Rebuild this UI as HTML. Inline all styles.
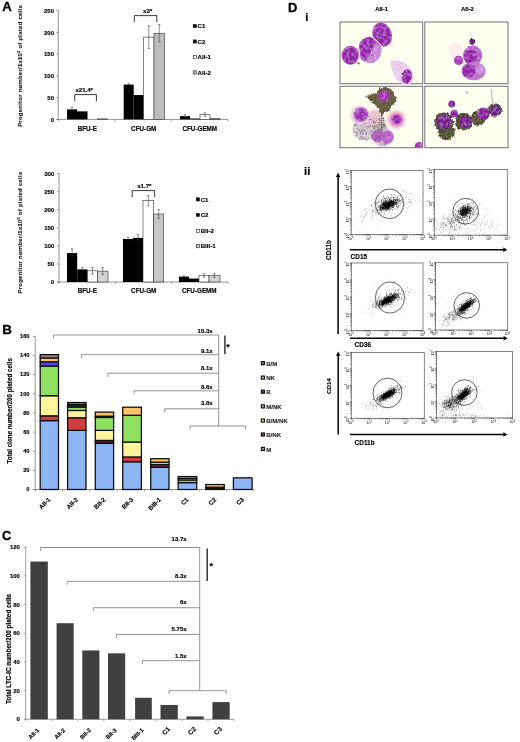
<!DOCTYPE html>
<html><head><meta charset="utf-8"><title>Figure</title>
<style>
html,body{margin:0;padding:0;background:#fff;}
body{width:520px;height:742px;overflow:hidden;font-family:"Liberation Sans",sans-serif;}
svg{display:block;font-family:"Liberation Sans",sans-serif;filter:blur(0.3px);}
</style></head><body>
<svg width="520" height="742" viewBox="0 0 520 742">
<defs>
<filter id="b1" x="-30%" y="-30%" width="160%" height="160%"><feGaussianBlur stdDeviation="0.6"/></filter>
<filter id="b2" x="-30%" y="-30%" width="160%" height="160%"><feGaussianBlur stdDeviation="1.3"/></filter>
<filter id="b3" x="-30%" y="-30%" width="160%" height="160%"><feGaussianBlur stdDeviation="0.4"/></filter>
<filter id="tex" x="-10%" y="-10%" width="120%" height="120%">
<feTurbulence type="fractalNoise" baseFrequency="0.22" numOctaves="2" seed="2" result="dn"/>
<feDisplacementMap in="SourceGraphic" in2="dn" scale="1.8" xChannelSelector="R" yChannelSelector="G" result="sg"/>
<feTurbulence type="fractalNoise" baseFrequency="0.3" numOctaves="2" seed="5" result="n"/>
<feColorMatrix in="n" type="matrix" values="0 0 0 0 0.80  0 0 0 0 0.50  0 0 0 0 0.86  0.95 0 0 0 -0.42" result="w"/>
<feComposite in="w" in2="sg" operator="in" result="wc"/>
<feMerge><feMergeNode in="sg"/><feMergeNode in="wc"/></feMerge>
<feGaussianBlur stdDeviation="0.55"/>
</filter>
<filter id="tex2" x="-10%" y="-10%" width="120%" height="120%">
<feTurbulence type="fractalNoise" baseFrequency="0.3" numOctaves="2" seed="4" result="dn"/>
<feDisplacementMap in="SourceGraphic" in2="dn" scale="4" xChannelSelector="R" yChannelSelector="G" result="sg"/>
<feTurbulence type="fractalNoise" baseFrequency="0.6" numOctaves="2" seed="9" result="n"/>
<feColorMatrix in="n" type="matrix" values="0 0 0 0 0.22  0 0 0 0 0.20  0 0 0 0 0.10  2.2 0 0 0 -0.85" result="w"/>
<feComposite in="w" in2="sg" operator="in" result="wc"/>
<feMerge><feMergeNode in="sg"/><feMergeNode in="wc"/></feMerge>
<feGaussianBlur stdDeviation="0.5"/>
</filter>
<clipPath id="c1"><rect x="340" y="22" width="82.7" height="61.7"/></clipPath>
<clipPath id="c2"><rect x="424.8" y="22" width="83.2" height="61.7"/></clipPath>
<clipPath id="c3"><rect x="340" y="86.3" width="82.7" height="61.4"/></clipPath>
<clipPath id="c4"><rect x="424.8" y="86.3" width="83.2" height="61.4"/></clipPath>
</defs>
<rect width="520" height="742" fill="#fff"/>
<g id="A"><text x="2.20" y="10.80" font-size="13.2" font-weight="bold" fill="#000" stroke="#000" stroke-width="0.3">A</text>
<line x1="58.20" y1="10.10" x2="58.20" y2="120.90" stroke="#777" stroke-width="0.8"/>
<line x1="56.70" y1="119.40" x2="228.00" y2="119.40" stroke="#777" stroke-width="0.8"/>
<line x1="56.20" y1="119.40" x2="58.20" y2="119.40" stroke="#777" stroke-width="0.7"/>
<text x="54.00" y="121.60" font-size="6.0" text-anchor="end" font-weight="bold" fill="#000" stroke="#000" stroke-width="0.14" >0</text>
<line x1="56.20" y1="97.64" x2="58.20" y2="97.64" stroke="#777" stroke-width="0.7"/>
<text x="54.00" y="99.84" font-size="6.0" text-anchor="end" font-weight="bold" fill="#000" stroke="#000" stroke-width="0.14" >50</text>
<line x1="56.20" y1="75.88" x2="58.20" y2="75.88" stroke="#777" stroke-width="0.7"/>
<text x="54.00" y="78.08" font-size="6.0" text-anchor="end" font-weight="bold" fill="#000" stroke="#000" stroke-width="0.14" >100</text>
<line x1="56.20" y1="54.12" x2="58.20" y2="54.12" stroke="#777" stroke-width="0.7"/>
<text x="54.00" y="56.32" font-size="6.0" text-anchor="end" font-weight="bold" fill="#000" stroke="#000" stroke-width="0.14" >150</text>
<line x1="56.20" y1="32.36" x2="58.20" y2="32.36" stroke="#777" stroke-width="0.7"/>
<text x="54.00" y="34.56" font-size="6.0" text-anchor="end" font-weight="bold" fill="#000" stroke="#000" stroke-width="0.14" >200</text>
<line x1="56.20" y1="10.60" x2="58.20" y2="10.60" stroke="#777" stroke-width="0.7"/>
<text x="54.00" y="12.80" font-size="6.0" text-anchor="end" font-weight="bold" fill="#000" stroke="#000" stroke-width="0.14" >250</text>
<line x1="114.80" y1="119.40" x2="114.80" y2="121.40" stroke="#777" stroke-width="0.7"/>
<line x1="171.40" y1="119.40" x2="171.40" y2="121.40" stroke="#777" stroke-width="0.7"/>
<line x1="228.00" y1="119.40" x2="228.00" y2="121.40" stroke="#777" stroke-width="0.7"/>
<text x="19.60" y="65.90" font-size="5.85" text-anchor="middle" font-weight="bold" fill="#1c1c1c" stroke="#1c1c1c" stroke-width="0.14" transform="rotate(-90 19.6 65.9)" dy="2" letter-spacing="0.31">Progenitor number/1x10<tspan font-size="3.6" dy="-2">3</tspan><tspan dy="2"> of plated cells</tspan></text>
<rect x="67.00" y="109.39" width="10.00" height="10.01" fill="#000"/>
<line x1="72.00" y1="107.21" x2="72.00" y2="111.57" stroke="#444" stroke-width="0.6"/>
<line x1="70.80" y1="107.21" x2="73.20" y2="107.21" stroke="#444" stroke-width="0.6"/>
<rect x="77.00" y="111.35" width="10.50" height="8.05" fill="#000"/>
<rect x="97.50" y="118.88" width="10.00" height="0.52" fill="#bbb" stroke="#333" stroke-width="0.6"/>
<rect x="123.70" y="84.58" width="10.00" height="34.82" fill="#000"/>
<line x1="128.70" y1="83.71" x2="128.70" y2="85.45" stroke="#444" stroke-width="0.6"/>
<line x1="127.50" y1="83.71" x2="129.90" y2="83.71" stroke="#444" stroke-width="0.6"/>
<rect x="133.70" y="95.03" width="10.00" height="24.37" fill="#000"/>
<rect x="143.70" y="37.15" width="10.30" height="82.25" fill="#fff" stroke="#333" stroke-width="0.6"/>
<line x1="148.85" y1="25.83" x2="148.85" y2="48.46" stroke="#444" stroke-width="0.6"/>
<line x1="147.65" y1="25.83" x2="150.05" y2="25.83" stroke="#444" stroke-width="0.6"/>
<line x1="147.65" y1="48.46" x2="150.05" y2="48.46" stroke="#444" stroke-width="0.6"/>
<rect x="154.00" y="33.23" width="10.50" height="86.17" fill="#bdbdbd" stroke="#333" stroke-width="0.6"/>
<line x1="159.25" y1="24.53" x2="159.25" y2="41.93" stroke="#444" stroke-width="0.6"/>
<line x1="158.05" y1="24.53" x2="160.45" y2="24.53" stroke="#444" stroke-width="0.6"/>
<line x1="158.05" y1="41.93" x2="160.45" y2="41.93" stroke="#444" stroke-width="0.6"/>
<rect x="180.00" y="116.14" width="10.00" height="3.26" fill="#000"/>
<line x1="185.00" y1="114.40" x2="185.00" y2="117.88" stroke="#444" stroke-width="0.6"/>
<line x1="183.80" y1="114.40" x2="186.20" y2="114.40" stroke="#444" stroke-width="0.6"/>
<rect x="190.00" y="118.53" width="10.00" height="0.87" fill="#000"/>
<rect x="200.00" y="114.61" width="10.00" height="4.79" fill="#fff" stroke="#333" stroke-width="0.6"/>
<line x1="205.00" y1="112.87" x2="205.00" y2="116.35" stroke="#444" stroke-width="0.6"/>
<line x1="203.80" y1="112.87" x2="206.20" y2="112.87" stroke="#444" stroke-width="0.6"/>
<line x1="203.80" y1="116.35" x2="206.20" y2="116.35" stroke="#444" stroke-width="0.6"/>
<rect x="210.00" y="118.31" width="10.00" height="1.09" fill="#bbb" stroke="#333" stroke-width="0.6"/>
<text x="87.30" y="131.30" font-size="6.3" text-anchor="middle" font-weight="bold" fill="#000" stroke="#000" stroke-width="0.14" >BFU-E</text>
<text x="143.70" y="131.30" font-size="6.3" text-anchor="middle" font-weight="bold" fill="#000" stroke="#000" stroke-width="0.14" >CFU-GM</text>
<text x="199.80" y="131.30" font-size="6.3" text-anchor="middle" font-weight="bold" fill="#000" stroke="#000" stroke-width="0.14" >CFU-GEMM</text>
<path d="M74.7 101.2V94.6H96.4V101.2" fill="none" stroke="#222" stroke-width="0.9"/>
<text x="84.20" y="91.70" font-size="6.1" text-anchor="middle" font-weight="bold" fill="#000" stroke="#000" stroke-width="0.14" >x21.4*</text>
<path d="M134.3 22V15.6H156.8V22" fill="none" stroke="#222" stroke-width="0.9"/>
<text x="147.60" y="12.60" font-size="6.1" text-anchor="middle" font-weight="bold" fill="#000" stroke="#000" stroke-width="0.14" >x3*</text>
<rect x="193.20" y="24.50" width="3.20" height="3.20" fill="#000" stroke="#222" stroke-width="0.6"/>
<text x="197.60" y="28.30" font-size="6.1" text-anchor="start" font-weight="bold" fill="#000" stroke="#000" stroke-width="0.14" >C1</text>
<rect x="193.20" y="39.90" width="3.20" height="3.20" fill="#000" stroke="#222" stroke-width="0.6"/>
<text x="197.60" y="43.70" font-size="6.1" text-anchor="start" font-weight="bold" fill="#000" stroke="#000" stroke-width="0.14" >C2</text>
<rect x="193.20" y="55.30" width="3.20" height="3.20" fill="#fff" stroke="#222" stroke-width="0.6"/>
<text x="197.60" y="59.10" font-size="6.1" text-anchor="start" font-weight="bold" fill="#000" stroke="#000" stroke-width="0.14" >AII-1</text>
<rect x="193.20" y="70.80" width="3.20" height="3.20" fill="#bbb" stroke="#222" stroke-width="0.6"/>
<text x="197.60" y="74.60" font-size="6.1" text-anchor="start" font-weight="bold" fill="#000" stroke="#000" stroke-width="0.14" >AII-2</text>
<line x1="59.00" y1="173.00" x2="59.00" y2="283.50" stroke="#777" stroke-width="0.8"/>
<line x1="57.50" y1="282.00" x2="228.00" y2="282.00" stroke="#777" stroke-width="0.8"/>
<line x1="57.00" y1="282.00" x2="59.00" y2="282.00" stroke="#777" stroke-width="0.7"/>
<text x="54.20" y="284.20" font-size="6.0" text-anchor="end" font-weight="bold" fill="#000" stroke="#000" stroke-width="0.14" >0</text>
<line x1="57.00" y1="263.92" x2="59.00" y2="263.92" stroke="#777" stroke-width="0.7"/>
<text x="54.20" y="266.12" font-size="6.0" text-anchor="end" font-weight="bold" fill="#000" stroke="#000" stroke-width="0.14" >50</text>
<line x1="57.00" y1="245.83" x2="59.00" y2="245.83" stroke="#777" stroke-width="0.7"/>
<text x="54.20" y="248.03" font-size="6.0" text-anchor="end" font-weight="bold" fill="#000" stroke="#000" stroke-width="0.14" >100</text>
<line x1="57.00" y1="227.75" x2="59.00" y2="227.75" stroke="#777" stroke-width="0.7"/>
<text x="54.20" y="229.95" font-size="6.0" text-anchor="end" font-weight="bold" fill="#000" stroke="#000" stroke-width="0.14" >150</text>
<line x1="57.00" y1="209.67" x2="59.00" y2="209.67" stroke="#777" stroke-width="0.7"/>
<text x="54.20" y="211.87" font-size="6.0" text-anchor="end" font-weight="bold" fill="#000" stroke="#000" stroke-width="0.14" >200</text>
<line x1="57.00" y1="191.58" x2="59.00" y2="191.58" stroke="#777" stroke-width="0.7"/>
<text x="54.20" y="193.78" font-size="6.0" text-anchor="end" font-weight="bold" fill="#000" stroke="#000" stroke-width="0.14" >250</text>
<line x1="57.00" y1="173.50" x2="59.00" y2="173.50" stroke="#777" stroke-width="0.7"/>
<text x="54.20" y="175.70" font-size="6.0" text-anchor="end" font-weight="bold" fill="#000" stroke="#000" stroke-width="0.14" >300</text>
<line x1="115.33" y1="282.00" x2="115.33" y2="284.00" stroke="#777" stroke-width="0.7"/>
<line x1="171.67" y1="282.00" x2="171.67" y2="284.00" stroke="#777" stroke-width="0.7"/>
<line x1="228.00" y1="282.00" x2="228.00" y2="284.00" stroke="#777" stroke-width="0.7"/>
<text x="19.60" y="232.50" font-size="5.85" text-anchor="middle" font-weight="bold" fill="#1c1c1c" stroke="#1c1c1c" stroke-width="0.14" transform="rotate(-90 19.6 232.5)" dy="2" letter-spacing="0.31">Progenitor number/1x10<tspan font-size="3.6" dy="-2">3</tspan><tspan dy="2"> of plated cells</tspan></text>
<rect x="67.00" y="253.07" width="10.20" height="28.93" fill="#000"/>
<line x1="72.10" y1="248.73" x2="72.10" y2="257.41" stroke="#444" stroke-width="0.6"/>
<line x1="70.90" y1="248.73" x2="73.30" y2="248.73" stroke="#444" stroke-width="0.6"/>
<rect x="77.20" y="269.34" width="10.30" height="12.66" fill="#000"/>
<line x1="82.35" y1="267.53" x2="82.35" y2="271.15" stroke="#444" stroke-width="0.6"/>
<line x1="81.15" y1="267.53" x2="83.55" y2="267.53" stroke="#444" stroke-width="0.6"/>
<rect x="87.50" y="270.79" width="10.00" height="11.21" fill="#fff" stroke="#333" stroke-width="0.6"/>
<line x1="92.50" y1="267.53" x2="92.50" y2="274.04" stroke="#444" stroke-width="0.6"/>
<line x1="91.30" y1="267.53" x2="93.70" y2="267.53" stroke="#444" stroke-width="0.6"/>
<line x1="91.30" y1="274.04" x2="93.70" y2="274.04" stroke="#444" stroke-width="0.6"/>
<rect x="97.50" y="271.15" width="10.50" height="10.85" fill="#d2d2d2" stroke="#333" stroke-width="0.6"/>
<line x1="102.75" y1="267.53" x2="102.75" y2="274.77" stroke="#444" stroke-width="0.6"/>
<line x1="101.55" y1="267.53" x2="103.95" y2="267.53" stroke="#444" stroke-width="0.6"/>
<line x1="101.55" y1="274.77" x2="103.95" y2="274.77" stroke="#444" stroke-width="0.6"/>
<rect x="123.00" y="238.96" width="10.00" height="43.04" fill="#000"/>
<line x1="128.00" y1="237.15" x2="128.00" y2="240.77" stroke="#444" stroke-width="0.6"/>
<line x1="126.80" y1="237.15" x2="129.20" y2="237.15" stroke="#444" stroke-width="0.6"/>
<rect x="133.00" y="237.88" width="10.00" height="44.12" fill="#000"/>
<line x1="138.00" y1="234.62" x2="138.00" y2="241.13" stroke="#444" stroke-width="0.6"/>
<line x1="136.80" y1="234.62" x2="139.20" y2="234.62" stroke="#444" stroke-width="0.6"/>
<rect x="143.00" y="200.62" width="10.70" height="81.38" fill="#fff" stroke="#333" stroke-width="0.6"/>
<line x1="148.35" y1="195.56" x2="148.35" y2="205.69" stroke="#444" stroke-width="0.6"/>
<line x1="147.15" y1="195.56" x2="149.55" y2="195.56" stroke="#444" stroke-width="0.6"/>
<line x1="147.15" y1="205.69" x2="149.55" y2="205.69" stroke="#444" stroke-width="0.6"/>
<rect x="153.70" y="214.01" width="10.00" height="67.99" fill="#c6c6c6" stroke="#333" stroke-width="0.6"/>
<line x1="158.70" y1="209.67" x2="158.70" y2="218.35" stroke="#444" stroke-width="0.6"/>
<line x1="157.50" y1="209.67" x2="159.90" y2="209.67" stroke="#444" stroke-width="0.6"/>
<line x1="157.50" y1="218.35" x2="159.90" y2="218.35" stroke="#444" stroke-width="0.6"/>
<rect x="179.00" y="276.57" width="10.00" height="5.43" fill="#000"/>
<line x1="184.00" y1="275.85" x2="184.00" y2="277.30" stroke="#444" stroke-width="0.6"/>
<line x1="182.80" y1="275.85" x2="185.20" y2="275.85" stroke="#444" stroke-width="0.6"/>
<rect x="189.00" y="278.56" width="10.00" height="3.44" fill="#000"/>
<rect x="199.00" y="275.49" width="10.00" height="6.51" fill="#fff" stroke="#333" stroke-width="0.6"/>
<line x1="204.00" y1="273.68" x2="204.00" y2="277.30" stroke="#444" stroke-width="0.6"/>
<line x1="202.80" y1="273.68" x2="205.20" y2="273.68" stroke="#444" stroke-width="0.6"/>
<line x1="202.80" y1="277.30" x2="205.20" y2="277.30" stroke="#444" stroke-width="0.6"/>
<rect x="209.00" y="275.49" width="11.00" height="6.51" fill="#d2d2d2" stroke="#333" stroke-width="0.6"/>
<line x1="214.50" y1="273.32" x2="214.50" y2="277.66" stroke="#444" stroke-width="0.6"/>
<line x1="213.30" y1="273.32" x2="215.70" y2="273.32" stroke="#444" stroke-width="0.6"/>
<line x1="213.30" y1="277.66" x2="215.70" y2="277.66" stroke="#444" stroke-width="0.6"/>
<text x="87.30" y="293.00" font-size="6.3" text-anchor="middle" font-weight="bold" fill="#000" stroke="#000" stroke-width="0.14" >BFU-E</text>
<text x="143.70" y="293.00" font-size="6.3" text-anchor="middle" font-weight="bold" fill="#000" stroke="#000" stroke-width="0.14" >CFU-GM</text>
<text x="199.30" y="293.00" font-size="6.3" text-anchor="middle" font-weight="bold" fill="#000" stroke="#000" stroke-width="0.14" >CFU-GEMM</text>
<path d="M132.2 197V190.6H154.6V197" fill="none" stroke="#222" stroke-width="0.9"/>
<text x="144.30" y="187.70" font-size="6.1" text-anchor="middle" font-weight="bold" fill="#000" stroke="#000" stroke-width="0.14" >x1.7*</text>
<rect x="196.30" y="197.80" width="3.20" height="3.20" fill="#000" stroke="#222" stroke-width="0.6"/>
<text x="200.70" y="201.60" font-size="6.1" text-anchor="start" font-weight="bold" fill="#000" stroke="#000" stroke-width="0.14" >C1</text>
<rect x="196.30" y="213.30" width="3.20" height="3.20" fill="#000" stroke="#222" stroke-width="0.6"/>
<text x="200.70" y="217.10" font-size="6.1" text-anchor="start" font-weight="bold" fill="#000" stroke="#000" stroke-width="0.14" >C2</text>
<rect x="196.30" y="229.30" width="3.20" height="3.20" fill="#fff" stroke="#222" stroke-width="0.6"/>
<text x="200.70" y="233.10" font-size="6.1" text-anchor="start" font-weight="bold" fill="#000" stroke="#000" stroke-width="0.14" >BII-2</text>
<rect x="196.30" y="244.60" width="3.20" height="3.20" fill="#ccc" stroke="#222" stroke-width="0.6"/>
<text x="200.70" y="248.40" font-size="6.1" text-anchor="start" font-weight="bold" fill="#000" stroke="#000" stroke-width="0.14" >BIII-1</text></g>
<g id="B"><text x="2.30" y="334.00" font-size="13.4" font-weight="bold" fill="#000" stroke="#000" stroke-width="0.3">B</text>
<line x1="35.20" y1="335.90" x2="35.20" y2="491.00" stroke="#777" stroke-width="0.8"/>
<line x1="33.70" y1="489.50" x2="253.80" y2="489.50" stroke="#777" stroke-width="0.8"/>
<line x1="33.00" y1="489.50" x2="35.20" y2="489.50" stroke="#777" stroke-width="0.7"/>
<text x="29.60" y="491.20" font-size="5.8" text-anchor="end" font-weight="bold" fill="#000" stroke="#000" stroke-width="0.14" >0</text>
<line x1="33.00" y1="470.36" x2="35.20" y2="470.36" stroke="#777" stroke-width="0.7"/>
<text x="29.60" y="472.06" font-size="5.8" text-anchor="end" font-weight="bold" fill="#000" stroke="#000" stroke-width="0.14" >20</text>
<line x1="33.00" y1="451.23" x2="35.20" y2="451.23" stroke="#777" stroke-width="0.7"/>
<text x="29.60" y="452.93" font-size="5.8" text-anchor="end" font-weight="bold" fill="#000" stroke="#000" stroke-width="0.14" >40</text>
<line x1="33.00" y1="432.09" x2="35.20" y2="432.09" stroke="#777" stroke-width="0.7"/>
<text x="29.60" y="433.79" font-size="5.8" text-anchor="end" font-weight="bold" fill="#000" stroke="#000" stroke-width="0.14" >60</text>
<line x1="33.00" y1="412.95" x2="35.20" y2="412.95" stroke="#777" stroke-width="0.7"/>
<text x="29.60" y="414.65" font-size="5.8" text-anchor="end" font-weight="bold" fill="#000" stroke="#000" stroke-width="0.14" >80</text>
<line x1="33.00" y1="393.81" x2="35.20" y2="393.81" stroke="#777" stroke-width="0.7"/>
<text x="29.60" y="395.51" font-size="5.8" text-anchor="end" font-weight="bold" fill="#000" stroke="#000" stroke-width="0.14" >100</text>
<line x1="33.00" y1="374.67" x2="35.20" y2="374.67" stroke="#777" stroke-width="0.7"/>
<text x="29.60" y="376.37" font-size="5.8" text-anchor="end" font-weight="bold" fill="#000" stroke="#000" stroke-width="0.14" >120</text>
<line x1="33.00" y1="355.54" x2="35.20" y2="355.54" stroke="#777" stroke-width="0.7"/>
<text x="29.60" y="357.24" font-size="5.8" text-anchor="end" font-weight="bold" fill="#000" stroke="#000" stroke-width="0.14" >140</text>
<line x1="33.00" y1="336.40" x2="35.20" y2="336.40" stroke="#777" stroke-width="0.7"/>
<text x="29.60" y="338.10" font-size="5.8" text-anchor="end" font-weight="bold" fill="#000" stroke="#000" stroke-width="0.14" >160</text>
<line x1="62.53" y1="489.50" x2="62.53" y2="491.50" stroke="#777" stroke-width="0.7"/>
<line x1="89.85" y1="489.50" x2="89.85" y2="491.50" stroke="#777" stroke-width="0.7"/>
<line x1="117.18" y1="489.50" x2="117.18" y2="491.50" stroke="#777" stroke-width="0.7"/>
<line x1="144.50" y1="489.50" x2="144.50" y2="491.50" stroke="#777" stroke-width="0.7"/>
<line x1="171.82" y1="489.50" x2="171.82" y2="491.50" stroke="#777" stroke-width="0.7"/>
<line x1="199.15" y1="489.50" x2="199.15" y2="491.50" stroke="#777" stroke-width="0.7"/>
<line x1="226.48" y1="489.50" x2="226.48" y2="491.50" stroke="#777" stroke-width="0.7"/>
<line x1="253.80" y1="489.50" x2="253.80" y2="491.50" stroke="#777" stroke-width="0.7"/>
<text x="9.60" y="410.80" font-size="6.28" text-anchor="middle" font-weight="bold" fill="#000" stroke="#000" stroke-width="0.14" transform="rotate(-90 9.6 410.8)" dy="2">Total clone number/200 plated cells</text>
<rect x="40.20" y="420.61" width="18.30" height="68.89" fill="#8db4f3" stroke="#0c0c0c" stroke-width="1.25"/>
<rect x="40.20" y="415.82" width="18.30" height="4.78" fill="#cf3f3f" stroke="#0c0c0c" stroke-width="1.25"/>
<rect x="40.20" y="395.73" width="18.30" height="20.09" fill="#fff49b" stroke="#0c0c0c" stroke-width="1.25"/>
<rect x="40.20" y="366.06" width="18.30" height="29.66" fill="#8fe060" stroke="#0c0c0c" stroke-width="1.25"/>
<rect x="40.20" y="361.76" width="18.30" height="4.31" fill="#4848e8" stroke="#0c0c0c" stroke-width="1.25"/>
<rect x="40.20" y="358.03" width="18.30" height="3.73" fill="#ffc266" stroke="#0c0c0c" stroke-width="1.25"/>
<rect x="40.20" y="354.58" width="18.30" height="3.44" fill="#a87878" stroke="#0c0c0c" stroke-width="1.25"/>
<rect x="67.60" y="430.37" width="18.40" height="59.13" fill="#8db4f3" stroke="#0c0c0c" stroke-width="1.25"/>
<rect x="67.60" y="417.73" width="18.40" height="12.63" fill="#cf3f3f" stroke="#0c0c0c" stroke-width="1.25"/>
<rect x="67.60" y="410.46" width="18.40" height="7.27" fill="#fff49b" stroke="#0c0c0c" stroke-width="1.25"/>
<rect x="67.60" y="407.02" width="18.40" height="3.44" fill="#8fe060" stroke="#0c0c0c" stroke-width="1.25"/>
<rect x="67.60" y="404.72" width="18.40" height="2.30" fill="#30305a" stroke="#0c0c0c" stroke-width="1.25"/>
<rect x="67.60" y="402.52" width="18.40" height="2.20" fill="#8a7060" stroke="#0c0c0c" stroke-width="1.25"/>
<rect x="95.30" y="443.28" width="18.30" height="46.22" fill="#8db4f3" stroke="#0c0c0c" stroke-width="1.25"/>
<rect x="95.30" y="440.41" width="18.30" height="2.87" fill="#5a2020" stroke="#0c0c0c" stroke-width="1.25"/>
<rect x="95.30" y="430.37" width="18.30" height="10.05" fill="#fff49b" stroke="#0c0c0c" stroke-width="1.25"/>
<rect x="95.30" y="417.45" width="18.30" height="12.92" fill="#8fe060" stroke="#0c0c0c" stroke-width="1.25"/>
<rect x="95.30" y="416.20" width="18.30" height="1.24" fill="#111" stroke="#0c0c0c" stroke-width="1.25"/>
<rect x="95.30" y="412.09" width="18.30" height="4.11" fill="#ffc266" stroke="#0c0c0c" stroke-width="1.25"/>
<rect x="122.70" y="461.75" width="18.70" height="27.75" fill="#8db4f3" stroke="#0c0c0c" stroke-width="1.25"/>
<rect x="122.70" y="456.97" width="18.70" height="4.78" fill="#cf3f3f" stroke="#0c0c0c" stroke-width="1.25"/>
<rect x="122.70" y="442.04" width="18.70" height="14.93" fill="#fff49b" stroke="#0c0c0c" stroke-width="1.25"/>
<rect x="122.70" y="415.25" width="18.70" height="26.79" fill="#8fe060" stroke="#0c0c0c" stroke-width="1.25"/>
<rect x="122.70" y="407.21" width="18.70" height="8.04" fill="#ffc266" stroke="#0c0c0c" stroke-width="1.25"/>
<rect x="150.70" y="467.30" width="18.30" height="22.20" fill="#8db4f3" stroke="#0c0c0c" stroke-width="1.25"/>
<rect x="150.70" y="464.43" width="18.30" height="2.87" fill="#702020" stroke="#0c0c0c" stroke-width="1.25"/>
<rect x="150.70" y="462.13" width="18.30" height="2.30" fill="#fff49b" stroke="#0c0c0c" stroke-width="1.25"/>
<rect x="150.70" y="458.69" width="18.30" height="3.44" fill="#ffc266" stroke="#0c0c0c" stroke-width="1.25"/>
<rect x="178.20" y="482.61" width="18.50" height="6.89" fill="#8db4f3" stroke="#0c0c0c" stroke-width="1.25"/>
<rect x="178.20" y="479.93" width="18.50" height="2.68" fill="#8fe060" stroke="#0c0c0c" stroke-width="1.25"/>
<rect x="178.20" y="478.40" width="18.50" height="1.53" fill="#fff49b" stroke="#0c0c0c" stroke-width="1.25"/>
<rect x="178.20" y="476.58" width="18.50" height="1.82" fill="#ffc266" stroke="#0c0c0c" stroke-width="1.25"/>
<rect x="205.90" y="488.16" width="18.30" height="1.34" fill="#8db4f3" stroke="#0c0c0c" stroke-width="1.25"/>
<rect x="205.90" y="487.20" width="18.30" height="0.96" fill="#111" stroke="#0c0c0c" stroke-width="1.25"/>
<rect x="205.90" y="484.52" width="18.30" height="2.68" fill="#ffc266" stroke="#0c0c0c" stroke-width="1.25"/>
<rect x="233.40" y="477.83" width="18.70" height="11.67" fill="#8db4f3" stroke="#0c0c0c" stroke-width="1.25"/>
<text x="50.95" y="500.00" font-size="6.2" text-anchor="end" font-weight="bold" fill="#000" stroke="#000" stroke-width="0.14" transform="rotate(-45 50.9 500.0)">AII-1</text>
<text x="78.40" y="500.00" font-size="6.2" text-anchor="end" font-weight="bold" fill="#000" stroke="#000" stroke-width="0.14" transform="rotate(-45 78.4 500.0)">AII-2</text>
<text x="106.05" y="500.00" font-size="6.2" text-anchor="end" font-weight="bold" fill="#000" stroke="#000" stroke-width="0.14" transform="rotate(-45 106.0 500.0)">BII-2</text>
<text x="133.65" y="500.00" font-size="6.2" text-anchor="end" font-weight="bold" fill="#000" stroke="#000" stroke-width="0.14" transform="rotate(-45 133.7 500.0)">BII-3</text>
<text x="161.45" y="500.00" font-size="6.2" text-anchor="end" font-weight="bold" fill="#000" stroke="#000" stroke-width="0.14" transform="rotate(-45 161.5 500.0)">BIII-1</text>
<text x="189.05" y="500.00" font-size="6.2" text-anchor="end" font-weight="bold" fill="#000" stroke="#000" stroke-width="0.14" transform="rotate(-45 189.0 500.0)">C1</text>
<text x="216.65" y="500.00" font-size="6.2" text-anchor="end" font-weight="bold" fill="#000" stroke="#000" stroke-width="0.14" transform="rotate(-45 216.7 500.0)">C2</text>
<text x="244.35" y="500.00" font-size="6.2" text-anchor="end" font-weight="bold" fill="#000" stroke="#000" stroke-width="0.14" transform="rotate(-45 244.3 500.0)">C3</text>
<line x1="218.70" y1="335.00" x2="218.70" y2="426.00" stroke="#777" stroke-width="0.8"/>
<path d="M53.4 338.6V335H218.7" fill="none" stroke="#777" stroke-width="0.8"/>
<text x="212.60" y="333.00" font-size="6.0" text-anchor="end" font-weight="bold" fill="#000" stroke="#000" stroke-width="0.14" >15.3x</text>
<path d="M81.4 358.3V354.7H218.7" fill="none" stroke="#777" stroke-width="0.8"/>
<text x="212.60" y="352.80" font-size="6.0" text-anchor="end" font-weight="bold" fill="#000" stroke="#000" stroke-width="0.14" >9.1x</text>
<path d="M107.9 376.8V373.2H218.7" fill="none" stroke="#777" stroke-width="0.8"/>
<text x="212.60" y="369.70" font-size="6.0" text-anchor="end" font-weight="bold" fill="#000" stroke="#000" stroke-width="0.14" >8.1x</text>
<path d="M134 394.40000000000003V390.8H218.7" fill="none" stroke="#777" stroke-width="0.8"/>
<text x="212.60" y="389.20" font-size="6.0" text-anchor="end" font-weight="bold" fill="#000" stroke="#000" stroke-width="0.14" >8.6x</text>
<path d="M164.8 412.40000000000003V408.8H218.7" fill="none" stroke="#777" stroke-width="0.8"/>
<text x="212.60" y="405.40" font-size="6.0" text-anchor="end" font-weight="bold" fill="#000" stroke="#000" stroke-width="0.14" >3.8x</text>
<path d="M190 429.4V426H245.6V429.4" fill="none" stroke="#777" stroke-width="0.8"/>
<line x1="224.90" y1="335.60" x2="224.90" y2="354.20" stroke="#333" stroke-width="1.5"/>
<text x="227.90" y="349.80" font-size="9" text-anchor="middle" font-weight="bold" fill="#000" stroke="#000" stroke-width="0.14" >*</text>
<rect x="261.40" y="361.70" width="3.00" height="3.00" fill="#a87878" stroke="#111" stroke-width="1.2"/>
<text x="266.20" y="365.80" font-size="6.1" text-anchor="start" font-weight="bold" fill="#2a2a2a" stroke="#2a2a2a" stroke-width="0.14" >B/M</text>
<rect x="261.40" y="376.10" width="3.00" height="3.00" fill="#ffc266" stroke="#111" stroke-width="1.2"/>
<text x="266.20" y="380.20" font-size="6.1" text-anchor="start" font-weight="bold" fill="#2a2a2a" stroke="#2a2a2a" stroke-width="0.14" >NK</text>
<rect x="261.40" y="390.20" width="3.00" height="3.00" fill="#4848e8" stroke="#111" stroke-width="1.2"/>
<text x="266.20" y="394.30" font-size="6.1" text-anchor="start" font-weight="bold" fill="#2a2a2a" stroke="#2a2a2a" stroke-width="0.14" >B</text>
<rect x="261.40" y="404.90" width="3.00" height="3.00" fill="#8fe060" stroke="#111" stroke-width="1.2"/>
<text x="266.20" y="409.00" font-size="6.1" text-anchor="start" font-weight="bold" fill="#2a2a2a" stroke="#2a2a2a" stroke-width="0.14" >M/NK</text>
<rect x="261.40" y="419.00" width="3.00" height="3.00" fill="#fff49b" stroke="#111" stroke-width="1.2"/>
<text x="266.20" y="423.10" font-size="6.1" text-anchor="start" font-weight="bold" fill="#2a2a2a" stroke="#2a2a2a" stroke-width="0.14" >B/M/NK</text>
<rect x="261.40" y="433.00" width="3.00" height="3.00" fill="#cf3f3f" stroke="#111" stroke-width="1.2"/>
<text x="266.20" y="437.10" font-size="6.1" text-anchor="start" font-weight="bold" fill="#2a2a2a" stroke="#2a2a2a" stroke-width="0.14" >B/NK</text>
<rect x="261.40" y="447.40" width="3.00" height="3.00" fill="#8db4f3" stroke="#111" stroke-width="1.2"/>
<text x="266.20" y="451.50" font-size="6.1" text-anchor="start" font-weight="bold" fill="#2a2a2a" stroke="#2a2a2a" stroke-width="0.14" >M</text></g>
<g id="C"><text x="2.10" y="540.40" font-size="12.8" font-weight="bold" fill="#000" stroke="#000" stroke-width="0.3">C</text>
<line x1="25.70" y1="546.70" x2="25.70" y2="720.80" stroke="#888" stroke-width="0.8"/>
<line x1="24.20" y1="719.30" x2="234.00" y2="719.30" stroke="#888" stroke-width="0.8"/>
<line x1="23.70" y1="719.30" x2="25.70" y2="719.30" stroke="#888" stroke-width="0.7"/>
<text x="19.90" y="721.40" font-size="6.0" text-anchor="end" font-weight="bold" fill="#000" stroke="#000" stroke-width="0.14" >0</text>
<line x1="23.70" y1="690.62" x2="25.70" y2="690.62" stroke="#888" stroke-width="0.7"/>
<text x="19.90" y="692.72" font-size="6.0" text-anchor="end" font-weight="bold" fill="#000" stroke="#000" stroke-width="0.14" >20</text>
<line x1="23.70" y1="661.93" x2="25.70" y2="661.93" stroke="#888" stroke-width="0.7"/>
<text x="19.90" y="664.03" font-size="6.0" text-anchor="end" font-weight="bold" fill="#000" stroke="#000" stroke-width="0.14" >40</text>
<line x1="23.70" y1="633.25" x2="25.70" y2="633.25" stroke="#888" stroke-width="0.7"/>
<text x="19.90" y="635.35" font-size="6.0" text-anchor="end" font-weight="bold" fill="#000" stroke="#000" stroke-width="0.14" >60</text>
<line x1="23.70" y1="604.57" x2="25.70" y2="604.57" stroke="#888" stroke-width="0.7"/>
<text x="19.90" y="606.67" font-size="6.0" text-anchor="end" font-weight="bold" fill="#000" stroke="#000" stroke-width="0.14" >80</text>
<line x1="23.70" y1="575.88" x2="25.70" y2="575.88" stroke="#888" stroke-width="0.7"/>
<text x="19.90" y="577.98" font-size="6.0" text-anchor="end" font-weight="bold" fill="#000" stroke="#000" stroke-width="0.14" >100</text>
<line x1="23.70" y1="547.20" x2="25.70" y2="547.20" stroke="#888" stroke-width="0.7"/>
<text x="19.90" y="549.30" font-size="6.0" text-anchor="end" font-weight="bold" fill="#000" stroke="#000" stroke-width="0.14" >120</text>
<line x1="51.74" y1="719.30" x2="51.74" y2="721.30" stroke="#888" stroke-width="0.7"/>
<line x1="77.78" y1="719.30" x2="77.78" y2="721.30" stroke="#888" stroke-width="0.7"/>
<line x1="103.81" y1="719.30" x2="103.81" y2="721.30" stroke="#888" stroke-width="0.7"/>
<line x1="129.85" y1="719.30" x2="129.85" y2="721.30" stroke="#888" stroke-width="0.7"/>
<line x1="155.89" y1="719.30" x2="155.89" y2="721.30" stroke="#888" stroke-width="0.7"/>
<line x1="181.93" y1="719.30" x2="181.93" y2="721.30" stroke="#888" stroke-width="0.7"/>
<line x1="207.96" y1="719.30" x2="207.96" y2="721.30" stroke="#888" stroke-width="0.7"/>
<line x1="234.00" y1="719.30" x2="234.00" y2="721.30" stroke="#888" stroke-width="0.7"/>
<text x="8.60" y="649.00" font-size="6.33" text-anchor="middle" font-weight="bold" fill="#000" stroke="#000" stroke-width="0.14" transform="rotate(-90 8.6 649)" dy="2">Total LTC-IC number/200 plated cells</text>
<rect x="30.40" y="561.54" width="17.40" height="157.76" fill="#404040"/>
<rect x="56.60" y="623.21" width="17.10" height="96.09" fill="#404040"/>
<rect x="82.30" y="650.46" width="17.10" height="68.84" fill="#404040"/>
<rect x="108.00" y="653.33" width="17.20" height="65.97" fill="#404040"/>
<rect x="135.10" y="697.79" width="16.70" height="21.51" fill="#404040"/>
<rect x="160.50" y="704.96" width="17.30" height="14.34" fill="#404040"/>
<rect x="186.40" y="716.43" width="17.30" height="2.87" fill="#404040"/>
<rect x="212.40" y="702.09" width="17.30" height="17.21" fill="#404040"/>
<text x="39.60" y="730.60" font-size="5.8" text-anchor="end" font-weight="bold" fill="#000" stroke="#000" stroke-width="0.14" transform="rotate(-45 39.6 730.6)">AII-1</text>
<text x="65.65" y="730.60" font-size="5.8" text-anchor="end" font-weight="bold" fill="#000" stroke="#000" stroke-width="0.14" transform="rotate(-45 65.7 730.6)">AII-2</text>
<text x="91.35" y="730.60" font-size="5.8" text-anchor="end" font-weight="bold" fill="#000" stroke="#000" stroke-width="0.14" transform="rotate(-45 91.3 730.6)">BII-2</text>
<text x="117.10" y="730.60" font-size="5.8" text-anchor="end" font-weight="bold" fill="#000" stroke="#000" stroke-width="0.14" transform="rotate(-45 117.1 730.6)">BII-3</text>
<text x="143.95" y="730.60" font-size="5.8" text-anchor="end" font-weight="bold" fill="#000" stroke="#000" stroke-width="0.14" transform="rotate(-45 143.9 730.6)">BIII-1</text>
<text x="170.65" y="729.40" font-size="6.6" text-anchor="end" font-weight="bold" fill="#000" stroke="#000" stroke-width="0.14" transform="rotate(-45 170.7 729.4)">C1</text>
<text x="196.55" y="729.40" font-size="6.6" text-anchor="end" font-weight="bold" fill="#000" stroke="#000" stroke-width="0.14" transform="rotate(-45 196.6 729.4)">C2</text>
<text x="222.55" y="729.40" font-size="6.6" text-anchor="end" font-weight="bold" fill="#000" stroke="#000" stroke-width="0.14" transform="rotate(-45 222.6 729.4)">C3</text>
<line x1="199.70" y1="547.30" x2="199.70" y2="690.70" stroke="#777" stroke-width="0.8"/>
<path d="M40.6 550.9V547.5H199.7" fill="none" stroke="#777" stroke-width="0.8"/>
<text x="186.60" y="540.70" font-size="6.0" text-anchor="end" font-weight="bold" fill="#000" stroke="#000" stroke-width="0.14" >13.7x</text>
<path d="M67.1 584.6999999999999V581.3H199.7" fill="none" stroke="#777" stroke-width="0.8"/>
<text x="186.60" y="577.60" font-size="6.0" text-anchor="end" font-weight="bold" fill="#000" stroke="#000" stroke-width="0.14" >8.3x</text>
<path d="M93.7 611.1V607.7H199.7" fill="none" stroke="#777" stroke-width="0.8"/>
<text x="186.60" y="604.00" font-size="6.0" text-anchor="end" font-weight="bold" fill="#000" stroke="#000" stroke-width="0.14" >6x</text>
<path d="M116.4 637.8V634.4H199.7" fill="none" stroke="#777" stroke-width="0.8"/>
<text x="186.60" y="630.60" font-size="6.0" text-anchor="end" font-weight="bold" fill="#000" stroke="#000" stroke-width="0.14" >5.75x</text>
<path d="M142.3 664.1V660.7H199.7" fill="none" stroke="#777" stroke-width="0.8"/>
<text x="186.60" y="657.90" font-size="6.0" text-anchor="end" font-weight="bold" fill="#000" stroke="#000" stroke-width="0.14" >1.5x</text>
<path d="M169.1 694V690.7H226.2V694" fill="none" stroke="#777" stroke-width="0.8"/>
<line x1="207.20" y1="548.60" x2="207.20" y2="581.00" stroke="#333" stroke-width="1.5"/>
<text x="211.20" y="569.00" font-size="9" text-anchor="middle" font-weight="bold" fill="#000" stroke="#000" stroke-width="0.14" >*</text></g>
<g id="D"><text x="287.90" y="11.80" font-size="12.9" font-weight="bold" fill="#000" stroke="#000" stroke-width="0.3">D</text>
<text x="305.30" y="20.50" font-size="11.3" font-weight="bold" fill="#000" stroke="#000" stroke-width="0.2">i</text>
<text x="304.00" y="174.50" font-size="11.3" font-weight="bold" fill="#000" stroke="#000" stroke-width="0.2">ii</text>
<text x="381.60" y="11.00" font-size="5.9" text-anchor="middle" font-weight="bold" fill="#000" stroke="#000" stroke-width="0.14" >AII-1</text>
<text x="467.50" y="11.00" font-size="5.9" text-anchor="middle" font-weight="bold" fill="#000" stroke="#000" stroke-width="0.14" >AII-2</text>
<rect x="340.00" y="22.00" width="82.70" height="61.70" fill="#fffff0" stroke="#707070" stroke-width="1.0"/>
<rect x="424.80" y="22.00" width="83.20" height="61.70" fill="#fffff0" stroke="#707070" stroke-width="1.0"/>
<rect x="340.00" y="86.30" width="82.70" height="61.40" fill="#fffff0" stroke="#707070" stroke-width="1.0"/>
<rect x="424.80" y="86.30" width="83.20" height="61.40" fill="#fffff0" stroke="#707070" stroke-width="1.0"/>
<g clip-path="url(#c1)"><g filter="url(#tex)">
<path d="M390.8 60.6 Q397 58.5 405 63.5 Q413.8 69 413.9 77 Q413.4 85 405.5 85.2 Q397 83 393.5 74.5 Q390.4 67 390.8 60.6Z" fill="#ecd2ee"/>
<ellipse cx="406.7" cy="76.4" rx="5.2" ry="7.1" fill="#9224a8" transform="rotate(12 406.7 76.4)"/>
<ellipse cx="350.3" cy="55.3" rx="8.6" ry="9.5" fill="#a63ab8" />
<ellipse cx="350.0" cy="55.6" rx="7.2" ry="8.2" fill="#9224a8" />
<path d="M369.3 36.6 Q375 37.5 378.6 41.2 Q381.5 44 381.7 47.9 Q382 54 378.6 58.9 Q375 63 369.3 63.1 Q365 63 361.7 60.6 Q358.5 57 358 52.1 Q358 46.5 359.7 42.8 Q363 37 369.3 36.6Z" fill="#c88ad4"/>
<path d="M369.3 37.2 Q374.5 37.5 376.6 41.2 Q375 46 371.6 50 Q369.6 56 366.4 60.6 Q362 60 360 57 Q358.3 52 358.6 47 Q360 38 369.3 37.2Z" fill="#9626ac"/>
<ellipse cx="382.2" cy="34.6" rx="9.6" ry="12.3" fill="#a63ab8" transform="rotate(-18 382.2 34.6)"/>
<ellipse cx="383.0" cy="35.2" rx="7.8" ry="10.5" fill="#9224a8" transform="rotate(-18 383 35.2)"/>
<circle cx="358.6" cy="63.3" r="1.1" fill="#7a5a4a" />
</g>
<g filter="url(#b3)">
<circle cx="375.2" cy="55.8" r="0.51" fill="#f4e4f6"/><circle cx="376.6" cy="51.7" r="0.48" fill="#b060c2"/><circle cx="378.9" cy="54.5" r="0.28" fill="#f4e4f6"/><circle cx="374.9" cy="53.0" r="0.48" fill="#b060c2"/><circle cx="373.6" cy="49.9" r="0.27" fill="#a040b4"/><circle cx="378.1" cy="54.4" r="0.47" fill="#b060c2"/><circle cx="375.6" cy="55.9" r="0.30" fill="#e8c8ee"/><circle cx="372.5" cy="51.5" r="0.29" fill="#b060c2"/><circle cx="373.6" cy="57.0" r="0.28" fill="#f4e4f6"/><circle cx="373.6" cy="50.4" r="0.46" fill="#e8c8ee"/><circle cx="371.7" cy="54.8" r="0.39" fill="#b060c2"/><circle cx="377.1" cy="48.3" r="0.35" fill="#e8c8ee"/><circle cx="371.8" cy="52.5" r="0.54" fill="#e8c8ee"/><circle cx="375.0" cy="52.4" r="0.45" fill="#b060c2"/><circle cx="376.1" cy="51.0" r="0.45" fill="#f4e4f6"/><circle cx="377.2" cy="53.1" r="0.47" fill="#e8c8ee"/><circle cx="374.5" cy="56.7" r="0.45" fill="#a040b4"/><circle cx="377.3" cy="54.3" r="0.36" fill="#f4e4f6"/><circle cx="379.6" cy="55.5" r="0.51" fill="#a040b4"/><circle cx="375.4" cy="57.4" r="0.52" fill="#f4e4f6"/><circle cx="378.6" cy="52.1" r="0.49" fill="#a040b4"/><circle cx="379.8" cy="55.6" r="0.30" fill="#b060c2"/><circle cx="372.5" cy="57.2" r="0.45" fill="#b060c2"/><circle cx="372.8" cy="55.0" r="0.60" fill="#a040b4"/><circle cx="377.6" cy="50.9" r="0.42" fill="#e8c8ee"/><circle cx="374.8" cy="49.8" r="0.34" fill="#f4e4f6"/><circle cx="377.0" cy="56.3" r="0.34" fill="#a040b4"/><circle cx="377.0" cy="51.1" r="0.36" fill="#b060c2"/><circle cx="373.6" cy="55.4" r="0.48" fill="#b060c2"/><circle cx="374.8" cy="49.2" r="0.50" fill="#f4e4f6"/><circle cx="371.9" cy="55.1" r="0.63" fill="#a040b4"/><circle cx="373.7" cy="55.9" r="0.44" fill="#a040b4"/><circle cx="377.1" cy="54.1" r="0.33" fill="#b060c2"/><circle cx="378.7" cy="56.7" r="0.29" fill="#b060c2"/><circle cx="371.6" cy="52.1" r="0.50" fill="#f4e4f6"/><circle cx="378.5" cy="49.9" r="0.31" fill="#e8c8ee"/><circle cx="379.4" cy="52.1" r="0.44" fill="#f4e4f6"/><circle cx="378.7" cy="48.2" r="0.44" fill="#a040b4"/><circle cx="375.3" cy="55.8" r="0.55" fill="#e8c8ee"/><circle cx="372.2" cy="54.2" r="0.46" fill="#b060c2"/>
<circle cx="405.2" cy="68.0" r="0.31" fill="#f8ecf8"/><circle cx="400.2" cy="65.1" r="0.51" fill="#f8ecf8"/><circle cx="398.7" cy="65.7" r="0.40" fill="#dca8e0"/><circle cx="397.8" cy="73.3" r="0.47" fill="#fff"/><circle cx="396.2" cy="64.7" r="0.57" fill="#dca8e0"/><circle cx="402.3" cy="62.4" r="0.55" fill="#dca8e0"/><circle cx="401.6" cy="76.0" r="0.54" fill="#f8ecf8"/><circle cx="401.3" cy="64.0" r="0.33" fill="#fff"/><circle cx="393.1" cy="72.8" r="0.65" fill="#fff"/><circle cx="402.1" cy="71.4" r="0.44" fill="#fff"/><circle cx="401.7" cy="76.8" r="0.61" fill="#f8ecf8"/><circle cx="394.0" cy="70.9" r="0.57" fill="#f8ecf8"/><circle cx="401.3" cy="67.3" r="0.41" fill="#dca8e0"/><circle cx="396.9" cy="70.5" r="0.57" fill="#fff"/><circle cx="406.2" cy="74.5" r="0.54" fill="#d090d8"/><circle cx="394.1" cy="75.1" r="0.54" fill="#dca8e0"/><circle cx="401.2" cy="69.9" r="0.49" fill="#d090d8"/><circle cx="401.0" cy="66.8" r="0.58" fill="#d090d8"/><circle cx="397.6" cy="65.6" r="0.47" fill="#dca8e0"/><circle cx="406.6" cy="71.1" r="0.54" fill="#f8ecf8"/><circle cx="392.9" cy="68.6" r="0.42" fill="#dca8e0"/><circle cx="401.6" cy="66.3" r="0.35" fill="#fff"/><circle cx="393.4" cy="69.9" r="0.38" fill="#d090d8"/><circle cx="400.9" cy="68.1" r="0.55" fill="#d090d8"/><circle cx="396.5" cy="63.1" r="0.46" fill="#dca8e0"/><circle cx="394.7" cy="68.7" r="0.26" fill="#d090d8"/><circle cx="401.0" cy="63.1" r="0.56" fill="#dca8e0"/><circle cx="402.4" cy="75.5" r="0.54" fill="#f8ecf8"/><circle cx="397.5" cy="75.8" r="0.47" fill="#f8ecf8"/><circle cx="401.3" cy="68.6" r="0.33" fill="#f8ecf8"/><circle cx="400.7" cy="63.6" r="0.47" fill="#f8ecf8"/><circle cx="394.5" cy="72.5" r="0.45" fill="#dca8e0"/><circle cx="398.2" cy="64.3" r="0.46" fill="#d090d8"/><circle cx="396.3" cy="69.8" r="0.46" fill="#fff"/><circle cx="406.3" cy="66.0" r="0.33" fill="#d090d8"/><circle cx="401.7" cy="72.4" r="0.43" fill="#f8ecf8"/><circle cx="397.7" cy="64.8" r="0.34" fill="#fff"/><circle cx="401.5" cy="61.7" r="0.31" fill="#fff"/><circle cx="404.4" cy="76.6" r="0.64" fill="#dca8e0"/><circle cx="400.0" cy="67.2" r="0.60" fill="#dca8e0"/><circle cx="406.8" cy="69.5" r="0.31" fill="#d090d8"/><circle cx="404.8" cy="69.8" r="0.42" fill="#fff"/><circle cx="397.3" cy="77.0" r="0.26" fill="#d090d8"/><circle cx="399.1" cy="70.4" r="0.38" fill="#fff"/><circle cx="398.1" cy="69.8" r="0.64" fill="#dca8e0"/>
</g>
<g filter="url(#b3)"><path d="M358.2 44.5 Q360.3 52 359.8 60.5" stroke="#fffff2" stroke-width="1.0" fill="none"/>
<path d="M371.8 36.6 Q377 40.5 382.6 47.2" stroke="#fffff2" stroke-width="1.0" fill="none"/></g>
</g>
<g clip-path="url(#c2)">
<g filter="url(#b2)"><circle cx="455.5" cy="50.5" r="8.0" fill="#fcecec" /></g>
<g filter="url(#tex)">
<circle cx="472.3" cy="41.8" r="3.0" fill="#5e1880" />
<circle cx="458.6" cy="60.4" r="4.7" fill="#ae3ebe" />
<ellipse cx="472.6" cy="55.6" rx="9.6" ry="10.0" fill="#bb60ca" />
<circle cx="470.5" cy="56.5" r="6.6" fill="#9224a8" />
<ellipse cx="473.6" cy="71.0" rx="12.0" ry="9.3" fill="#c070ce" />
<ellipse cx="468.6" cy="70.6" rx="6.6" ry="7.0" fill="#9224a8" />
<circle cx="480.6" cy="69.6" r="4.6" fill="#c890d6" />
</g></g>
<g clip-path="url(#c3)">
<g filter="url(#b2)">
<circle cx="364.5" cy="129.0" r="11.5" fill="#d6cad6" />
<circle cx="360.0" cy="115.0" r="9.5" fill="#e6cfe0" />
<circle cx="375.0" cy="119.0" r="9.5" fill="#e8c4d2" />
<circle cx="381.0" cy="128.0" r="6.0" fill="#b8a8a8" />
<circle cx="396.3" cy="119.6" r="9.2" fill="#efbcd2" />
<circle cx="383.0" cy="137.0" r="9.5" fill="#cdb0d0" />
</g><g filter="url(#tex2)">
<path d="M365.9 96.7 L376.9 93.3 L380.3 87.4 L388.8 87 L394.7 93.3 L396.4 100.1 L393.8 104.3 L390.5 108 L388.8 111.1 L383.7 113.6 L381.6 116 L379.5 109.4 L374.4 104.3 L369.3 100.9 Z" fill="#5e543c"/>
<path d="M382.4 114 Q380.6 120 381.8 126 Q382.6 130 381 133" stroke="#6c6454" stroke-width="1.5" fill="none" stroke-dasharray="2.2 0.9" opacity="0.85"/>
</g><g filter="url(#tex)">
<circle cx="384.0" cy="96.3" r="5.7" fill="#a02eb4" />
<circle cx="360.9" cy="114.6" r="7.4" fill="#b85cc6" />
<circle cx="360.9" cy="114.6" r="5.6" fill="#9c28b0" />
<circle cx="396.7" cy="119.5" r="6.6" fill="#dc80c4" />
<circle cx="396.7" cy="119.5" r="4.4" fill="#9424aa" />
<circle cx="377.4" cy="136.2" r="6.0" fill="#b254c2" />
<circle cx="387.4" cy="137.0" r="6.4" fill="#bc64ca" />
<circle cx="419.2" cy="146.4" r="4.4" fill="#9c26ae" />
</g><g filter="url(#b3)">
<circle cx="369.5" cy="127.3" r="0.39" fill="#8a8290"/><circle cx="369.9" cy="125.0" r="0.61" fill="#c0a0bc"/><circle cx="371.5" cy="119.7" r="0.69" fill="#c0a0bc"/><circle cx="372.6" cy="137.7" r="0.53" fill="#77707c"/><circle cx="362.4" cy="133.8" r="0.63" fill="#a890a4"/><circle cx="362.5" cy="129.5" r="0.69" fill="#77707c"/><circle cx="370.9" cy="131.4" r="0.54" fill="#a890a4"/><circle cx="376.1" cy="132.7" r="0.47" fill="#6e6a76"/><circle cx="373.6" cy="127.7" r="0.68" fill="#9a7aa0"/><circle cx="371.7" cy="134.6" r="0.38" fill="#8a8290"/><circle cx="371.8" cy="126.8" r="0.35" fill="#6e6a76"/><circle cx="359.2" cy="121.4" r="0.37" fill="#c0a0bc"/><circle cx="360.2" cy="128.0" r="0.43" fill="#8a8290"/><circle cx="367.9" cy="127.9" r="0.28" fill="#9a7aa0"/><circle cx="360.3" cy="126.3" r="0.48" fill="#c0a0bc"/><circle cx="374.4" cy="135.0" r="0.47" fill="#c0a0bc"/><circle cx="354.2" cy="124.6" r="0.70" fill="#6e6a76"/><circle cx="360.8" cy="116.5" r="0.43" fill="#77707c"/><circle cx="364.9" cy="123.4" r="0.71" fill="#8a8290"/><circle cx="366.3" cy="126.7" r="0.55" fill="#6e6a76"/><circle cx="362.8" cy="129.2" r="0.57" fill="#c0a0bc"/><circle cx="372.5" cy="120.6" r="0.40" fill="#a890a4"/><circle cx="364.6" cy="125.5" r="0.36" fill="#6e6a76"/><circle cx="359.5" cy="130.1" r="0.70" fill="#9a7aa0"/><circle cx="364.5" cy="130.1" r="0.66" fill="#a890a4"/><circle cx="365.2" cy="128.3" r="0.44" fill="#c0a0bc"/><circle cx="363.7" cy="138.0" r="0.38" fill="#8a8290"/><circle cx="375.0" cy="134.1" r="0.34" fill="#9a7aa0"/><circle cx="367.3" cy="128.5" r="0.41" fill="#a890a4"/><circle cx="376.0" cy="134.2" r="0.65" fill="#a890a4"/><circle cx="359.7" cy="119.2" r="0.66" fill="#c0a0bc"/><circle cx="366.5" cy="117.4" r="0.49" fill="#6e6a76"/><circle cx="363.9" cy="118.1" r="0.29" fill="#77707c"/><circle cx="373.2" cy="121.8" r="0.60" fill="#9a7aa0"/><circle cx="371.3" cy="134.9" r="0.50" fill="#8a8290"/><circle cx="369.9" cy="119.5" r="0.67" fill="#77707c"/><circle cx="375.1" cy="125.3" r="0.31" fill="#8a8290"/><circle cx="370.5" cy="133.6" r="0.32" fill="#c0a0bc"/><circle cx="356.3" cy="124.4" r="0.55" fill="#77707c"/><circle cx="365.7" cy="134.4" r="0.48" fill="#8a8290"/><circle cx="365.4" cy="119.1" r="0.51" fill="#77707c"/><circle cx="354.8" cy="126.2" r="0.48" fill="#8a8290"/><circle cx="368.9" cy="123.0" r="0.61" fill="#a890a4"/><circle cx="364.7" cy="115.7" r="0.49" fill="#c0a0bc"/><circle cx="376.1" cy="133.5" r="0.40" fill="#8a8290"/><circle cx="358.1" cy="121.3" r="0.31" fill="#a890a4"/><circle cx="360.5" cy="136.8" r="0.58" fill="#9a7aa0"/><circle cx="364.2" cy="127.4" r="0.30" fill="#6e6a76"/><circle cx="369.4" cy="127.3" r="0.37" fill="#c0a0bc"/><circle cx="363.2" cy="136.7" r="0.48" fill="#c0a0bc"/><circle cx="366.8" cy="115.6" r="0.52" fill="#6e6a76"/><circle cx="377.5" cy="126.3" r="0.28" fill="#c0a0bc"/><circle cx="373.4" cy="132.1" r="0.71" fill="#6e6a76"/><circle cx="356.4" cy="135.8" r="0.68" fill="#8a8290"/><circle cx="361.4" cy="125.7" r="0.51" fill="#6e6a76"/><circle cx="373.1" cy="136.4" r="0.50" fill="#8a8290"/><circle cx="363.8" cy="122.2" r="0.67" fill="#c0a0bc"/><circle cx="361.6" cy="131.1" r="0.69" fill="#77707c"/><circle cx="359.0" cy="130.1" r="0.34" fill="#6e6a76"/><circle cx="362.4" cy="131.1" r="0.42" fill="#6e6a76"/><circle cx="365.6" cy="116.5" r="0.33" fill="#a890a4"/><circle cx="362.8" cy="116.5" r="0.40" fill="#6e6a76"/><circle cx="372.7" cy="131.1" r="0.66" fill="#8a8290"/><circle cx="360.3" cy="134.3" r="0.40" fill="#8a8290"/><circle cx="365.0" cy="130.8" r="0.57" fill="#77707c"/><circle cx="371.2" cy="125.5" r="0.39" fill="#9a7aa0"/><circle cx="361.1" cy="138.1" r="0.62" fill="#c0a0bc"/><circle cx="373.9" cy="120.5" r="0.55" fill="#9a7aa0"/><circle cx="355.4" cy="124.8" r="0.30" fill="#77707c"/><circle cx="357.2" cy="133.2" r="0.34" fill="#6e6a76"/><circle cx="353.6" cy="129.1" r="0.52" fill="#a890a4"/><circle cx="358.3" cy="129.3" r="0.41" fill="#77707c"/><circle cx="364.8" cy="117.9" r="0.45" fill="#a890a4"/><circle cx="362.6" cy="136.9" r="0.45" fill="#a890a4"/><circle cx="363.4" cy="125.3" r="0.50" fill="#c0a0bc"/><circle cx="357.5" cy="125.4" r="0.42" fill="#c0a0bc"/><circle cx="357.2" cy="132.1" r="0.38" fill="#a890a4"/><circle cx="363.4" cy="131.2" r="0.38" fill="#6e6a76"/><circle cx="367.5" cy="122.8" r="0.28" fill="#c0a0bc"/><circle cx="357.5" cy="135.2" r="0.37" fill="#6e6a76"/><circle cx="363.9" cy="130.6" r="0.40" fill="#6e6a76"/><circle cx="371.7" cy="134.3" r="0.55" fill="#a890a4"/><circle cx="375.4" cy="134.5" r="0.44" fill="#77707c"/><circle cx="354.0" cy="132.1" r="0.65" fill="#8a8290"/><circle cx="371.2" cy="133.8" r="0.61" fill="#c0a0bc"/><circle cx="374.1" cy="126.3" r="0.31" fill="#9a7aa0"/><circle cx="373.1" cy="118.3" r="0.38" fill="#8a8290"/><circle cx="366.3" cy="132.8" r="0.70" fill="#8a8290"/><circle cx="375.4" cy="124.2" r="0.56" fill="#c0a0bc"/><circle cx="375.0" cy="133.6" r="0.28" fill="#a890a4"/><circle cx="366.8" cy="139.9" r="0.56" fill="#6e6a76"/><circle cx="375.1" cy="125.7" r="0.51" fill="#c0a0bc"/><circle cx="364.2" cy="124.0" r="0.31" fill="#9a7aa0"/><circle cx="370.6" cy="126.1" r="0.39" fill="#9a7aa0"/><circle cx="374.7" cy="128.1" r="0.71" fill="#6e6a76"/><circle cx="375.2" cy="125.4" r="0.66" fill="#c0a0bc"/><circle cx="356.4" cy="126.5" r="0.29" fill="#c0a0bc"/><circle cx="363.6" cy="121.3" r="0.28" fill="#c0a0bc"/><circle cx="373.0" cy="121.3" r="0.31" fill="#a890a4"/><circle cx="359.5" cy="117.6" r="0.37" fill="#8a8290"/><circle cx="362.0" cy="118.0" r="0.43" fill="#c0a0bc"/><circle cx="369.1" cy="138.6" r="0.60" fill="#9a7aa0"/><circle cx="373.5" cy="131.6" r="0.36" fill="#a890a4"/><circle cx="366.2" cy="133.8" r="0.61" fill="#6e6a76"/><circle cx="373.1" cy="134.2" r="0.54" fill="#a890a4"/><circle cx="353.6" cy="129.1" r="0.30" fill="#9a7aa0"/><circle cx="370.3" cy="134.2" r="0.37" fill="#9a7aa0"/><circle cx="367.3" cy="130.2" r="0.30" fill="#c0a0bc"/><circle cx="355.5" cy="131.3" r="0.41" fill="#8a8290"/><circle cx="377.6" cy="127.8" r="0.42" fill="#a890a4"/><circle cx="360.3" cy="120.6" r="0.48" fill="#6e6a76"/><circle cx="361.6" cy="121.4" r="0.44" fill="#6e6a76"/><circle cx="361.6" cy="129.5" r="0.31" fill="#8a8290"/><circle cx="358.2" cy="137.8" r="0.33" fill="#a890a4"/><circle cx="357.5" cy="135.5" r="0.41" fill="#c0a0bc"/><circle cx="374.4" cy="133.5" r="0.36" fill="#9a7aa0"/><circle cx="370.3" cy="125.3" r="0.44" fill="#c0a0bc"/><circle cx="373.4" cy="129.5" r="0.63" fill="#c0a0bc"/><circle cx="367.8" cy="128.6" r="0.30" fill="#8a8290"/><circle cx="365.0" cy="138.8" r="0.67" fill="#6e6a76"/><circle cx="360.8" cy="133.5" r="0.69" fill="#8a8290"/><circle cx="364.7" cy="138.6" r="0.41" fill="#6e6a76"/><circle cx="362.4" cy="138.2" r="0.54" fill="#77707c"/><circle cx="368.5" cy="126.9" r="0.64" fill="#8a8290"/><circle cx="353.4" cy="129.9" r="0.69" fill="#c0a0bc"/><circle cx="368.5" cy="116.4" r="0.63" fill="#a890a4"/><circle cx="370.3" cy="125.7" r="0.63" fill="#77707c"/><circle cx="362.1" cy="137.8" r="0.34" fill="#a890a4"/><circle cx="362.2" cy="134.2" r="0.43" fill="#9a7aa0"/><circle cx="370.4" cy="130.6" r="0.61" fill="#a890a4"/><circle cx="357.1" cy="133.5" r="0.49" fill="#9a7aa0"/><circle cx="359.8" cy="139.0" r="0.66" fill="#8a8290"/><circle cx="365.2" cy="131.6" r="0.32" fill="#c0a0bc"/><circle cx="377.8" cy="127.1" r="0.35" fill="#a890a4"/><circle cx="357.0" cy="132.9" r="0.57" fill="#77707c"/><circle cx="354.8" cy="125.4" r="0.61" fill="#6e6a76"/><circle cx="362.9" cy="137.1" r="0.44" fill="#77707c"/><circle cx="365.0" cy="136.3" r="0.36" fill="#a890a4"/><circle cx="372.2" cy="137.7" r="0.53" fill="#6e6a76"/><circle cx="371.3" cy="130.5" r="0.38" fill="#9a7aa0"/><circle cx="366.8" cy="139.2" r="0.56" fill="#8a8290"/><circle cx="372.4" cy="133.2" r="0.64" fill="#c0a0bc"/><circle cx="367.7" cy="126.7" r="0.40" fill="#8a8290"/><circle cx="374.7" cy="131.0" r="0.64" fill="#a890a4"/><circle cx="372.4" cy="124.8" r="0.66" fill="#c0a0bc"/><circle cx="356.7" cy="121.4" r="0.57" fill="#8a8290"/><circle cx="373.1" cy="134.0" r="0.55" fill="#a890a4"/><circle cx="372.6" cy="129.7" r="0.29" fill="#6e6a76"/><circle cx="375.9" cy="130.5" r="0.68" fill="#8a8290"/><circle cx="368.9" cy="120.7" r="0.44" fill="#9a7aa0"/><circle cx="363.4" cy="133.2" r="0.62" fill="#9a7aa0"/><circle cx="357.6" cy="128.8" r="0.63" fill="#77707c"/><circle cx="356.0" cy="124.9" r="0.32" fill="#a890a4"/><circle cx="360.3" cy="131.9" r="0.71" fill="#77707c"/><circle cx="361.2" cy="139.4" r="0.41" fill="#9a7aa0"/><circle cx="371.5" cy="122.6" r="0.28" fill="#6e6a76"/><circle cx="360.7" cy="121.8" r="0.45" fill="#8a8290"/><circle cx="361.0" cy="130.0" r="0.32" fill="#8a8290"/><circle cx="355.7" cy="134.5" r="0.48" fill="#a890a4"/><circle cx="367.4" cy="130.1" r="0.34" fill="#c0a0bc"/><circle cx="373.9" cy="133.2" r="0.44" fill="#9a7aa0"/><circle cx="369.0" cy="134.5" r="0.35" fill="#a890a4"/><circle cx="369.2" cy="126.1" r="0.49" fill="#a890a4"/><circle cx="361.9" cy="138.8" r="0.29" fill="#c0a0bc"/><circle cx="361.7" cy="137.0" r="0.56" fill="#8a8290"/><circle cx="373.6" cy="122.4" r="0.64" fill="#a890a4"/><circle cx="358.1" cy="119.1" r="0.55" fill="#9a7aa0"/><circle cx="372.0" cy="118.6" r="0.36" fill="#a890a4"/><circle cx="377.2" cy="131.1" r="0.34" fill="#6e6a76"/><circle cx="369.9" cy="132.3" r="0.59" fill="#a890a4"/>
<circle cx="384.1" cy="125.3" r="0.66" fill="#5e5440"/><circle cx="377.0" cy="120.5" r="0.49" fill="#7a6a58"/><circle cx="373.7" cy="122.3" r="0.45" fill="#7a6a58"/><circle cx="377.8" cy="127.3" r="0.49" fill="#7a6a58"/><circle cx="374.6" cy="125.5" r="0.31" fill="#8a8290"/><circle cx="383.8" cy="123.6" r="0.51" fill="#8a8290"/><circle cx="379.9" cy="119.3" r="0.39" fill="#7a6a58"/><circle cx="377.5" cy="125.1" r="0.47" fill="#7a6a58"/><circle cx="382.9" cy="126.5" r="0.54" fill="#5e5440"/><circle cx="381.4" cy="124.6" r="0.74" fill="#7a6a58"/><circle cx="379.9" cy="119.1" r="0.33" fill="#8a8290"/><circle cx="383.5" cy="120.5" r="0.68" fill="#5e5440"/><circle cx="383.4" cy="118.5" r="0.65" fill="#5e5440"/><circle cx="381.4" cy="130.5" r="0.54" fill="#5e5440"/><circle cx="376.7" cy="118.5" r="0.41" fill="#7a6a58"/><circle cx="376.3" cy="121.8" r="0.46" fill="#8a8290"/><circle cx="378.0" cy="130.2" r="0.37" fill="#8a8290"/><circle cx="383.7" cy="122.9" r="0.58" fill="#8a8290"/><circle cx="375.0" cy="123.9" r="0.32" fill="#5e5440"/><circle cx="374.4" cy="127.2" r="0.43" fill="#7a6a58"/><circle cx="381.3" cy="122.2" r="0.68" fill="#5e5440"/><circle cx="379.2" cy="122.5" r="0.71" fill="#7a6a58"/><circle cx="374.0" cy="122.2" r="0.72" fill="#5e5440"/><circle cx="378.9" cy="129.1" r="0.71" fill="#8a8290"/><circle cx="380.1" cy="120.6" r="0.78" fill="#8a8290"/><circle cx="381.4" cy="127.2" r="0.34" fill="#5e5440"/><circle cx="381.7" cy="129.4" r="0.32" fill="#8a8290"/><circle cx="378.9" cy="129.6" r="0.77" fill="#8a8290"/><circle cx="385.0" cy="121.1" r="0.65" fill="#8a8290"/><circle cx="381.6" cy="124.6" r="0.60" fill="#7a6a58"/><circle cx="375.3" cy="126.1" r="0.32" fill="#7a6a58"/><circle cx="379.8" cy="129.6" r="0.31" fill="#5e5440"/><circle cx="375.5" cy="122.4" r="0.55" fill="#8a8290"/><circle cx="379.9" cy="129.3" r="0.58" fill="#5e5440"/><circle cx="374.7" cy="128.7" r="0.38" fill="#5e5440"/><circle cx="382.2" cy="122.7" r="0.37" fill="#5e5440"/><circle cx="381.5" cy="125.0" r="0.62" fill="#7a6a58"/><circle cx="376.1" cy="126.1" r="0.31" fill="#8a8290"/><circle cx="381.8" cy="118.0" r="0.59" fill="#8a8290"/><circle cx="372.6" cy="126.3" r="0.65" fill="#5e5440"/><circle cx="379.1" cy="124.1" r="0.33" fill="#5e5440"/><circle cx="376.2" cy="125.9" r="0.33" fill="#5e5440"/><circle cx="384.2" cy="124.4" r="0.75" fill="#5e5440"/><circle cx="374.7" cy="126.6" r="0.61" fill="#8a8290"/><circle cx="375.0" cy="119.1" r="0.38" fill="#7a6a58"/><circle cx="384.1" cy="126.2" r="0.78" fill="#8a8290"/><circle cx="380.2" cy="118.2" r="0.30" fill="#7a6a58"/><circle cx="378.9" cy="119.2" r="0.66" fill="#7a6a58"/><circle cx="382.2" cy="130.2" r="0.43" fill="#8a8290"/><circle cx="382.9" cy="125.0" r="0.66" fill="#8a8290"/>
<circle cx="385.8" cy="135.6" r="0.30" fill="#8a4a9a"/><circle cx="379.0" cy="130.0" r="0.70" fill="#8a4a9a"/><circle cx="377.1" cy="130.9" r="0.37" fill="#6a5a70"/><circle cx="385.7" cy="143.7" r="0.65" fill="#6a5a70"/><circle cx="388.5" cy="134.6" r="0.42" fill="#8a4a9a"/><circle cx="380.1" cy="140.4" r="0.67" fill="#8a4a9a"/><circle cx="376.3" cy="138.0" r="0.28" fill="#6a5a70"/><circle cx="375.7" cy="139.6" r="0.53" fill="#8a4a9a"/><circle cx="383.2" cy="132.1" r="0.53" fill="#6a5a70"/><circle cx="382.8" cy="138.0" r="0.32" fill="#6a5a70"/><circle cx="380.3" cy="139.5" r="0.29" fill="#6a5a70"/><circle cx="386.1" cy="141.9" r="0.29" fill="#6a5a70"/><circle cx="381.8" cy="135.0" r="0.53" fill="#8a4a9a"/><circle cx="384.4" cy="144.4" r="0.51" fill="#6a5a70"/><circle cx="387.1" cy="132.2" r="0.59" fill="#8a4a9a"/><circle cx="384.8" cy="139.3" r="0.32" fill="#6a5a70"/><circle cx="389.3" cy="134.6" r="0.61" fill="#6a5a70"/><circle cx="384.9" cy="131.3" r="0.40" fill="#6a5a70"/><circle cx="386.8" cy="142.3" r="0.56" fill="#8a4a9a"/><circle cx="379.8" cy="141.7" r="0.28" fill="#8a4a9a"/><circle cx="383.6" cy="136.3" r="0.61" fill="#8a4a9a"/><circle cx="382.7" cy="130.8" r="0.48" fill="#8a4a9a"/><circle cx="381.0" cy="136.0" r="0.46" fill="#8a4a9a"/><circle cx="379.5" cy="136.7" r="0.48" fill="#6a5a70"/><circle cx="378.4" cy="136.1" r="0.65" fill="#6a5a70"/>
</g></g>
<g clip-path="url(#c4)"><g filter="url(#tex2)">
<circle cx="446.3" cy="131.5" r="8.6" fill="#46442a" />
<circle cx="443.6" cy="122.0" r="9.6" fill="#48304e" />
<circle cx="463.6" cy="121.6" r="8.8" fill="#44422a" />
<circle cx="478.6" cy="118.2" r="7.6" fill="#4e4a32" />
<circle cx="495.0" cy="110.0" r="6.6" fill="#42284c" />
</g><g filter="url(#tex)">
<circle cx="444.3" cy="121.4" r="6.9" fill="#761c8e" />
<circle cx="451.7" cy="104.0" r="3.4" fill="#8422a2" />
<circle cx="454.3" cy="113.7" r="3.9" fill="#8824a6" />
<circle cx="465.0" cy="122.0" r="6.1" fill="#781e90" />
<circle cx="483.4" cy="113.8" r="6.3" fill="#84249a" />
<circle cx="495.4" cy="111.0" r="4.7" fill="#6c1886" />
<circle cx="467.0" cy="92.5" r="0.9" fill="#b070c0" />
</g>
<path d="M491 89 L492.6 104" stroke="#8a8a70" stroke-width="0.6" fill="none"/>
<path d="M426 119 L436 129" stroke="#d0c8b8" stroke-width="0.5" fill="none"/>
</g>
<rect x="351.20" y="170.50" width="71.80" height="64.00" fill="#fff" stroke="#666" stroke-width="0.8"/>
<text x="350.8" y="239.7" font-size="3.5" text-anchor="middle" fill="#000">10<tspan font-size="2.6" dy="-1.3">0</tspan></text>
<text x="348.5" y="235.5" font-size="3.5" text-anchor="middle" fill="#000" transform="rotate(-90 348.5 235.5)">10<tspan font-size="2.6" dy="-1.3">0</tspan></text>
<text x="368.8" y="239.7" font-size="3.5" text-anchor="middle" fill="#000">10<tspan font-size="2.6" dy="-1.3">1</tspan></text>
<text x="348.5" y="219.5" font-size="3.5" text-anchor="middle" fill="#000" transform="rotate(-90 348.5 219.5)">10<tspan font-size="2.6" dy="-1.3">1</tspan></text>
<text x="386.7" y="239.7" font-size="3.5" text-anchor="middle" fill="#000">10<tspan font-size="2.6" dy="-1.3">2</tspan></text>
<text x="348.5" y="203.5" font-size="3.5" text-anchor="middle" fill="#000" transform="rotate(-90 348.5 203.5)">10<tspan font-size="2.6" dy="-1.3">2</tspan></text>
<text x="404.7" y="239.7" font-size="3.5" text-anchor="middle" fill="#000">10<tspan font-size="2.6" dy="-1.3">3</tspan></text>
<text x="348.5" y="187.5" font-size="3.5" text-anchor="middle" fill="#000" transform="rotate(-90 348.5 187.5)">10<tspan font-size="2.6" dy="-1.3">3</tspan></text>
<text x="422.6" y="239.7" font-size="3.5" text-anchor="middle" fill="#000">10<tspan font-size="2.6" dy="-1.3">4</tspan></text>
<text x="348.5" y="171.5" font-size="3.5" text-anchor="middle" fill="#000" transform="rotate(-90 348.5 171.5)">10<tspan font-size="2.6" dy="-1.3">4</tspan></text>
<path d="M351.2 234.5v1.7M351.2 234.5h-1.7M369.1 234.5v1.7M351.2 218.5h-1.7M387.1 234.5v1.7M351.2 202.5h-1.7M405.1 234.5v1.7M351.2 186.5h-1.7M423.0 234.5v1.7M351.2 170.5h-1.7M356.6 234.5v1M351.2 229.7h-1M359.8 234.5v1M351.2 226.8h-1M362.0 234.5v1M351.2 224.9h-1M363.8 234.5v1M351.2 223.3h-1M365.2 234.5v1M351.2 222.0h-1M366.5 234.5v1M351.2 220.9h-1M367.4 234.5v1M351.2 220.1h-1M368.3 234.5v1M351.2 219.3h-1M374.5 234.5v1M351.2 213.7h-1M377.8 234.5v1M351.2 210.8h-1M379.9 234.5v1M351.2 208.9h-1M381.7 234.5v1M351.2 207.3h-1M383.2 234.5v1M351.2 206.0h-1M384.4 234.5v1M351.2 204.9h-1M385.3 234.5v1M351.2 204.1h-1M386.2 234.5v1M351.2 203.3h-1M392.5 234.5v1M351.2 197.7h-1M395.7 234.5v1M351.2 194.8h-1M397.9 234.5v1M351.2 192.9h-1M399.7 234.5v1M351.2 191.3h-1M401.1 234.5v1M351.2 190.0h-1M402.4 234.5v1M351.2 188.9h-1M403.3 234.5v1M351.2 188.1h-1M404.2 234.5v1M351.2 187.3h-1M410.4 234.5v1M351.2 181.7h-1M413.7 234.5v1M351.2 178.8h-1M415.8 234.5v1M351.2 176.9h-1M417.6 234.5v1M351.2 175.3h-1M419.1 234.5v1M351.2 174.0h-1M420.3 234.5v1M351.2 172.9h-1M421.2 234.5v1M351.2 172.1h-1M422.1 234.5v1M351.2 171.3h-1" stroke="#111" stroke-width="0.5" fill="none"/>
<path d="M381.5 210.7h.6M379.5 214.6h.6M364.9 225.4h.6M381.2 209.5h.6M360.1 216.1h.6M375.1 205.0h.6M373.5 211.0h.6M377.2 210.0h.6M372.2 215.1h.6M377.7 208.6h.6M361.9 220.7h.6M370.1 209.8h.6M371.5 218.7h.6M379.1 209.4h.6M390.4 206.8h.6M391.4 208.9h.6M380.5 210.5h.6M360.9 218.8h.6M383.7 206.7h.6M367.5 212.6h.6M379.8 208.7h.6M374.5 212.3h.6M364.2 217.0h.6M373.8 215.3h.6M369.2 214.6h.6M373.2 210.7h.6M362.6 218.5h.6M374.9 213.9h.6M375.6 213.9h.6M383.5 210.4h.6M360.6 216.1h.6M389.5 212.8h.6M370.8 214.3h.6M380.6 206.8h.6M371.9 218.2h.6M377.5 209.3h.6M376.4 212.2h.6M362.2 211.0h.6M361.9 221.7h.6M381.1 209.9h.6M378.1 210.8h.6M386.8 204.7h.6M366.0 213.5h.6M362.3 222.1h.6M383.9 210.8h.6M365.3 215.1h.6M372.2 216.0h.6M364.6 214.6h.6M363.1 216.9h.6M362.3 216.3h.6M388.5 206.4h.6M382.3 209.0h.6M363.2 218.0h.6M372.3 212.7h.6M365.8 214.6h.6M365.2 216.3h.6M373.0 216.7h.6M381.5 210.4h.6M373.1 213.7h.6M353.3 224.6h.6M362.7 214.7h.6M366.1 214.5h.6M363.0 219.5h.6M366.7 213.1h.6M356.5 220.1h.6M375.8 212.2h.6M371.2 212.2h.6M375.7 215.4h.6M378.7 213.6h.6M388.0 193.2h.6M421.7 193.2h.6M397.2 211.2h.6M382.9 191.5h.6M396.1 216.1h.6M411.1 200.3h.6M408.0 201.7h.6M366.0 210.9h.6M390.4 206.3h.6M410.4 210.4h.6M390.9 205.4h.6M391.0 213.3h.6M377.3 225.7h.6M396.1 206.6h.6M394.5 213.5h.6M392.1 212.8h.6M379.8 202.2h.6M399.8 200.3h.6M391.6 208.1h.6M409.0 194.9h.6M384.4 213.7h.6M396.6 202.4h.6M381.0 186.6h.6M366.8 211.7h.6M395.0 197.0h.6M369.7 208.5h.6M409.4 193.6h.6M389.0 204.7h.6M381.4 201.8h.6M379.4 221.3h.6M373.7 204.5h.6M376.1 196.0h.6M407.6 196.9h.6M400.0 195.8h.6M395.3 198.0h.6M397.7 198.6h.6M379.8 210.3h.6M380.0 198.3h.6M398.2 211.3h.6M380.1 209.6h.6M415.3 200.3h.6M408.9 202.9h.6M408.6 197.1h.6M406.1 202.6h.6M419.8 197.4h.6M402.8 199.5h.6M402.3 200.9h.6M395.4 206.1h.6M415.8 201.5h.6M405.7 201.6h.6M410.3 202.1h.6M405.2 197.2h.6M418.8 198.6h.6M403.4 203.5h.6M408.1 200.1h.6M419.8 200.6h.6M411.1 201.9h.6M411.2 202.5h.6M411.8 197.7h.6M407.8 202.2h.6M411.3 204.1h.6M421.4 202.4h.6M408.3 203.5h.6M419.2 200.6h.6M406.2 196.8h.6" stroke="#444" stroke-width="0.5" fill="none" stroke-opacity="0.7"/>
<path d="M381.9 206.5h.6M392.4 204.1h.6M381.7 207.5h.6M388.9 202.2h.6M383.1 209.5h.6M390.4 202.9h.6M393.7 200.5h.6M387.3 205.7h.6M399.2 200.9h.6M384.9 208.4h.6M387.9 204.6h.6M386.1 205.7h.6M388.3 203.3h.6M392.3 202.7h.6M379.1 207.0h.6M381.4 207.9h.6M381.0 207.6h.6M384.0 206.0h.6M402.3 199.2h.6M392.3 205.8h.6M385.8 204.4h.6M386.9 204.5h.6M388.8 206.6h.6M390.7 205.4h.6M396.3 202.5h.6M390.7 203.8h.6M392.3 204.3h.6M392.1 203.4h.6M392.8 201.6h.6M388.8 206.1h.6M390.7 202.8h.6M395.2 202.7h.6M389.7 203.1h.6M388.7 204.1h.6M388.8 205.7h.6M383.4 207.5h.6M389.2 201.3h.6M391.2 201.4h.6M390.6 202.4h.6M387.9 203.3h.6M395.7 202.4h.6M383.1 202.8h.6M388.0 202.8h.6M392.3 205.4h.6M397.2 197.5h.6M387.9 203.4h.6M388.8 206.3h.6M386.8 204.5h.6M392.1 201.7h.6M386.9 202.5h.6M383.7 205.0h.6M392.8 203.5h.6M380.3 209.8h.6M388.3 203.6h.6M395.2 204.0h.6M387.1 203.9h.6M388.6 209.5h.6M389.5 199.5h.6M392.7 204.8h.6M385.6 205.4h.6M398.2 199.4h.6M387.0 202.1h.6M385.9 201.9h.6M384.9 207.1h.6M389.8 201.2h.6M390.3 203.3h.6M380.0 209.5h.6M385.3 207.0h.6M390.4 204.5h.6M391.0 203.4h.6M386.0 205.4h.6M388.9 202.7h.6M385.6 206.3h.6M380.4 204.6h.6M394.2 202.7h.6M386.4 208.0h.6M388.2 204.3h.6M397.1 200.6h.6M385.9 210.7h.6M393.7 202.1h.6M380.3 207.6h.6M378.0 201.8h.6M392.2 202.0h.6M388.3 209.1h.6M388.1 208.0h.6M391.8 207.7h.6M382.7 204.5h.6M395.8 204.1h.6M380.1 206.2h.6M392.1 205.2h.6M385.0 207.5h.6M382.8 208.3h.6M392.7 201.5h.6M396.8 201.5h.6M387.7 207.0h.6M388.0 207.5h.6M379.2 207.0h.6M393.4 200.9h.6M393.4 202.2h.6M384.3 206.1h.6M386.7 207.6h.6M381.1 210.7h.6M387.5 204.7h.6M384.5 203.3h.6M388.0 203.7h.6M393.6 204.3h.6M378.3 207.2h.6M383.6 203.9h.6M388.4 202.6h.6M392.5 207.3h.6M391.3 204.9h.6M384.5 207.1h.6M390.4 202.1h.6M393.3 206.1h.6M386.7 210.2h.6M386.7 204.1h.6M384.0 205.9h.6M387.9 202.8h.6M384.5 207.9h.6M383.0 203.3h.6M392.5 203.3h.6M388.5 204.4h.6M388.7 205.0h.6M387.0 207.8h.6M383.6 203.2h.6M389.9 203.9h.6M386.6 205.3h.6M389.6 205.5h.6M388.3 204.2h.6M384.8 207.7h.6M383.9 208.7h.6M393.2 207.6h.6M386.8 206.6h.6M384.8 205.9h.6M392.6 202.8h.6M387.4 206.3h.6M386.4 203.6h.6M386.7 207.7h.6M382.8 209.2h.6M380.6 205.6h.6M389.3 204.8h.6M394.6 203.5h.6M390.4 202.2h.6M381.8 210.5h.6M382.8 205.1h.6M394.2 204.8h.6M392.5 203.8h.6M386.2 206.7h.6M387.5 208.8h.6M384.0 209.0h.6M388.3 200.4h.6M400.0 200.7h.6M380.2 208.8h.6M382.0 203.2h.6M390.7 205.3h.6M391.4 202.4h.6M380.7 208.9h.6M386.5 205.4h.6M388.4 205.4h.6M388.9 205.7h.6M382.5 203.9h.6M388.9 203.6h.6M380.6 208.2h.6M392.2 205.8h.6M392.8 203.7h.6M389.5 204.5h.6M387.7 202.5h.6M384.7 203.0h.6M384.8 208.0h.6M391.5 205.6h.6M385.3 204.1h.6M394.3 206.0h.6M388.5 200.8h.6M393.1 203.3h.6M385.1 206.6h.6M382.7 207.5h.6M386.9 205.6h.6M393.0 203.3h.6M380.4 205.8h.6M383.1 207.7h.6M387.2 205.8h.6M383.3 207.2h.6M397.8 202.1h.6M386.2 203.3h.6M390.4 202.3h.6M392.8 206.9h.6M383.7 206.3h.6M388.9 201.8h.6M389.9 204.6h.6M387.9 205.3h.6M388.2 203.4h.6M386.7 207.0h.6M383.0 204.6h.6M392.6 200.9h.6M390.8 202.0h.6M387.1 203.8h.6M383.1 207.2h.6M383.8 205.0h.6M385.1 206.2h.6M388.4 201.9h.6M384.7 208.1h.6M392.0 205.5h.6M390.0 205.2h.6M388.4 208.4h.6M391.1 204.6h.6M382.1 203.0h.6M388.3 197.5h.6M389.7 204.9h.6M386.9 202.0h.6M387.2 204.3h.6M390.5 205.7h.6M388.5 205.7h.6M381.4 205.7h.6M390.5 203.7h.6M385.0 210.2h.6M389.8 204.3h.6M380.1 208.1h.6M380.8 207.8h.6M388.0 204.1h.6M388.4 204.3h.6M382.8 207.7h.6M385.5 206.3h.6M388.4 203.4h.6M396.7 206.6h.6M389.5 204.6h.6M397.1 199.3h.6M380.0 207.3h.6M384.6 204.2h.6M383.0 207.1h.6M387.1 205.4h.6M386.3 209.3h.6M388.9 202.4h.6M388.0 206.9h.6M388.1 203.6h.6M386.8 205.3h.6M394.7 204.4h.6M386.5 209.4h.6M385.0 207.6h.6M383.8 207.9h.6M395.7 202.1h.6M385.5 201.3h.6M388.6 208.2h.6M390.1 205.9h.6M395.8 204.2h.6M386.2 208.9h.6M388.8 206.6h.6M387.6 205.8h.6M384.2 204.4h.6M391.7 203.2h.6M384.4 208.5h.6M387.1 200.3h.6M386.1 207.2h.6M385.3 208.2h.6M383.4 207.1h.6M394.0 202.4h.6M386.5 208.8h.6M388.6 204.7h.6M382.9 209.1h.6M386.7 203.3h.6M390.2 203.5h.6M385.9 205.0h.6M386.0 201.2h.6M382.8 207.7h.6M393.4 203.2h.6M394.0 202.5h.6M388.5 205.4h.6M382.1 209.2h.6M397.0 199.9h.6M389.6 202.2h.6M389.4 202.2h.6M386.6 205.9h.6M392.2 203.9h.6M381.8 207.8h.6M384.7 204.9h.6M385.2 208.2h.6M385.0 202.9h.6M387.3 204.8h.6M387.4 204.5h.6M390.7 200.9h.6M379.3 205.6h.6M387.8 205.6h.6M398.4 201.0h.6M395.6 199.8h.6M382.7 206.0h.6M391.0 203.9h.6M377.5 209.8h.6M387.5 207.3h.6M395.9 202.1h.6M386.1 206.2h.6M384.7 207.8h.6M387.8 204.3h.6M385.4 206.1h.6M381.0 206.6h.6M384.1 206.0h.6M383.9 207.5h.6M389.4 206.7h.6M398.6 200.6h.6M387.8 206.4h.6M393.7 199.7h.6M389.9 206.9h.6M384.9 204.8h.6M386.2 208.0h.6M382.9 208.5h.6M388.1 206.1h.6M385.7 200.0h.6M396.2 203.6h.6M389.1 204.2h.6M386.2 203.4h.6M386.4 206.2h.6M386.0 205.9h.6M392.8 201.3h.6M381.9 208.2h.6M383.5 205.0h.6M388.0 203.0h.6M388.7 208.5h.6M389.4 203.8h.6M390.8 206.4h.6M388.5 206.1h.6M384.3 205.6h.6M389.8 205.9h.6M381.7 212.4h.6M384.2 204.1h.6M389.0 209.1h.6M383.5 205.8h.6M394.2 199.9h.6M389.1 204.0h.6M383.2 207.7h.6M386.7 207.0h.6M388.2 205.6h.6M388.1 201.9h.6M390.6 202.9h.6M387.6 208.1h.6M386.7 204.2h.6M382.2 204.6h.6M385.8 204.9h.6M387.0 207.8h.6M397.6 203.3h.6M392.1 204.3h.6M389.4 205.9h.6M385.1 204.1h.6M396.9 203.0h.6M387.0 203.3h.6M384.3 204.9h.6M383.7 205.3h.6M388.7 202.1h.6M390.1 206.4h.6M391.3 205.7h.6M389.9 201.0h.6M390.6 204.9h.6M392.8 202.6h.6M382.3 207.9h.6M394.1 203.0h.6M388.4 205.4h.6M380.5 208.9h.6M389.0 204.0h.6M388.3 209.1h.6M392.5 201.5h.6M391.2 200.9h.6M386.1 206.9h.6M387.8 201.5h.6M380.3 208.4h.6M384.0 205.3h.6M394.3 202.9h.6M382.0 207.1h.6M387.4 208.2h.6M391.9 204.3h.6M391.6 206.1h.6M393.5 205.6h.6M393.6 206.3h.6M394.0 203.2h.6M380.8 208.2h.6M389.8 206.1h.6M385.2 205.4h.6M389.0 210.7h.6M385.4 205.0h.6M388.2 202.7h.6M382.7 201.7h.6M390.9 203.0h.6M391.7 201.4h.6M388.5 205.9h.6M391.9 202.4h.6M380.0 210.3h.6M389.6 204.0h.6M388.4 203.4h.6M387.1 202.0h.6M385.3 206.8h.6M388.5 203.1h.6M390.0 201.0h.6M384.6 203.8h.6M390.4 206.0h.6M385.5 201.6h.6M391.4 204.4h.6M377.4 210.6h.6M384.4 206.1h.6M397.4 199.5h.6M389.7 206.1h.6M382.5 207.5h.6M383.4 200.5h.6M386.2 206.8h.6M392.6 202.8h.6M381.2 204.9h.6M387.2 207.9h.6M388.7 203.6h.6M385.6 204.4h.6M391.9 205.1h.6M380.1 212.9h.6M386.2 203.1h.6M391.1 200.7h.6M395.8 201.6h.6M393.4 205.8h.6M390.4 203.1h.6M387.5 205.9h.6M382.5 206.8h.6M393.5 203.3h.6M390.4 205.2h.6M389.4 206.3h.6M389.4 204.7h.6M389.4 205.5h.6M382.6 207.7h.6M391.1 200.4h.6M385.6 204.2h.6M390.7 202.9h.6M380.5 207.2h.6M382.4 204.7h.6M390.7 202.5h.6M375.9 208.5h.6M391.6 206.0h.6M391.9 203.1h.6M387.3 206.6h.6M383.4 207.6h.6M401.2 199.1h.6M389.0 205.8h.6M385.2 207.1h.6M383.0 205.1h.6M385.8 204.0h.6M381.8 205.4h.6M387.0 203.9h.6M387.8 206.8h.6M393.3 203.6h.6M387.6 206.8h.6M388.8 205.3h.6M388.6 203.9h.6M385.5 208.7h.6M388.9 202.6h.6M391.5 205.8h.6M390.0 203.2h.6M388.6 203.7h.6M386.0 205.2h.6M392.1 204.2h.6M381.3 207.8h.6M389.8 207.9h.6M384.2 205.2h.6M386.9 205.1h.6M381.4 205.7h.6M395.6 202.2h.6M385.2 208.4h.6M391.5 203.2h.6M383.2 204.3h.6M390.6 202.6h.6M379.8 208.3h.6M391.3 206.0h.6M390.7 200.8h.6M392.7 204.4h.6M383.8 204.6h.6M391.2 201.0h.6M393.0 203.0h.6M387.1 209.0h.6M389.5 199.6h.6M385.9 206.7h.6M390.2 203.2h.6M382.0 208.7h.6M381.3 203.4h.6M383.8 204.8h.6M394.8 198.2h.6M392.8 199.6h.6M382.3 207.8h.6M384.6 206.8h.6M400.5 203.2h.6M391.0 206.2h.6M392.6 200.3h.6M383.8 202.3h.6M387.0 202.6h.6M389.4 205.4h.6M386.0 205.9h.6M390.3 203.7h.6M398.2 201.1h.6M386.0 207.1h.6M385.2 208.9h.6M382.6 205.2h.6M388.0 205.2h.6M388.4 202.5h.6M389.8 202.5h.6M385.3 206.5h.6M384.2 206.6h.6M384.2 207.1h.6M387.0 205.7h.6M386.8 206.3h.6M393.7 203.2h.6M383.0 206.5h.6M383.5 208.8h.6M389.2 207.8h.6M373.1 210.3h.6M393.4 206.1h.6M383.2 205.6h.6M379.4 210.1h.6M382.4 207.5h.6M378.2 207.0h.6M386.7 204.7h.6M387.6 209.3h.6M387.9 207.6h.6M388.3 206.5h.6M386.3 205.9h.6M390.5 202.3h.6M383.1 206.8h.6M393.7 201.5h.6M384.4 206.5h.6M385.4 204.0h.6M387.5 204.3h.6M398.4 203.5h.6M384.3 209.9h.6M379.9 206.4h.6M387.7 201.6h.6M379.4 210.1h.6M393.3 200.6h.6M390.9 201.9h.6M387.8 205.0h.6M387.1 203.5h.6M386.6 204.7h.6M394.9 204.4h.6M383.9 205.4h.6M386.5 205.7h.6M396.6 200.5h.6M385.0 203.8h.6M399.6 202.4h.6M384.5 206.0h.6M383.2 202.3h.6M390.2 204.8h.6M390.4 205.5h.6M384.8 205.9h.6M399.8 204.7h.6M388.5 201.9h.6M389.5 200.3h.6M389.5 203.9h.6M387.6 206.7h.6M395.7 204.1h.6M387.4 206.1h.6M385.7 210.3h.6M385.8 205.4h.6M387.6 203.3h.6M387.3 206.4h.6M388.5 203.3h.6M384.7 209.3h.6M382.3 205.0h.6M392.7 204.8h.6M387.5 203.3h.6M394.0 203.8h.6M385.5 202.9h.6M397.2 198.0h.6M382.2 206.3h.6M386.3 205.6h.6M385.0 207.0h.6M386.3 201.8h.6M390.4 203.0h.6M388.3 206.3h.6M385.7 203.2h.6M389.9 200.0h.6M388.8 204.6h.6M380.1 207.2h.6M378.8 205.4h.6M384.8 206.1h.6M381.9 208.3h.6M382.6 204.7h.6M389.5 206.6h.6M379.1 208.6h.6M386.2 207.8h.6M390.4 204.3h.6M388.5 205.8h.6M385.4 206.8h.6M380.0 206.8h.6M390.6 207.3h.6M387.2 202.8h.6M387.7 202.3h.6M386.4 205.5h.6M382.5 208.9h.6M380.1 209.9h.6M388.3 203.6h.6M392.7 202.7h.6M382.9 206.0h.6M385.7 202.1h.6M395.6 199.8h.6M382.9 208.0h.6M389.0 205.9h.6M389.4 202.8h.6M391.2 203.1h.6M384.3 208.1h.6M386.1 202.9h.6M393.9 200.4h.6M388.7 203.2h.6M390.3 201.2h.6M392.5 206.2h.6M395.3 200.1h.6M385.1 202.9h.6M391.1 203.3h.6M376.8 207.3h.6M393.0 202.7h.6M377.1 205.7h.6M393.9 201.4h.6M392.5 204.2h.6M383.7 203.3h.6M386.2 203.9h.6M411.3 193.5h.6M392.0 209.7h.6M388.8 200.7h.6M384.3 206.3h.6M372.2 206.9h.6M383.9 202.6h.6M398.9 201.3h.6M395.7 200.6h.6M387.9 205.3h.6M381.3 200.9h.6M396.5 205.6h.6M395.9 204.6h.6M376.8 202.7h.6M378.4 202.3h.6M389.3 199.9h.6M391.2 198.2h.6M390.8 200.8h.6M389.4 199.1h.6M385.0 200.8h.6M399.8 200.5h.6M392.8 204.7h.6M386.6 203.5h.6M387.7 208.0h.6M388.6 203.1h.6M390.4 200.4h.6M374.6 202.5h.6M388.7 207.1h.6M385.8 203.0h.6M395.7 203.2h.6M392.1 209.5h.6M390.3 203.8h.6M384.8 201.4h.6M400.5 195.7h.6M381.5 199.8h.6M386.7 204.7h.6M384.3 203.4h.6M392.8 202.0h.6M387.7 204.8h.6M384.9 201.0h.6M385.5 205.6h.6M388.4 207.1h.6M389.2 209.9h.6M391.2 200.8h.6M384.9 198.6h.6M382.5 203.6h.6M393.1 204.7h.6M386.2 201.0h.6M389.1 202.6h.6M398.7 199.7h.6M378.0 210.4h.6M395.1 202.4h.6M383.8 213.8h.6M389.5 197.4h.6M382.8 214.9h.6M393.2 204.7h.6M387.3 205.7h.6M382.1 204.2h.6M395.1 200.3h.6M383.8 201.1h.6M387.5 201.9h.6M381.6 203.5h.6M392.7 197.2h.6M388.7 202.1h.6M383.8 201.8h.6M393.2 197.9h.6M387.8 209.3h.6M388.8 204.7h.6M383.0 203.2h.6M395.2 200.1h.6M396.4 199.7h.6M382.8 208.2h.6M385.7 202.0h.6M395.3 201.2h.6M397.2 204.6h.6M386.4 198.4h.6M390.9 198.8h.6M377.7 214.4h.6M381.7 202.0h.6M401.2 202.4h.6M383.3 209.8h.6M382.1 203.7h.6M384.5 197.5h.6M394.9 204.7h.6M390.9 203.8h.6M393.5 198.6h.6M385.5 201.2h.6M393.1 202.8h.6M390.0 200.6h.6M387.6 207.0h.6M397.9 200.9h.6M384.3 203.4h.6M378.6 206.9h.6M380.0 208.5h.6M377.4 210.5h.6M395.5 202.4h.6M378.4 200.0h.6M382.8 199.7h.6M387.1 210.4h.6M402.5 201.2h.6M392.9 197.6h.6M379.7 206.5h.6M384.3 202.8h.6M390.5 208.5h.6M388.5 200.8h.6M386.3 202.3h.6M385.4 205.2h.6M391.3 202.4h.6M396.8 197.3h.6M394.1 199.2h.6M391.5 207.7h.6M394.4 194.9h.6M390.9 204.2h.6M387.3 199.3h.6M392.2 206.8h.6M388.8 207.0h.6M388.7 207.5h.6M381.1 200.2h.6M398.3 207.4h.6M382.7 207.6h.6M388.0 209.8h.6M397.2 207.7h.6M393.0 199.6h.6M387.3 207.0h.6M389.3 203.1h.6M375.9 213.2h.6M392.9 203.0h.6M387.3 208.4h.6M385.1 208.2h.6M410.0 202.1h.6M399.2 198.5h.6M390.3 202.5h.6M384.5 198.6h.6M392.6 202.7h.6M388.0 203.3h.6M381.5 207.5h.6M383.9 202.9h.6M395.5 209.3h.6M386.3 200.6h.6M381.4 211.1h.6M396.2 202.0h.6M387.4 209.3h.6M390.9 205.4h.6M390.0 201.7h.6M394.3 203.4h.6M385.4 204.8h.6M388.2 203.3h.6M385.6 205.8h.6M385.7 207.3h.6M388.7 199.1h.6M384.6 202.8h.6M391.3 202.6h.6M394.5 204.3h.6M392.6 201.4h.6M364.3 210.3h.6M390.9 195.1h.6M381.5 205.8h.6M392.7 206.6h.6M396.9 199.4h.6M384.9 210.0h.6M383.3 195.9h.6M407.1 208.1h.6M375.5 205.4h.6M389.1 206.4h.6M393.2 202.0h.6M390.7 202.1h.6M379.8 201.3h.6M384.5 200.6h.6M393.8 202.0h.6M390.1 203.6h.6M376.6 209.1h.6M394.0 208.8h.6M377.3 203.1h.6M396.6 207.7h.6M392.3 202.9h.6M396.3 202.7h.6M388.4 207.1h.6M390.5 203.8h.6M384.9 206.5h.6M383.0 203.1h.6M383.7 211.9h.6M381.0 201.9h.6M384.7 202.5h.6M394.8 204.0h.6M393.7 200.1h.6M389.6 206.5h.6M390.2 208.7h.6M387.8 206.6h.6M391.7 201.5h.6M383.5 202.0h.6M397.3 200.8h.6M383.2 203.6h.6M372.6 211.5h.6M390.7 194.9h.6M382.0 199.7h.6M403.1 191.4h.6M371.1 205.0h.6M389.1 199.5h.6M388.5 206.5h.6M385.6 198.7h.6M395.3 202.9h.6M390.7 199.6h.6M393.1 202.6h.6M385.3 208.1h.6M386.6 206.9h.6M379.6 212.7h.6M396.6 206.0h.6M379.8 207.0h.6M397.7 195.7h.6M387.4 208.6h.6M386.3 208.4h.6M384.5 203.2h.6M382.5 209.2h.6M387.2 204.5h.6M384.6 208.5h.6M381.9 209.2h.6M393.0 203.5h.6M366.2 208.6h.6M389.6 207.2h.6M390.9 215.8h.6M375.9 203.2h.6M401.5 190.6h.6M383.7 205.3h.6M396.1 206.6h.6M402.3 202.5h.6M392.9 207.3h.6M391.6 203.0h.6M398.1 205.7h.6M386.7 196.9h.6M380.1 205.2h.6M392.7 204.7h.6M385.4 199.0h.6M396.4 199.0h.6M392.3 207.5h.6M387.4 196.8h.6M398.2 206.5h.6M375.1 211.1h.6M390.9 205.5h.6M386.4 203.2h.6M395.1 200.9h.6M399.7 206.3h.6M391.8 201.1h.6M376.8 202.5h.6M379.4 213.0h.6M406.5 192.7h.6M390.0 197.8h.6M398.6 205.4h.6M390.7 197.3h.6M387.8 203.9h.6M384.8 202.1h.6M385.8 207.3h.6M381.4 210.2h.6M390.0 201.5h.6M387.5 208.7h.6M391.0 201.6h.6M398.7 202.7h.6M385.4 202.8h.6M400.0 200.4h.6M389.6 207.6h.6M385.1 201.1h.6M393.7 197.5h.6M376.2 204.4h.6M381.6 203.7h.6M372.1 209.7h.6M381.1 201.0h.6M388.3 198.5h.6M383.4 197.3h.6M383.5 197.6h.6M386.7 208.7h.6M396.0 203.2h.6M390.3 209.1h.6M386.4 204.2h.6M383.4 203.9h.6M371.4 205.7h.6M384.2 199.1h.6M387.3 207.1h.6M385.4 203.8h.6M393.9 204.2h.6M382.7 204.0h.6M397.1 208.6h.6M382.3 208.8h.6M399.8 195.1h.6M394.1 200.0h.6M379.5 202.1h.6M386.8 207.9h.6M404.8 204.8h.6M398.7 199.8h.6M382.1 205.3h.6M382.7 205.0h.6M385.8 209.9h.6M408.8 199.5h.6" stroke="#000" stroke-width="0.6" fill="none" stroke-opacity="0.9"/>
<ellipse cx="389.5" cy="203.8" rx="14.3" ry="14.8" fill="none" stroke="#222" stroke-width="0.7"/>
<rect x="434.30" y="169.50" width="73.00" height="65.60" fill="#fff" stroke="#666" stroke-width="0.8"/>
<text x="433.9" y="240.3" font-size="3.5" text-anchor="middle" fill="#000">10<tspan font-size="2.6" dy="-1.3">0</tspan></text>
<text x="431.6" y="236.1" font-size="3.5" text-anchor="middle" fill="#000" transform="rotate(-90 431.6 236.1)">10<tspan font-size="2.6" dy="-1.3">0</tspan></text>
<text x="452.2" y="240.3" font-size="3.5" text-anchor="middle" fill="#000">10<tspan font-size="2.6" dy="-1.3">1</tspan></text>
<text x="431.6" y="219.7" font-size="3.5" text-anchor="middle" fill="#000" transform="rotate(-90 431.6 219.7)">10<tspan font-size="2.6" dy="-1.3">1</tspan></text>
<text x="470.4" y="240.3" font-size="3.5" text-anchor="middle" fill="#000">10<tspan font-size="2.6" dy="-1.3">2</tspan></text>
<text x="431.6" y="203.3" font-size="3.5" text-anchor="middle" fill="#000" transform="rotate(-90 431.6 203.3)">10<tspan font-size="2.6" dy="-1.3">2</tspan></text>
<text x="488.7" y="240.3" font-size="3.5" text-anchor="middle" fill="#000">10<tspan font-size="2.6" dy="-1.3">3</tspan></text>
<text x="431.6" y="186.9" font-size="3.5" text-anchor="middle" fill="#000" transform="rotate(-90 431.6 186.9)">10<tspan font-size="2.6" dy="-1.3">3</tspan></text>
<text x="506.9" y="240.3" font-size="3.5" text-anchor="middle" fill="#000">10<tspan font-size="2.6" dy="-1.3">4</tspan></text>
<text x="431.6" y="170.5" font-size="3.5" text-anchor="middle" fill="#000" transform="rotate(-90 431.6 170.5)">10<tspan font-size="2.6" dy="-1.3">4</tspan></text>
<path d="M434.3 235.1v1.7M434.3 235.1h-1.7M452.6 235.1v1.7M434.3 218.7h-1.7M470.8 235.1v1.7M434.3 202.3h-1.7M489.1 235.1v1.7M434.3 185.9h-1.7M507.3 235.1v1.7M434.3 169.5h-1.7M439.8 235.1v1M434.3 230.2h-1M443.1 235.1v1M434.3 227.2h-1M445.2 235.1v1M434.3 225.3h-1M447.1 235.1v1M434.3 223.6h-1M448.5 235.1v1M434.3 222.3h-1M449.8 235.1v1M434.3 221.2h-1M450.7 235.1v1M434.3 220.3h-1M451.6 235.1v1M434.3 219.5h-1M458.0 235.1v1M434.3 213.8h-1M461.3 235.1v1M434.3 210.8h-1M463.5 235.1v1M434.3 208.9h-1M465.3 235.1v1M434.3 207.2h-1M466.8 235.1v1M434.3 205.9h-1M468.1 235.1v1M434.3 204.8h-1M469.0 235.1v1M434.3 203.9h-1M469.9 235.1v1M434.3 203.1h-1M476.3 235.1v1M434.3 197.4h-1M479.6 235.1v1M434.3 194.4h-1M481.8 235.1v1M434.3 192.5h-1M483.6 235.1v1M434.3 190.8h-1M485.0 235.1v1M434.3 189.5h-1M486.3 235.1v1M434.3 188.4h-1M487.2 235.1v1M434.3 187.5h-1M488.1 235.1v1M434.3 186.7h-1M494.5 235.1v1M434.3 181.0h-1M497.8 235.1v1M434.3 178.0h-1M500.0 235.1v1M434.3 176.1h-1M501.8 235.1v1M434.3 174.4h-1M503.3 235.1v1M434.3 173.1h-1M504.6 235.1v1M434.3 172.0h-1M505.5 235.1v1M434.3 171.1h-1M506.4 235.1v1M434.3 170.3h-1" stroke="#111" stroke-width="0.5" fill="none"/>
<path d="M452.4 221.5h.6M446.3 222.5h.6M451.5 218.8h.6M439.7 223.9h.6M464.0 220.3h.6M467.8 213.4h.6M443.7 231.0h.6M447.4 227.2h.6M449.7 221.4h.6M451.1 223.8h.6M448.3 233.7h.6M448.8 229.4h.6M463.9 228.2h.6M466.8 229.0h.6M450.6 222.5h.6M445.0 229.9h.6M461.3 222.8h.6M451.3 221.9h.6M459.9 224.4h.6M463.1 217.4h.6M463.1 223.7h.6M461.2 218.0h.6M459.7 221.4h.6M459.1 218.4h.6M445.9 222.4h.6M451.5 224.3h.6M447.4 219.5h.6M458.0 214.5h.6M437.4 224.6h.6M435.6 218.1h.6M453.2 215.7h.6M451.9 221.2h.6M442.6 216.4h.6M447.4 218.6h.6M445.9 225.4h.6M449.2 223.7h.6M446.8 221.1h.6M460.6 225.8h.6M451.1 228.8h.6M463.3 222.8h.6M455.7 219.4h.6M455.4 229.9h.6M466.3 215.9h.6M455.7 214.9h.6M445.9 229.6h.6M462.5 207.3h.6M445.7 225.2h.6M460.2 218.8h.6M461.8 214.3h.6M450.3 219.3h.6M445.9 218.4h.6M444.3 218.9h.6M476.0 219.4h.6M468.9 221.3h.6M448.2 214.5h.6M459.8 214.9h.6M454.9 219.6h.6M456.3 220.8h.6M452.2 227.8h.6M466.5 215.2h.6M466.3 211.5h.6M458.0 224.5h.6M450.0 222.5h.6M451.8 223.4h.6M451.1 224.7h.6M452.6 229.3h.6M442.4 219.0h.6M445.5 227.5h.6M445.8 225.5h.6M444.2 215.5h.6M441.2 220.1h.6M447.5 221.7h.6M472.9 212.1h.6M457.6 233.4h.6M449.9 223.9h.6M452.8 220.3h.6M445.1 229.7h.6M459.0 219.9h.6M451.3 218.9h.6M452.8 220.7h.6M443.4 225.8h.6M435.0 220.9h.6M442.8 217.7h.6M448.5 224.1h.6M462.5 215.8h.6M454.3 222.1h.6M451.6 225.7h.6M449.4 231.9h.6M452.5 225.4h.6M459.7 207.6h.6M470.1 219.2h.6M449.6 223.5h.6M436.8 221.1h.6M457.6 217.7h.6M467.2 212.2h.6M449.3 221.6h.6M447.6 221.4h.6M440.6 224.5h.6M450.7 224.5h.6M449.4 223.6h.6M436.9 225.8h.6M447.3 215.0h.6M450.4 217.8h.6M452.3 222.2h.6M443.2 228.1h.6M452.2 233.7h.6M451.3 225.7h.6M452.9 216.2h.6M447.6 217.9h.6M461.1 213.7h.6M449.4 222.4h.6M462.8 209.0h.6M465.0 224.3h.6M455.6 213.3h.6M457.7 220.6h.6M456.2 220.0h.6M463.0 212.4h.6M455.7 228.8h.6M487.3 222.2h.6M475.6 224.4h.6M450.9 229.2h.6M479.4 233.1h.6M478.9 223.4h.6M481.5 222.3h.6M501.7 224.6h.6M457.9 232.6h.6M485.3 232.5h.6M473.8 228.6h.6M466.9 224.9h.6M471.6 230.5h.6M483.2 226.3h.6M440.9 222.6h.6M496.4 227.3h.6M496.8 232.1h.6M467.0 220.5h.6M492.1 223.7h.6M488.2 227.4h.6M482.6 221.9h.6M486.3 224.2h.6M484.6 224.0h.6M480.9 232.0h.6M480.7 229.5h.6M465.0 225.5h.6M475.1 231.0h.6M462.5 224.8h.6M464.4 225.6h.6M474.7 224.9h.6M462.3 225.0h.6M480.3 230.9h.6M483.6 229.8h.6M476.9 223.3h.6M481.3 230.5h.6M456.3 230.5h.6M480.2 225.2h.6M442.0 222.8h.6M490.1 227.9h.6M469.7 224.8h.6M454.7 227.5h.6M479.9 227.1h.6M470.8 225.3h.6M498.6 224.7h.6M476.4 227.7h.6M490.9 225.5h.6M470.5 220.5h.6M492.6 229.5h.6M465.9 220.6h.6M463.4 219.5h.6M468.3 217.9h.6M455.3 233.6h.6M447.5 217.8h.6M459.3 227.5h.6M461.7 228.7h.6M473.4 225.3h.6M460.8 227.9h.6M492.4 221.9h.6M486.8 220.8h.6M467.8 222.2h.6M497.4 229.1h.6M440.2 231.7h.6M454.8 229.7h.6M463.0 222.5h.6M459.1 227.3h.6M449.9 232.2h.6M467.9 228.8h.6M485.1 225.3h.6M441.6 222.9h.6M451.5 227.4h.6M454.0 229.1h.6M461.1 230.6h.6M458.9 227.0h.6M482.3 223.0h.6M499.3 232.3h.6M464.4 221.0h.6M452.5 226.5h.6M482.3 219.6h.6M479.9 224.5h.6M468.1 223.3h.6M472.3 224.5h.6M460.3 226.4h.6M456.5 230.2h.6M457.0 229.2h.6M459.8 228.2h.6M446.2 224.6h.6M475.6 219.7h.6M455.0 229.4h.6M471.5 229.3h.6M458.1 222.9h.6M467.5 232.3h.6M485.7 216.9h.6M488.6 226.5h.6M492.3 226.2h.6M464.9 224.9h.6M491.3 225.4h.6M465.7 231.4h.6M473.5 230.2h.6M468.9 231.4h.6M456.6 229.8h.6M459.8 230.4h.6M490.2 222.8h.6M465.1 230.0h.6M488.0 226.9h.6M479.6 221.9h.6M464.0 224.1h.6M477.6 227.6h.6M467.7 228.4h.6M496.9 221.8h.6M484.6 228.4h.6M458.5 229.4h.6M477.7 222.8h.6M439.9 223.1h.6M485.0 222.7h.6M450.0 225.1h.6M475.0 225.4h.6M454.5 197.2h.6M460.9 218.7h.6M443.1 219.7h.6M489.4 211.7h.6M458.5 214.5h.6M475.5 210.1h.6M456.5 211.8h.6M461.1 218.8h.6M458.4 221.2h.6M477.1 228.9h.6M473.1 193.1h.6M457.9 217.1h.6M469.4 202.4h.6M450.4 210.3h.6M469.0 199.1h.6M467.4 198.9h.6M456.9 211.9h.6M455.0 219.6h.6M452.9 218.0h.6M491.9 219.1h.6M504.8 202.0h.6M474.6 214.7h.6M474.7 220.8h.6M478.6 214.1h.6M443.0 214.5h.6M478.4 214.4h.6M474.6 214.8h.6M463.5 206.5h.6M489.8 217.3h.6M481.4 223.5h.6M487.7 221.4h.6M470.9 207.3h.6M463.3 214.5h.6M484.3 219.2h.6M475.0 206.1h.6M473.8 221.0h.6M464.8 216.8h.6M470.5 209.9h.6M448.7 215.4h.6M473.0 202.9h.6M450.0 221.9h.6M482.6 215.2h.6M485.4 215.2h.6M461.3 215.3h.6M487.4 209.1h.6M473.0 213.7h.6M485.1 210.0h.6M473.6 209.1h.6M471.6 223.6h.6" stroke="#444" stroke-width="0.5" fill="none" stroke-opacity="0.7"/>
<path d="M465.5 212.8h.6M464.3 211.0h.6M463.0 213.3h.6M463.0 210.6h.6M465.3 208.1h.6M463.1 210.2h.6M462.4 209.8h.6M466.3 211.0h.6M470.0 210.9h.6M463.3 214.8h.6M466.1 213.6h.6M464.3 217.1h.6M466.0 212.3h.6M469.0 205.0h.6M459.7 211.7h.6M463.3 209.3h.6M460.1 211.9h.6M468.0 209.4h.6M463.0 213.8h.6M461.7 206.7h.6M467.0 204.7h.6M464.5 212.3h.6M466.0 210.9h.6M463.7 212.7h.6M466.9 209.4h.6M465.6 211.2h.6M464.6 212.3h.6M467.5 208.0h.6M468.7 208.1h.6M469.4 211.1h.6M463.7 212.3h.6M463.2 212.9h.6M462.5 213.7h.6M462.9 212.8h.6M465.3 213.6h.6M463.5 212.2h.6M461.2 214.0h.6M468.1 208.8h.6M465.1 209.0h.6M460.6 210.9h.6M472.5 207.2h.6M471.1 207.5h.6M471.0 210.9h.6M467.3 208.4h.6M462.6 215.6h.6M463.3 215.1h.6M465.8 210.7h.6M458.7 217.5h.6M465.7 210.1h.6M471.6 210.4h.6M465.2 210.7h.6M468.4 211.8h.6M461.5 214.5h.6M467.5 214.1h.6M465.5 210.4h.6M470.3 213.9h.6M467.2 211.6h.6M462.2 211.1h.6M468.7 207.2h.6M462.4 209.4h.6M462.6 213.6h.6M464.8 214.0h.6M462.1 207.5h.6M464.5 209.9h.6M462.9 209.5h.6M466.4 212.3h.6M462.7 208.7h.6M462.6 209.5h.6M461.4 208.1h.6M464.4 209.5h.6M462.6 210.6h.6M466.2 214.2h.6M467.2 212.6h.6M467.2 206.6h.6M463.6 210.1h.6M455.7 214.7h.6M462.0 211.7h.6M473.5 208.1h.6M463.0 211.7h.6M468.2 213.1h.6M460.0 211.0h.6M462.3 211.7h.6M462.5 215.9h.6M459.6 215.0h.6M467.4 208.5h.6M463.6 211.5h.6M466.2 210.7h.6M463.1 206.8h.6M471.1 207.1h.6M458.6 211.0h.6M465.3 207.0h.6M466.5 210.3h.6M465.4 207.2h.6M469.2 210.4h.6M467.7 209.5h.6M463.2 211.5h.6M460.3 208.2h.6M465.6 209.5h.6M463.8 211.3h.6M463.2 210.8h.6M465.6 207.9h.6M461.9 214.7h.6M466.6 213.1h.6M465.8 210.6h.6M464.2 210.5h.6M460.7 210.1h.6M468.1 209.8h.6M464.7 209.0h.6M463.2 213.6h.6M470.2 213.9h.6M460.8 213.7h.6M467.6 211.4h.6M463.5 205.7h.6M465.2 210.8h.6M466.3 212.8h.6M465.7 209.7h.6M464.4 207.2h.6M464.4 210.9h.6M462.9 207.7h.6M460.9 214.6h.6M462.8 212.5h.6M466.6 209.2h.6M466.2 209.3h.6M463.8 214.0h.6M460.8 214.0h.6M462.4 210.8h.6M468.4 210.5h.6M461.0 212.7h.6M462.1 212.9h.6M466.7 210.5h.6M470.3 208.5h.6M466.3 211.0h.6M457.6 218.1h.6M463.4 210.7h.6M465.4 212.8h.6M463.8 212.9h.6M466.9 210.0h.6M466.5 207.0h.6M461.2 211.3h.6M458.8 216.4h.6M462.3 213.7h.6M467.5 208.6h.6M462.3 209.5h.6M463.9 214.4h.6M466.2 208.0h.6M460.8 214.3h.6M466.8 209.7h.6M463.4 212.0h.6M466.2 211.9h.6M469.1 211.9h.6M461.3 207.9h.6M462.0 213.7h.6M460.1 217.8h.6M461.6 213.8h.6M460.6 209.4h.6M462.3 213.4h.6M464.2 209.7h.6M469.2 211.8h.6M470.6 206.8h.6M465.2 215.6h.6M466.1 215.2h.6M466.0 211.8h.6M466.6 211.8h.6M461.5 207.4h.6M467.3 208.3h.6M460.0 211.1h.6M462.4 217.4h.6M468.8 209.3h.6M467.2 207.2h.6M467.5 203.4h.6M467.0 211.0h.6M464.0 207.6h.6M469.2 215.7h.6M464.2 212.7h.6M465.0 212.0h.6M469.4 210.7h.6M468.7 213.5h.6M460.6 217.9h.6M464.0 214.5h.6M461.9 211.9h.6M466.0 209.8h.6M466.1 212.0h.6M464.2 215.9h.6M465.2 214.1h.6M462.7 210.8h.6M464.0 207.9h.6M465.5 217.0h.6M458.8 210.6h.6M467.0 210.4h.6M468.6 209.0h.6M469.4 208.1h.6M462.5 211.1h.6M461.9 214.2h.6M468.9 206.2h.6M462.2 214.2h.6M465.7 212.6h.6M463.8 208.3h.6M463.4 209.7h.6M465.1 210.4h.6M461.3 211.4h.6M468.7 209.0h.6M461.6 212.4h.6M463.2 209.2h.6M466.0 210.4h.6M460.2 213.4h.6M466.7 213.1h.6M463.5 217.7h.6M466.8 210.6h.6M457.5 220.3h.6M463.2 212.9h.6M465.2 211.8h.6M465.0 207.9h.6M461.7 209.2h.6M465.6 213.0h.6M467.1 213.3h.6M465.4 213.7h.6M463.2 212.0h.6M457.8 216.2h.6M465.6 211.1h.6M465.9 209.1h.6M465.2 213.8h.6M465.3 208.4h.6M461.9 215.9h.6M460.4 212.6h.6M465.0 214.7h.6M467.7 207.1h.6M464.8 210.4h.6M464.1 211.7h.6M466.2 208.5h.6M463.3 212.2h.6M470.2 208.0h.6M461.1 214.1h.6M457.8 209.6h.6M465.3 208.9h.6M462.6 207.3h.6M462.1 213.7h.6M458.5 213.1h.6M461.8 208.6h.6M465.4 213.7h.6M461.6 211.6h.6M462.1 212.8h.6M463.8 214.1h.6M460.8 209.9h.6M461.4 213.3h.6M467.7 210.7h.6M458.5 212.3h.6M469.4 207.8h.6M460.3 212.6h.6M465.7 212.8h.6M467.1 216.2h.6M464.3 215.2h.6M460.4 213.4h.6M462.8 207.9h.6M458.7 218.6h.6M460.5 211.1h.6M467.0 208.8h.6M465.9 212.4h.6M463.9 213.3h.6M455.4 214.0h.6M463.4 206.2h.6M467.0 207.7h.6M469.2 212.2h.6M460.7 212.3h.6M466.0 214.9h.6M466.5 213.5h.6M462.3 208.8h.6M462.4 214.7h.6M466.0 210.1h.6M466.3 212.3h.6M467.3 216.1h.6M462.2 209.7h.6M462.0 214.3h.6M464.6 207.7h.6M468.9 210.2h.6M460.9 209.4h.6M463.0 212.0h.6M463.4 214.4h.6M457.8 219.1h.6M460.5 218.1h.6M460.1 211.4h.6M465.9 209.0h.6M465.3 214.9h.6M467.0 211.7h.6M462.9 210.1h.6M464.1 211.9h.6M460.5 212.0h.6M464.9 209.0h.6M471.2 210.3h.6M463.7 210.3h.6M465.0 210.1h.6M468.1 212.9h.6M462.6 209.7h.6M464.7 211.9h.6M469.3 212.3h.6M463.3 208.0h.6M465.1 213.4h.6M466.6 210.9h.6M462.2 213.0h.6M459.3 214.1h.6M462.3 215.1h.6M466.5 209.8h.6M463.2 208.5h.6M465.3 204.4h.6M461.8 211.1h.6M459.1 213.9h.6M469.0 209.6h.6M464.5 208.9h.6M465.1 212.8h.6M470.4 210.1h.6M463.6 209.4h.6M462.8 208.2h.6M467.7 207.2h.6M468.0 206.1h.6M461.9 214.8h.6M465.0 210.5h.6M456.8 211.5h.6M462.3 216.9h.6M465.4 210.0h.6M468.2 207.5h.6M464.4 209.3h.6M464.6 215.2h.6M461.9 210.8h.6M462.0 210.0h.6M462.0 211.4h.6M463.4 209.9h.6M464.3 211.0h.6M461.5 210.4h.6M463.7 210.6h.6M467.6 211.4h.6M462.5 213.4h.6M469.4 210.2h.6M463.4 215.4h.6M465.2 214.1h.6M461.7 212.4h.6M461.8 213.9h.6M461.9 214.4h.6M468.9 213.5h.6M464.4 210.9h.6M464.0 211.1h.6M467.6 212.6h.6M463.3 210.6h.6M469.9 210.7h.6M465.1 215.0h.6M466.1 213.2h.6M460.9 212.4h.6M473.4 209.6h.6M470.2 209.1h.6M465.8 209.2h.6M468.0 208.9h.6M462.6 213.4h.6M467.9 211.0h.6M465.6 210.4h.6M465.0 210.9h.6M464.9 208.6h.6M464.4 212.6h.6M460.4 217.8h.6M459.7 213.8h.6M462.9 215.0h.6M464.5 208.5h.6M469.0 210.0h.6M463.6 209.0h.6M462.8 213.7h.6M462.4 215.2h.6M466.3 209.6h.6M464.5 213.1h.6M467.3 206.6h.6M458.2 210.6h.6M463.8 212.6h.6M464.2 213.4h.6M468.4 212.3h.6M465.2 211.8h.6M468.5 206.7h.6M464.9 209.5h.6M465.9 209.8h.6M457.7 216.3h.6M462.7 210.9h.6M466.2 211.5h.6M463.8 215.1h.6M465.5 210.9h.6M462.9 214.0h.6M468.6 213.5h.6M466.1 214.7h.6M452.6 219.1h.6M464.1 208.9h.6M473.4 211.1h.6M467.8 209.4h.6M464.1 208.8h.6M472.4 214.2h.6M473.1 208.6h.6M463.7 216.5h.6M466.7 216.8h.6M469.9 207.4h.6M459.3 211.6h.6M466.4 211.1h.6M470.4 209.7h.6M463.1 211.0h.6M459.1 221.6h.6M465.7 206.7h.6M457.2 216.8h.6M462.8 215.0h.6M465.2 204.9h.6M472.1 203.6h.6M468.3 209.7h.6M455.5 215.9h.6M462.0 219.5h.6M469.4 217.5h.6M472.8 204.9h.6M466.2 209.3h.6M466.5 211.1h.6M470.3 212.5h.6M466.4 210.7h.6M471.6 213.9h.6M466.9 211.8h.6M467.4 208.3h.6M465.4 209.9h.6M464.8 205.8h.6M465.8 209.2h.6M461.4 215.4h.6M467.0 206.1h.6M460.8 215.0h.6M464.0 212.6h.6M464.0 215.0h.6M464.9 211.8h.6M472.2 212.3h.6M459.1 211.9h.6M468.3 211.3h.6M457.6 211.5h.6M457.9 210.9h.6M467.0 211.9h.6M462.9 209.5h.6M469.2 218.4h.6M466.6 221.8h.6M465.5 207.6h.6M473.3 214.1h.6M472.0 199.5h.6M469.1 219.6h.6M459.0 210.7h.6M476.7 208.2h.6M458.5 220.8h.6M474.8 206.7h.6M463.1 223.6h.6M466.9 207.3h.6M463.6 214.1h.6M466.6 213.1h.6M464.0 215.7h.6M460.0 209.2h.6M465.3 207.2h.6M479.2 215.2h.6M463.1 208.8h.6M465.7 214.8h.6M468.5 212.9h.6M462.0 215.5h.6M465.7 211.9h.6M469.8 209.5h.6M456.7 202.3h.6M464.9 213.7h.6M466.2 215.0h.6M457.4 215.8h.6M476.4 214.6h.6M460.9 212.6h.6M461.0 212.0h.6M467.6 216.2h.6M465.5 214.6h.6M473.5 219.8h.6M464.7 206.1h.6M465.7 210.8h.6M462.2 212.3h.6M467.5 217.1h.6M464.6 223.8h.6M467.2 210.2h.6M470.2 208.1h.6M471.7 215.0h.6M457.6 219.4h.6M463.1 211.7h.6M465.2 213.0h.6M465.1 211.0h.6M465.8 210.3h.6M463.2 213.8h.6M460.7 220.3h.6M463.2 211.3h.6M464.8 219.3h.6M471.9 212.4h.6M459.2 220.4h.6M464.8 224.2h.6M460.0 207.0h.6M463.6 217.1h.6M470.8 208.5h.6M462.1 207.4h.6M459.9 215.6h.6M467.5 209.9h.6M461.7 218.7h.6M474.3 207.4h.6M461.9 208.9h.6M456.9 217.3h.6M454.0 211.9h.6M460.4 214.4h.6M460.7 214.2h.6M467.0 211.1h.6M463.4 212.0h.6M465.4 214.6h.6M466.7 207.2h.6M461.0 219.5h.6M461.1 213.2h.6M455.4 210.3h.6M465.4 211.4h.6M471.3 212.3h.6M466.4 209.5h.6M473.9 212.2h.6M470.9 206.0h.6M464.5 207.5h.6M464.7 213.4h.6M470.3 211.0h.6M467.8 204.0h.6M466.2 210.8h.6M464.3 217.2h.6M474.6 211.7h.6M465.3 210.7h.6M462.6 217.0h.6M457.6 206.3h.6M464.4 205.9h.6M473.2 202.6h.6M472.8 209.9h.6M459.1 208.6h.6M474.7 211.6h.6M470.4 207.7h.6M467.4 206.2h.6M476.0 208.9h.6M462.9 207.4h.6M463.1 210.7h.6M468.7 218.3h.6M461.0 210.3h.6M466.1 219.0h.6M462.9 213.0h.6M467.2 209.3h.6M470.3 214.3h.6M464.2 216.4h.6M462.5 211.5h.6M472.5 209.0h.6M468.4 204.9h.6M461.7 218.0h.6M469.2 216.5h.6M478.5 213.5h.6M458.0 212.5h.6M460.5 211.4h.6M458.6 210.8h.6M461.2 210.9h.6M473.6 214.5h.6M464.9 220.7h.6M458.3 211.6h.6M463.6 208.9h.6M470.3 204.1h.6M470.0 211.4h.6M463.0 211.8h.6M467.5 205.5h.6M467.6 212.0h.6M461.7 206.0h.6M462.7 203.8h.6M460.3 210.6h.6M465.0 208.4h.6M461.2 212.7h.6M465.9 213.0h.6M462.8 220.3h.6M462.8 210.7h.6M466.3 210.2h.6M470.0 215.8h.6M470.6 208.6h.6M463.1 215.9h.6M470.0 208.3h.6M453.2 208.8h.6M454.9 209.7h.6M471.8 213.0h.6M469.0 203.7h.6M469.3 206.5h.6M466.7 210.1h.6M462.5 212.3h.6M472.0 208.6h.6M478.4 211.9h.6M468.9 217.0h.6M456.6 215.7h.6M465.2 214.7h.6M461.0 215.5h.6M458.2 217.0h.6M465.7 217.7h.6M471.5 217.3h.6M467.1 209.6h.6M467.9 209.8h.6M470.0 210.5h.6M459.6 213.4h.6M462.6 215.2h.6M468.1 214.8h.6M473.6 214.6h.6M471.6 208.4h.6M471.5 203.0h.6M468.3 208.8h.6M469.1 216.4h.6M464.9 216.7h.6M462.4 214.2h.6M461.5 213.4h.6M465.4 214.1h.6M466.5 209.0h.6M459.8 216.6h.6M479.7 203.5h.6M469.7 213.7h.6M467.1 203.4h.6M468.7 210.6h.6M469.7 218.5h.6M469.1 211.2h.6M466.7 209.3h.6M462.2 203.5h.6M471.4 211.5h.6M467.2 207.7h.6M462.9 206.5h.6M467.5 219.1h.6M459.7 213.3h.6M460.5 213.9h.6M457.5 214.5h.6M466.3 215.7h.6M463.5 214.3h.6M469.5 208.3h.6M464.3 211.7h.6M468.9 207.6h.6M475.6 209.5h.6M469.3 209.0h.6M461.3 211.3h.6M467.6 205.9h.6M469.8 213.6h.6M465.6 209.9h.6M473.4 206.7h.6M463.1 205.7h.6M466.9 213.2h.6M465.4 208.2h.6M469.8 217.4h.6M461.6 209.2h.6M460.3 210.7h.6M468.1 214.1h.6M473.9 217.3h.6M458.8 223.2h.6M468.7 211.3h.6M468.8 210.3h.6M467.3 213.3h.6M447.7 219.5h.6M460.0 223.9h.6M453.0 212.5h.6M459.3 222.6h.6M457.2 218.4h.6M448.3 219.3h.6M461.9 219.5h.6M453.8 222.7h.6M449.6 216.0h.6M448.2 221.1h.6M454.0 220.5h.6M443.1 223.2h.6M443.2 222.8h.6M451.4 221.5h.6M450.4 226.3h.6M444.9 225.1h.6M451.2 221.0h.6M448.9 219.9h.6M453.1 220.8h.6M450.5 222.6h.6M458.1 222.0h.6M443.0 224.3h.6M455.2 220.2h.6M456.1 225.6h.6M445.3 225.0h.6M454.1 226.3h.6M458.7 227.0h.6M462.8 221.3h.6M450.0 227.3h.6M443.1 227.3h.6M439.3 229.2h.6M453.9 222.2h.6M454.5 227.0h.6M441.2 232.6h.6M459.2 217.1h.6M436.6 221.6h.6M454.9 215.8h.6M457.3 213.7h.6M440.0 227.1h.6M443.4 217.4h.6M457.1 219.5h.6M453.9 230.1h.6M454.3 224.4h.6M460.7 214.6h.6M452.3 223.4h.6M461.0 220.0h.6M459.7 217.4h.6M449.5 221.4h.6M467.3 221.7h.6M456.3 216.6h.6M447.9 217.4h.6M456.1 217.6h.6M444.0 223.0h.6M442.1 224.2h.6M469.1 217.8h.6M465.1 220.4h.6M451.5 219.0h.6M441.3 225.4h.6M447.7 226.5h.6M458.3 219.2h.6M455.1 220.3h.6M452.3 214.9h.6M453.6 222.4h.6M451.2 219.1h.6M459.0 227.9h.6M450.9 220.5h.6M471.9 215.2h.6M452.2 226.8h.6M454.6 228.3h.6M446.3 224.9h.6M441.8 227.8h.6M445.2 219.6h.6M460.1 208.9h.6M452.1 218.9h.6M470.2 216.2h.6M465.9 219.4h.6M462.4 223.8h.6M449.7 223.8h.6M453.6 229.6h.6M453.6 222.4h.6M461.9 214.7h.6M436.4 228.6h.6M460.0 218.6h.6M449.4 229.0h.6M451.1 226.4h.6M450.7 223.9h.6M463.0 221.0h.6M456.4 224.6h.6M452.4 217.2h.6M450.1 227.9h.6" stroke="#000" stroke-width="0.6" fill="none" stroke-opacity="0.9"/>
<ellipse cx="465.6" cy="211.2" rx="12.8" ry="12.8" fill="none" stroke="#222" stroke-width="0.7"/>
<rect x="351.30" y="263.00" width="71.70" height="67.50" fill="#fff" stroke="#666" stroke-width="0.8"/>
<text x="350.9" y="335.7" font-size="3.5" text-anchor="middle" fill="#000">10<tspan font-size="2.6" dy="-1.3">0</tspan></text>
<text x="348.6" y="331.5" font-size="3.5" text-anchor="middle" fill="#000" transform="rotate(-90 348.6 331.5)">10<tspan font-size="2.6" dy="-1.3">0</tspan></text>
<text x="368.8" y="335.7" font-size="3.5" text-anchor="middle" fill="#000">10<tspan font-size="2.6" dy="-1.3">1</tspan></text>
<text x="348.6" y="314.6" font-size="3.5" text-anchor="middle" fill="#000" transform="rotate(-90 348.6 314.6)">10<tspan font-size="2.6" dy="-1.3">1</tspan></text>
<text x="386.8" y="335.7" font-size="3.5" text-anchor="middle" fill="#000">10<tspan font-size="2.6" dy="-1.3">2</tspan></text>
<text x="348.6" y="297.8" font-size="3.5" text-anchor="middle" fill="#000" transform="rotate(-90 348.6 297.8)">10<tspan font-size="2.6" dy="-1.3">2</tspan></text>
<text x="404.7" y="335.7" font-size="3.5" text-anchor="middle" fill="#000">10<tspan font-size="2.6" dy="-1.3">3</tspan></text>
<text x="348.6" y="280.9" font-size="3.5" text-anchor="middle" fill="#000" transform="rotate(-90 348.6 280.9)">10<tspan font-size="2.6" dy="-1.3">3</tspan></text>
<text x="422.6" y="335.7" font-size="3.5" text-anchor="middle" fill="#000">10<tspan font-size="2.6" dy="-1.3">4</tspan></text>
<text x="348.6" y="264.0" font-size="3.5" text-anchor="middle" fill="#000" transform="rotate(-90 348.6 264.0)">10<tspan font-size="2.6" dy="-1.3">4</tspan></text>
<path d="M351.3 330.5v1.7M351.3 330.5h-1.7M369.2 330.5v1.7M351.3 313.6h-1.7M387.1 330.5v1.7M351.3 296.8h-1.7M405.1 330.5v1.7M351.3 279.9h-1.7M423.0 330.5v1.7M351.3 263.0h-1.7M356.7 330.5v1M351.3 325.4h-1M359.9 330.5v1M351.3 322.4h-1M362.1 330.5v1M351.3 320.4h-1M363.8 330.5v1M351.3 318.7h-1M365.3 330.5v1M351.3 317.3h-1M366.5 330.5v1M351.3 316.2h-1M367.4 330.5v1M351.3 315.3h-1M368.3 330.5v1M351.3 314.5h-1M374.6 330.5v1M351.3 308.6h-1M377.8 330.5v1M351.3 305.5h-1M380.0 330.5v1M351.3 303.5h-1M381.8 330.5v1M351.3 301.8h-1M383.2 330.5v1M351.3 300.5h-1M384.5 330.5v1M351.3 299.3h-1M385.4 330.5v1M351.3 298.4h-1M386.3 330.5v1M351.3 297.6h-1M392.5 330.5v1M351.3 291.7h-1M395.8 330.5v1M351.3 288.6h-1M397.9 330.5v1M351.3 286.6h-1M399.7 330.5v1M351.3 284.9h-1M401.1 330.5v1M351.3 283.6h-1M402.4 330.5v1M351.3 282.4h-1M403.3 330.5v1M351.3 281.6h-1M404.2 330.5v1M351.3 280.7h-1M410.5 330.5v1M351.3 274.8h-1M413.7 330.5v1M351.3 271.8h-1M415.8 330.5v1M351.3 269.8h-1M417.6 330.5v1M351.3 268.1h-1M419.1 330.5v1M351.3 266.7h-1M420.3 330.5v1M351.3 265.5h-1M421.2 330.5v1M351.3 264.7h-1M422.1 330.5v1M351.3 263.8h-1" stroke="#111" stroke-width="0.5" fill="none"/>
<path d="M370.9 307.8h.6M377.9 305.5h.6M369.3 308.7h.6M376.3 307.2h.6M381.1 307.0h.6M373.3 305.7h.6M368.8 308.5h.6M376.1 303.1h.6M381.7 307.3h.6M384.3 305.7h.6M367.9 312.8h.6M373.2 312.3h.6M378.7 305.2h.6M379.1 311.2h.6M383.3 303.1h.6M379.8 305.1h.6M375.1 306.0h.6M373.2 304.9h.6M373.8 315.8h.6M372.1 309.9h.6M376.1 307.7h.6M375.8 306.7h.6M372.4 307.9h.6M378.0 309.7h.6M364.3 312.8h.6M375.4 304.8h.6M379.7 305.4h.6M381.0 307.6h.6M369.8 306.5h.6M367.6 312.0h.6M369.9 314.9h.6M387.7 308.4h.6M384.2 305.7h.6M372.1 315.3h.6M374.5 306.7h.6M378.3 309.9h.6M382.6 304.3h.6M376.1 306.0h.6M377.5 308.4h.6M376.9 310.0h.6M393.2 306.5h.6M373.2 303.2h.6M388.4 304.0h.6M386.6 302.8h.6M390.7 282.4h.6M397.1 290.4h.6M402.0 290.2h.6M395.1 290.4h.6M402.9 299.3h.6M386.9 298.0h.6M389.5 293.8h.6M384.9 301.6h.6M393.0 293.5h.6M389.0 311.1h.6M387.3 290.4h.6M387.5 286.8h.6M384.2 300.0h.6M399.6 287.6h.6M386.7 284.9h.6M392.5 294.3h.6M411.4 290.5h.6M387.7 298.4h.6M379.5 288.0h.6M394.4 281.3h.6M404.7 297.7h.6M383.1 300.6h.6M405.0 298.9h.6M403.7 286.9h.6M407.9 295.6h.6M398.7 309.1h.6M394.3 297.5h.6M401.2 313.3h.6M386.6 277.5h.6M392.2 301.9h.6M391.5 299.0h.6M386.3 292.5h.6M393.5 287.7h.6M419.9 291.4h.6M394.5 284.8h.6M374.0 281.9h.6M377.0 301.9h.6M391.0 309.5h.6M382.9 296.3h.6M395.2 310.1h.6M355.1 291.9h.6" stroke="#444" stroke-width="0.5" fill="none" stroke-opacity="0.7"/>
<path d="M390.8 296.0h.6M394.0 296.7h.6M381.9 302.2h.6M386.5 304.1h.6M389.0 300.7h.6M388.4 300.5h.6M390.7 296.7h.6M389.0 297.0h.6M383.4 297.7h.6M379.3 303.0h.6M392.6 298.0h.6M389.1 301.4h.6M385.4 300.6h.6M383.5 305.8h.6M386.7 302.0h.6M383.5 302.5h.6M380.6 301.6h.6M392.8 297.1h.6M385.1 301.4h.6M387.8 301.3h.6M384.4 300.9h.6M384.1 303.0h.6M386.4 302.5h.6M389.8 301.2h.6M391.3 296.7h.6M386.9 298.8h.6M392.9 297.9h.6M387.9 301.0h.6M386.3 301.4h.6M387.6 299.0h.6M397.2 294.2h.6M392.1 298.0h.6M394.9 295.8h.6M387.1 300.8h.6M388.1 300.5h.6M387.1 297.0h.6M388.5 300.9h.6M379.4 304.5h.6M383.7 303.5h.6M388.0 299.1h.6M388.8 297.2h.6M383.9 303.2h.6M384.5 303.5h.6M385.4 302.8h.6M391.5 299.9h.6M399.0 297.8h.6M392.5 300.3h.6M386.4 302.9h.6M387.3 299.3h.6M386.3 301.9h.6M383.8 303.6h.6M384.3 303.0h.6M387.2 298.6h.6M386.0 304.6h.6M385.3 299.7h.6M382.7 301.9h.6M383.4 304.6h.6M390.0 302.2h.6M387.8 305.0h.6M382.6 302.0h.6M385.9 302.3h.6M390.6 300.2h.6M382.7 303.4h.6M387.1 300.1h.6M385.8 298.8h.6M390.1 299.0h.6M398.9 296.9h.6M389.2 300.7h.6M396.8 294.6h.6M390.8 297.6h.6M394.4 297.5h.6M392.8 300.5h.6M389.1 297.1h.6M390.9 297.2h.6M379.1 304.4h.6M384.8 298.7h.6M389.4 297.9h.6M392.9 296.3h.6M382.0 304.5h.6M377.2 303.3h.6M387.6 302.5h.6M390.0 299.6h.6M385.1 299.0h.6M379.5 307.1h.6M387.2 300.7h.6M392.7 298.0h.6M388.4 296.4h.6M382.5 305.4h.6M384.4 302.1h.6M382.4 302.4h.6M383.1 300.3h.6M389.2 298.0h.6M388.3 299.3h.6M380.4 304.3h.6M378.5 302.4h.6M383.1 304.2h.6M383.7 298.0h.6M381.2 300.4h.6M386.1 296.1h.6M386.9 301.5h.6M387.8 301.0h.6M383.7 300.8h.6M384.7 299.9h.6M389.4 297.4h.6M393.6 294.9h.6M382.2 300.5h.6M375.5 304.2h.6M393.7 298.8h.6M394.6 299.9h.6M392.2 298.4h.6M386.3 301.1h.6M384.4 300.4h.6M387.3 300.3h.6M388.0 300.6h.6M382.5 301.7h.6M392.1 299.9h.6M390.7 296.1h.6M387.1 297.6h.6M376.8 303.3h.6M383.9 301.5h.6M381.5 298.8h.6M385.1 300.1h.6M381.2 304.0h.6M389.5 299.3h.6M383.0 299.8h.6M380.5 303.7h.6M387.0 301.1h.6M390.2 298.3h.6M386.2 299.6h.6M386.7 299.6h.6M393.0 296.8h.6M388.2 300.8h.6M393.0 295.4h.6M389.6 298.4h.6M383.7 302.0h.6M389.7 301.1h.6M383.3 302.6h.6M395.7 295.1h.6M380.0 301.7h.6M390.9 297.0h.6M385.1 301.6h.6M396.4 293.3h.6M409.3 291.9h.6M380.8 304.5h.6M383.9 303.3h.6M389.7 296.5h.6M380.7 302.7h.6M391.1 297.7h.6M392.6 295.2h.6M383.8 301.8h.6M389.6 301.2h.6M385.7 299.2h.6M389.2 299.1h.6M398.6 293.0h.6M392.4 299.1h.6M393.3 297.8h.6M387.0 301.1h.6M381.4 302.3h.6M381.4 301.8h.6M382.9 300.1h.6M388.1 297.6h.6M382.1 301.9h.6M390.6 297.9h.6M387.5 301.2h.6M372.6 307.1h.6M382.7 304.6h.6M391.3 303.1h.6M383.6 300.9h.6M387.8 300.3h.6M383.9 301.7h.6M381.1 304.6h.6M391.8 299.5h.6M387.2 300.9h.6M383.5 305.9h.6M384.2 303.3h.6M382.9 302.6h.6M388.4 298.4h.6M390.1 300.9h.6M393.5 296.2h.6M391.8 300.2h.6M390.6 294.1h.6M389.0 297.2h.6M384.8 301.2h.6M386.8 299.2h.6M388.1 299.3h.6M384.4 304.0h.6M385.5 296.4h.6M382.7 301.6h.6M394.1 297.8h.6M379.9 303.4h.6M388.0 301.4h.6M393.8 295.4h.6M388.6 302.1h.6M392.3 295.3h.6M390.0 295.6h.6M383.7 304.0h.6M391.2 297.3h.6M387.7 300.9h.6M392.0 297.2h.6M392.4 299.6h.6M387.5 299.3h.6M393.5 300.0h.6M387.2 301.5h.6M387.7 300.2h.6M388.9 297.8h.6M388.8 299.5h.6M390.5 295.8h.6M388.5 301.0h.6M394.9 294.4h.6M397.8 295.4h.6M386.0 301.2h.6M388.3 302.4h.6M392.6 300.2h.6M375.1 306.8h.6M382.5 302.2h.6M383.4 304.8h.6M379.3 306.8h.6M384.6 297.5h.6M391.2 299.3h.6M393.5 296.4h.6M380.5 307.1h.6M381.2 304.5h.6M388.3 300.8h.6M385.9 302.7h.6M387.8 298.4h.6M381.7 300.7h.6M384.0 302.5h.6M394.7 295.1h.6M389.3 302.7h.6M388.3 300.3h.6M385.7 298.9h.6M383.7 298.6h.6M387.7 299.6h.6M386.1 300.6h.6M393.6 296.4h.6M383.7 303.6h.6M392.5 296.3h.6M383.8 302.2h.6M387.6 298.9h.6M383.2 302.2h.6M382.3 304.3h.6M385.5 298.5h.6M385.9 297.7h.6M388.3 297.1h.6M388.3 303.1h.6M378.0 305.9h.6M395.8 295.9h.6M384.8 300.3h.6M386.2 301.5h.6M388.2 298.9h.6M385.6 302.6h.6M395.6 297.4h.6M383.6 302.5h.6M386.7 299.9h.6M393.7 294.3h.6M387.3 299.9h.6M392.2 297.8h.6M389.2 301.2h.6M389.5 299.1h.6M380.9 303.1h.6M397.5 294.1h.6M382.9 300.0h.6M389.1 298.8h.6M393.8 294.9h.6M397.8 296.1h.6M385.7 301.2h.6M389.5 301.3h.6M390.0 301.4h.6M385.2 301.7h.6M388.5 298.9h.6M383.9 301.3h.6M389.1 299.4h.6M388.1 300.7h.6M394.8 293.5h.6M387.7 297.4h.6M384.0 302.9h.6M385.8 300.1h.6M386.8 302.2h.6M381.6 305.3h.6M391.5 297.0h.6M379.7 300.6h.6M385.8 301.9h.6M386.8 300.3h.6M385.9 301.0h.6M390.4 296.8h.6M384.6 301.9h.6M384.5 302.5h.6M387.4 300.7h.6M391.1 299.9h.6M388.8 298.0h.6M386.4 301.2h.6M390.7 299.1h.6M385.9 300.5h.6M375.8 305.0h.6M388.3 298.5h.6M381.7 304.0h.6M389.2 298.1h.6M385.3 302.1h.6M394.4 295.9h.6M394.3 299.0h.6M390.0 299.8h.6M384.3 299.3h.6M383.5 304.0h.6M384.6 302.0h.6M387.4 299.3h.6M392.9 296.3h.6M394.8 294.1h.6M390.2 298.9h.6M394.1 297.1h.6M392.1 297.5h.6M384.5 300.4h.6M390.5 297.9h.6M392.5 297.2h.6M384.2 301.6h.6M396.9 296.9h.6M379.3 304.4h.6M381.9 300.5h.6M389.1 301.0h.6M388.1 301.5h.6M389.1 297.4h.6M392.3 295.5h.6M386.6 298.3h.6M390.8 300.7h.6M394.5 298.0h.6M386.2 303.7h.6M385.5 305.1h.6M382.7 304.2h.6M382.5 303.4h.6M391.5 298.5h.6M388.7 297.3h.6M383.7 299.3h.6M387.4 300.2h.6M388.2 297.1h.6M381.4 301.6h.6M385.3 301.0h.6M385.0 306.2h.6M392.3 296.0h.6M383.5 303.9h.6M382.2 303.0h.6M397.0 295.3h.6M379.3 303.0h.6M384.7 304.5h.6M389.4 299.1h.6M387.8 298.5h.6M393.6 300.8h.6M387.5 297.9h.6M394.1 298.5h.6M380.2 306.1h.6M389.5 299.4h.6M391.5 298.3h.6M382.7 304.7h.6M385.9 299.3h.6M395.1 297.9h.6M389.7 299.0h.6M383.3 304.6h.6M395.1 296.9h.6M386.8 299.5h.6M388.7 298.1h.6M384.2 302.5h.6M388.5 298.9h.6M385.6 304.3h.6M390.9 296.6h.6M392.0 297.9h.6M379.7 304.9h.6M396.6 294.6h.6M390.0 301.8h.6M383.9 300.1h.6M389.2 299.4h.6M392.7 295.9h.6M390.2 298.9h.6M388.7 297.4h.6M390.0 301.1h.6M387.0 300.8h.6M388.5 297.1h.6M387.6 300.8h.6M390.6 297.5h.6M383.7 301.2h.6M388.2 299.0h.6M382.2 306.6h.6M382.1 306.2h.6M391.2 296.2h.6M380.6 300.9h.6M383.1 303.9h.6M398.5 296.7h.6M390.2 297.1h.6M392.1 296.3h.6M387.5 297.1h.6M387.2 300.0h.6M389.7 299.5h.6M386.0 298.5h.6M394.5 295.2h.6M387.5 301.0h.6M386.1 301.5h.6M385.7 301.2h.6M385.7 298.9h.6M381.5 304.0h.6M391.6 298.6h.6M385.3 300.2h.6M388.0 301.6h.6M387.8 298.7h.6M379.2 302.7h.6M379.3 303.1h.6M381.4 302.8h.6M386.6 298.5h.6M387.6 300.8h.6M384.1 301.5h.6M385.8 299.2h.6M388.5 297.1h.6M390.7 298.0h.6M386.8 299.2h.6M392.2 300.1h.6M389.7 299.5h.6M388.5 298.0h.6M379.0 304.8h.6M393.6 300.1h.6M388.7 299.4h.6M384.4 300.0h.6M391.8 297.7h.6M392.9 294.4h.6M387.9 298.2h.6M390.3 295.2h.6M390.8 297.0h.6M387.6 298.6h.6M394.9 296.2h.6M388.0 301.6h.6M399.7 294.3h.6M385.9 302.0h.6M392.8 296.5h.6M378.3 304.6h.6M396.1 295.5h.6M386.0 295.3h.6M386.8 300.8h.6M388.7 294.7h.6M391.0 301.2h.6M387.2 300.6h.6M391.4 298.6h.6M389.4 301.4h.6M381.9 302.8h.6M395.9 297.4h.6M379.6 302.0h.6M388.9 297.7h.6M386.8 299.9h.6M387.3 300.1h.6M396.2 296.1h.6M385.9 300.8h.6M385.6 297.8h.6M386.7 299.7h.6M381.7 302.0h.6M390.2 297.3h.6M380.9 304.6h.6M374.4 303.7h.6M386.0 297.6h.6M395.7 293.6h.6M385.0 301.7h.6M392.9 300.8h.6M392.9 294.3h.6M392.0 298.1h.6M390.7 301.3h.6M383.8 302.8h.6M383.0 299.2h.6M391.7 302.3h.6M392.6 296.3h.6M387.3 301.5h.6M397.0 294.5h.6M390.2 301.6h.6M384.4 299.9h.6M388.7 300.2h.6M387.6 303.0h.6M376.1 305.0h.6M382.4 305.7h.6M388.4 297.7h.6M385.3 299.1h.6M390.4 304.4h.6M396.0 297.5h.6M395.2 296.4h.6M387.8 300.7h.6M382.6 301.4h.6M394.3 293.9h.6M384.8 300.5h.6M392.1 296.4h.6M380.2 300.0h.6M385.0 302.9h.6M388.2 299.2h.6M386.2 303.2h.6M382.1 302.8h.6M378.2 302.8h.6M390.5 298.0h.6M389.4 300.7h.6M384.5 299.9h.6M384.1 298.7h.6M391.8 296.4h.6M387.4 301.8h.6M387.8 301.7h.6M386.3 301.3h.6M384.2 299.5h.6M384.3 303.2h.6M392.9 296.6h.6M390.5 299.6h.6M388.2 297.1h.6M387.5 299.2h.6M392.8 296.0h.6M394.3 298.7h.6M380.6 305.8h.6M390.2 299.8h.6M377.0 302.1h.6M394.1 297.5h.6M385.3 302.5h.6M390.7 297.4h.6M387.3 297.5h.6M384.9 303.7h.6M387.8 300.0h.6M387.8 299.0h.6M379.4 301.3h.6M379.3 303.7h.6M388.7 297.8h.6M389.4 300.6h.6M387.9 302.4h.6M387.1 300.6h.6M377.4 301.2h.6M384.5 300.5h.6M393.7 296.7h.6M386.7 302.6h.6M384.9 302.8h.6M386.4 299.1h.6M387.4 297.2h.6M389.3 298.6h.6M373.8 307.6h.6M390.1 301.5h.6M388.0 301.1h.6M386.7 300.5h.6M386.5 300.7h.6M389.1 298.6h.6M383.9 300.2h.6M387.7 299.2h.6M394.4 293.1h.6M397.9 294.9h.6M389.2 298.2h.6M388.3 299.9h.6M390.6 296.2h.6M398.2 295.3h.6M390.4 299.9h.6M388.4 304.1h.6M398.7 297.1h.6M389.6 302.3h.6M387.0 302.3h.6M378.9 306.6h.6M386.7 300.6h.6M378.3 303.7h.6M387.1 302.4h.6M395.2 297.3h.6M387.5 297.1h.6M388.0 299.9h.6M392.4 298.2h.6M388.1 300.0h.6M385.3 299.7h.6M387.8 297.1h.6M390.6 301.1h.6M389.7 299.4h.6M385.7 299.1h.6M390.9 301.3h.6M397.0 295.2h.6M380.5 304.4h.6M390.8 300.4h.6M385.1 304.7h.6M389.3 300.1h.6M394.4 295.8h.6M389.3 300.3h.6M393.3 299.6h.6M388.6 298.5h.6M385.0 303.6h.6M391.5 294.4h.6M388.0 296.2h.6M389.9 299.1h.6M386.8 302.7h.6M392.3 298.5h.6M384.4 300.9h.6M390.5 299.9h.6M388.7 299.7h.6M388.4 299.8h.6M387.7 304.6h.6M384.0 299.6h.6M386.0 300.5h.6M391.2 300.0h.6M388.2 300.2h.6M388.8 298.2h.6M388.2 300.1h.6M391.9 297.4h.6M379.9 301.7h.6M390.2 299.7h.6M388.1 301.5h.6M389.5 301.8h.6M391.9 296.8h.6M382.7 301.6h.6M381.4 304.3h.6M382.5 301.4h.6M391.9 300.3h.6M388.1 298.8h.6M384.1 297.2h.6M379.4 301.8h.6M394.8 296.8h.6M381.5 300.9h.6M376.3 306.1h.6M381.1 303.5h.6M386.0 303.3h.6M389.3 296.9h.6M380.8 302.3h.6M388.6 300.8h.6M384.7 300.4h.6M393.0 297.7h.6M375.7 304.8h.6M391.0 301.9h.6M385.2 301.3h.6M386.0 300.3h.6M383.0 301.2h.6M374.7 306.2h.6M385.0 301.6h.6M389.5 296.4h.6M383.0 302.6h.6M382.9 302.4h.6M385.9 303.2h.6M392.4 296.7h.6M386.5 298.0h.6M379.7 303.4h.6M395.3 296.6h.6M384.2 303.4h.6M392.4 295.4h.6M388.3 297.8h.6M384.8 302.2h.6M392.1 299.4h.6M388.6 299.5h.6M383.5 301.8h.6M382.2 304.1h.6M379.5 306.8h.6M383.2 301.7h.6M388.6 301.9h.6M384.6 297.3h.6M387.6 299.3h.6M378.2 306.0h.6M393.9 299.4h.6M384.0 303.4h.6M386.4 299.5h.6M378.9 303.3h.6M376.1 307.9h.6M390.3 300.8h.6M384.0 303.0h.6M395.7 297.7h.6M390.3 294.8h.6M386.4 302.3h.6M388.3 301.7h.6M386.6 302.7h.6M380.8 308.5h.6M395.9 298.1h.6M379.5 300.2h.6M388.0 300.8h.6M383.6 301.8h.6M387.2 301.5h.6M386.5 297.8h.6M385.7 296.4h.6M396.7 298.8h.6M383.9 306.0h.6M382.6 299.9h.6M387.1 301.8h.6M392.3 304.9h.6M391.1 298.8h.6M393.6 298.0h.6M394.1 293.2h.6M385.9 298.8h.6M383.5 304.3h.6M381.5 303.6h.6M381.8 306.4h.6M389.1 304.1h.6M393.9 300.0h.6M387.4 301.0h.6M394.7 294.4h.6M387.8 301.8h.6M394.7 296.9h.6M381.4 302.5h.6M393.0 297.4h.6M387.0 295.2h.6M384.1 299.1h.6M397.0 289.6h.6M380.1 301.8h.6M386.4 292.5h.6M395.9 292.4h.6M396.0 294.0h.6M378.6 296.8h.6M376.1 302.9h.6M393.7 296.3h.6M395.6 296.1h.6M393.8 296.0h.6M382.4 299.1h.6M384.0 299.5h.6M381.3 302.2h.6M390.9 294.4h.6M382.0 304.4h.6M390.0 302.2h.6M389.7 290.9h.6M392.5 295.4h.6M382.3 300.6h.6M389.7 292.2h.6M384.7 297.1h.6M386.7 301.2h.6M385.4 300.0h.6M379.0 305.3h.6M401.2 299.3h.6M393.7 294.3h.6M386.8 302.9h.6M396.9 296.5h.6M391.1 298.9h.6M379.7 300.2h.6M394.4 299.7h.6M397.9 299.0h.6M378.9 301.2h.6M385.8 300.7h.6M401.0 297.0h.6M393.4 298.4h.6M389.7 299.6h.6M383.3 301.8h.6M382.4 302.3h.6M382.6 303.2h.6M391.5 302.7h.6M387.4 297.6h.6M388.3 296.4h.6M381.2 301.0h.6M394.5 305.7h.6M387.5 296.9h.6M388.2 299.4h.6M388.0 300.2h.6M382.5 304.6h.6M371.0 300.9h.6M388.3 298.8h.6M392.3 295.8h.6M390.3 303.8h.6M378.4 298.7h.6M390.7 296.1h.6M382.2 304.1h.6M391.6 300.5h.6M397.8 297.4h.6M387.3 303.9h.6M389.4 294.6h.6M390.2 298.6h.6M385.2 298.3h.6M386.4 294.5h.6M387.4 301.2h.6M387.7 306.2h.6M390.1 298.2h.6M379.4 307.8h.6M381.9 303.7h.6M380.8 300.6h.6M397.7 297.1h.6M390.3 302.1h.6M399.1 297.9h.6M383.4 301.9h.6M379.7 294.7h.6M387.7 300.6h.6M382.1 302.8h.6M385.1 302.5h.6M396.2 297.6h.6M392.4 299.6h.6M396.5 298.1h.6M382.5 303.2h.6M397.7 296.3h.6M383.0 302.6h.6M383.6 301.0h.6M383.7 300.7h.6M394.1 295.0h.6M398.5 293.5h.6M399.5 289.8h.6M385.9 298.1h.6M384.0 302.3h.6M389.2 301.7h.6M390.9 298.5h.6M401.1 290.7h.6M388.0 301.9h.6M386.0 302.9h.6M383.7 301.7h.6M380.0 304.6h.6M392.8 299.3h.6M381.8 304.3h.6M395.5 298.6h.6M401.4 298.7h.6M382.5 300.3h.6M398.0 295.4h.6M378.0 305.5h.6M383.5 304.1h.6M387.0 302.2h.6M388.2 299.1h.6M389.1 305.1h.6M390.9 306.9h.6M389.7 300.2h.6M379.7 296.7h.6M398.1 290.3h.6M390.8 299.9h.6M389.7 293.4h.6M388.3 300.0h.6M384.9 301.4h.6M395.5 299.0h.6M395.6 295.5h.6M403.4 291.5h.6M398.5 297.8h.6M404.9 291.2h.6M386.2 295.5h.6M391.4 302.1h.6M392.1 295.8h.6M389.3 300.6h.6M375.7 300.1h.6M385.3 299.8h.6M386.3 302.8h.6M391.8 300.7h.6M397.2 300.5h.6M391.2 294.1h.6M385.5 300.1h.6M394.9 297.7h.6M387.5 300.5h.6M408.1 292.5h.6M388.2 301.0h.6M386.3 303.5h.6M384.2 301.0h.6M394.5 291.1h.6M381.5 306.0h.6M389.9 302.0h.6M383.9 302.4h.6M386.1 303.3h.6M391.3 300.6h.6M386.6 299.2h.6M393.3 296.3h.6M395.9 295.3h.6M377.0 300.1h.6M406.8 287.7h.6M398.1 291.0h.6M385.1 299.0h.6M384.9 303.0h.6M392.5 297.1h.6M386.3 305.1h.6M394.2 296.6h.6M390.9 301.1h.6M383.7 301.9h.6M374.8 302.0h.6M387.5 296.2h.6M396.0 297.6h.6M393.7 300.5h.6M381.0 298.6h.6M386.3 303.0h.6M392.0 297.6h.6M397.0 299.4h.6M388.5 302.9h.6M389.4 299.8h.6M384.8 306.9h.6M378.5 301.1h.6M387.8 303.3h.6M391.5 301.6h.6M393.9 293.8h.6M389.9 300.6h.6M376.0 303.8h.6M402.2 292.0h.6M384.2 298.8h.6M387.8 303.7h.6M387.3 297.9h.6M375.2 302.4h.6M399.8 293.9h.6M387.5 304.5h.6M392.8 298.2h.6M395.0 291.0h.6M396.9 294.6h.6M374.9 301.6h.6M386.3 302.0h.6M395.4 294.4h.6M382.3 303.5h.6M387.1 300.5h.6M379.0 299.0h.6M387.1 297.8h.6M393.1 289.9h.6M394.7 298.7h.6M384.8 298.2h.6M401.8 297.7h.6M402.5 294.4h.6M388.2 300.9h.6M393.1 297.7h.6M389.8 301.7h.6M398.2 293.4h.6M385.8 293.6h.6M391.4 293.3h.6M386.9 299.6h.6M386.7 297.3h.6M393.0 302.7h.6M393.0 297.8h.6M389.3 295.7h.6M386.2 298.3h.6M389.1 299.3h.6M385.7 301.0h.6M385.8 298.0h.6M372.8 305.1h.6M389.8 302.1h.6M394.2 296.6h.6M390.9 293.7h.6M392.5 302.6h.6M378.3 304.5h.6M378.1 297.3h.6M390.6 304.2h.6M375.1 307.6h.6M372.1 305.7h.6M372.4 304.3h.6M384.2 297.7h.6M381.7 304.1h.6M398.4 299.8h.6M391.5 293.0h.6M382.4 302.7h.6M398.1 289.7h.6M399.9 294.0h.6M386.7 300.7h.6" stroke="#000" stroke-width="0.6" fill="none" stroke-opacity="0.9"/>
<ellipse cx="390" cy="297.5" rx="14.6" ry="15.6" fill="none" stroke="#222" stroke-width="0.7"/>
<rect x="435.40" y="262.70" width="72.30" height="67.30" fill="#fff" stroke="#666" stroke-width="0.8"/>
<text x="435.0" y="335.2" font-size="3.5" text-anchor="middle" fill="#000">10<tspan font-size="2.6" dy="-1.3">0</tspan></text>
<text x="432.7" y="331.0" font-size="3.5" text-anchor="middle" fill="#000" transform="rotate(-90 432.7 331.0)">10<tspan font-size="2.6" dy="-1.3">0</tspan></text>
<text x="453.1" y="335.2" font-size="3.5" text-anchor="middle" fill="#000">10<tspan font-size="2.6" dy="-1.3">1</tspan></text>
<text x="432.7" y="314.2" font-size="3.5" text-anchor="middle" fill="#000" transform="rotate(-90 432.7 314.2)">10<tspan font-size="2.6" dy="-1.3">1</tspan></text>
<text x="471.1" y="335.2" font-size="3.5" text-anchor="middle" fill="#000">10<tspan font-size="2.6" dy="-1.3">2</tspan></text>
<text x="432.7" y="297.4" font-size="3.5" text-anchor="middle" fill="#000" transform="rotate(-90 432.7 297.4)">10<tspan font-size="2.6" dy="-1.3">2</tspan></text>
<text x="489.2" y="335.2" font-size="3.5" text-anchor="middle" fill="#000">10<tspan font-size="2.6" dy="-1.3">3</tspan></text>
<text x="432.7" y="280.5" font-size="3.5" text-anchor="middle" fill="#000" transform="rotate(-90 432.7 280.5)">10<tspan font-size="2.6" dy="-1.3">3</tspan></text>
<text x="507.3" y="335.2" font-size="3.5" text-anchor="middle" fill="#000">10<tspan font-size="2.6" dy="-1.3">4</tspan></text>
<text x="432.7" y="263.7" font-size="3.5" text-anchor="middle" fill="#000" transform="rotate(-90 432.7 263.7)">10<tspan font-size="2.6" dy="-1.3">4</tspan></text>
<path d="M435.4 330v1.7M435.4 330.0h-1.7M453.5 330v1.7M435.4 313.2h-1.7M471.5 330v1.7M435.4 296.4h-1.7M489.6 330v1.7M435.4 279.5h-1.7M507.7 330v1.7M435.4 262.7h-1.7M440.8 330v1M435.4 325.0h-1M444.1 330v1M435.4 321.9h-1M446.2 330v1M435.4 319.9h-1M448.1 330v1M435.4 318.2h-1M449.5 330v1M435.4 316.9h-1M450.8 330v1M435.4 315.7h-1M451.7 330v1M435.4 314.9h-1M452.6 330v1M435.4 314.0h-1M458.9 330v1M435.4 308.1h-1M462.2 330v1M435.4 305.1h-1M464.3 330v1M435.4 303.1h-1M466.1 330v1M435.4 301.4h-1M467.6 330v1M435.4 300.1h-1M468.8 330v1M435.4 298.9h-1M469.7 330v1M435.4 298.0h-1M470.6 330v1M435.4 297.2h-1M477.0 330v1M435.4 291.3h-1M480.2 330v1M435.4 288.3h-1M482.4 330v1M435.4 286.3h-1M484.2 330v1M435.4 284.6h-1M485.6 330v1M435.4 283.2h-1M486.9 330v1M435.4 282.0h-1M487.8 330v1M435.4 281.2h-1M488.7 330v1M435.4 280.4h-1M495.0 330v1M435.4 274.5h-1M498.3 330v1M435.4 271.4h-1M500.5 330v1M435.4 269.4h-1M502.3 330v1M435.4 267.7h-1M503.7 330v1M435.4 266.4h-1M505.0 330v1M435.4 265.2h-1M505.9 330v1M435.4 264.4h-1M506.8 330v1M435.4 263.5h-1" stroke="#111" stroke-width="0.5" fill="none"/>
<path d="M447.8 325.4h.6M441.7 320.9h.6M444.5 324.6h.6M452.3 317.5h.6M449.9 312.9h.6M446.6 317.5h.6M454.7 313.8h.6M454.5 314.1h.6M449.2 314.6h.6M449.4 318.5h.6M450.6 313.0h.6M443.5 318.2h.6M450.6 316.0h.6M457.8 314.8h.6M448.3 322.9h.6M449.9 315.6h.6M442.9 321.1h.6M444.5 320.7h.6M457.1 307.5h.6M448.5 314.9h.6M457.8 320.1h.6M445.3 318.1h.6M454.5 317.7h.6M451.3 314.6h.6M449.7 317.5h.6M456.9 308.9h.6M457.1 318.1h.6M447.1 316.5h.6M451.5 316.8h.6M445.5 319.5h.6M452.5 321.3h.6M461.5 308.9h.6M445.0 326.7h.6M448.3 320.3h.6M446.7 320.3h.6M458.4 314.7h.6M453.4 311.5h.6M447.9 324.3h.6M451.5 312.3h.6M452.3 313.2h.6M446.1 317.9h.6M444.4 319.4h.6M452.6 312.5h.6M454.7 311.1h.6M454.4 313.1h.6M457.5 311.5h.6M457.8 313.6h.6M444.8 320.4h.6M450.8 318.4h.6M445.3 317.7h.6M450.4 313.4h.6M447.8 317.6h.6M447.1 321.9h.6M452.2 312.5h.6M448.5 313.8h.6M444.4 316.3h.6M449.8 317.8h.6M443.6 317.0h.6M443.4 317.1h.6M459.6 316.6h.6M452.0 320.0h.6M448.1 318.8h.6M447.7 316.5h.6M455.3 319.7h.6M447.3 324.4h.6M443.3 320.5h.6M449.3 317.5h.6M441.8 325.1h.6M440.6 324.7h.6M446.6 318.3h.6M450.8 313.4h.6M448.4 317.0h.6M441.7 315.3h.6M452.8 319.3h.6M448.3 314.4h.6M444.8 317.0h.6M446.3 315.2h.6M451.9 319.1h.6M448.6 313.7h.6M443.7 325.9h.6M453.8 318.5h.6M442.2 323.3h.6M448.5 319.6h.6M447.8 317.9h.6M449.2 323.9h.6M449.5 318.8h.6M449.1 317.8h.6M449.9 323.4h.6M449.3 312.3h.6M452.0 315.3h.6M453.3 316.1h.6M447.5 326.6h.6M452.5 319.7h.6M445.2 319.6h.6M451.6 310.7h.6M443.1 323.7h.6M446.7 319.7h.6M449.0 316.4h.6M451.2 321.0h.6M437.8 320.2h.6M446.0 317.9h.6M449.1 315.2h.6M447.8 314.6h.6M444.7 319.6h.6M453.5 317.8h.6M447.3 322.4h.6M456.3 314.2h.6M454.5 315.5h.6M449.9 315.2h.6M451.7 317.9h.6M444.4 314.7h.6M455.1 311.2h.6M446.8 318.3h.6M459.3 312.7h.6M449.6 315.9h.6M448.7 319.1h.6M454.2 315.4h.6M448.8 317.2h.6M444.3 321.6h.6M452.7 311.2h.6M442.3 324.1h.6M459.5 313.8h.6M445.7 319.6h.6M448.6 321.6h.6M446.5 319.5h.6M450.5 315.7h.6M446.7 326.4h.6M453.6 315.1h.6M449.8 316.1h.6M454.3 309.9h.6M446.2 317.5h.6M449.5 312.3h.6M449.6 309.0h.6M459.2 309.0h.6M445.0 319.2h.6M446.8 320.0h.6M455.7 315.4h.6M442.6 325.4h.6M448.6 324.8h.6M451.6 314.0h.6M449.1 313.8h.6M445.4 313.0h.6M449.3 314.4h.6M446.0 318.8h.6M450.8 321.2h.6M452.8 318.7h.6M457.2 318.0h.6M439.2 320.9h.6M453.4 316.1h.6M442.9 325.5h.6M465.2 294.0h.6M454.7 296.0h.6M441.3 296.6h.6M470.4 315.5h.6M478.6 309.1h.6M452.8 312.7h.6M472.8 314.2h.6M453.6 311.0h.6M460.2 319.8h.6M479.3 295.0h.6M460.9 305.7h.6M459.9 318.2h.6M466.3 317.9h.6M444.0 314.3h.6M467.0 313.4h.6M472.5 304.1h.6M474.2 298.3h.6M455.9 303.7h.6M470.2 306.7h.6M455.9 305.2h.6M464.4 303.7h.6M461.0 314.0h.6M444.6 310.4h.6M484.0 308.0h.6M462.4 316.0h.6M466.4 308.9h.6M464.5 311.7h.6M449.6 316.7h.6M454.9 317.3h.6M449.2 307.3h.6" stroke="#444" stroke-width="0.5" fill="none" stroke-opacity="0.7"/>
<path d="M459.7 310.4h.6M466.4 304.0h.6M464.3 308.4h.6M475.9 297.8h.6M463.4 310.5h.6M463.1 305.0h.6M468.7 305.3h.6M461.6 310.7h.6M465.2 305.9h.6M466.1 303.6h.6M462.6 311.6h.6M464.7 305.8h.6M463.5 307.4h.6M464.2 305.2h.6M465.3 307.3h.6M466.3 303.7h.6M463.5 308.1h.6M464.2 309.5h.6M474.2 300.1h.6M464.8 307.5h.6M463.0 308.7h.6M464.9 306.1h.6M465.0 309.4h.6M464.4 305.8h.6M469.8 302.8h.6M465.4 307.8h.6M471.1 302.7h.6M463.9 307.7h.6M464.7 306.8h.6M465.3 303.1h.6M466.8 304.3h.6M458.6 307.8h.6M466.4 303.8h.6M464.6 307.2h.6M464.5 307.5h.6M463.5 306.4h.6M469.1 303.3h.6M463.8 306.1h.6M464.3 306.2h.6M462.1 306.4h.6M463.5 306.9h.6M470.9 301.0h.6M464.0 306.1h.6M472.7 304.5h.6M464.4 307.5h.6M469.8 305.5h.6M468.2 303.9h.6M468.4 305.8h.6M467.3 299.7h.6M465.4 305.2h.6M464.8 312.3h.6M465.5 306.7h.6M467.7 304.2h.6M463.3 312.4h.6M468.3 302.0h.6M465.3 306.9h.6M468.4 304.9h.6M460.1 308.4h.6M461.3 310.6h.6M469.4 302.0h.6M467.8 301.5h.6M467.6 307.3h.6M461.9 313.5h.6M469.4 305.8h.6M465.0 306.4h.6M466.7 305.3h.6M469.5 302.2h.6M469.2 303.3h.6M465.5 305.9h.6M466.4 304.0h.6M463.3 306.9h.6M477.4 301.5h.6M467.8 304.6h.6M465.4 307.5h.6M461.4 309.2h.6M461.6 306.4h.6M464.9 303.3h.6M467.3 307.5h.6M466.8 304.8h.6M470.7 306.6h.6M464.4 304.3h.6M467.8 308.3h.6M466.5 304.5h.6M469.7 301.6h.6M461.1 307.7h.6M466.8 302.8h.6M464.0 305.5h.6M459.8 313.7h.6M466.0 302.6h.6M467.3 304.4h.6M465.4 307.1h.6M471.0 305.1h.6M465.0 303.7h.6M462.1 313.5h.6M462.2 309.0h.6M467.9 305.3h.6M468.7 304.6h.6M459.1 309.6h.6M466.2 307.0h.6M462.5 313.8h.6M461.3 308.4h.6M463.8 310.3h.6M462.4 307.7h.6M466.4 303.1h.6M461.2 306.9h.6M470.5 301.2h.6M467.5 301.3h.6M467.7 306.1h.6M467.0 304.3h.6M465.4 301.2h.6M466.0 306.3h.6M469.7 302.6h.6M461.1 309.3h.6M470.5 305.2h.6M469.5 299.1h.6M461.6 309.1h.6M466.4 304.4h.6M465.8 304.5h.6M463.2 308.6h.6M464.8 305.9h.6M471.3 299.6h.6M461.7 308.7h.6M470.1 298.4h.6M471.3 301.2h.6M468.0 303.8h.6M461.7 309.3h.6M465.5 308.8h.6M465.5 307.0h.6M464.0 306.0h.6M461.9 309.1h.6M466.6 304.8h.6M466.4 305.3h.6M462.3 313.1h.6M464.0 308.3h.6M463.2 309.7h.6M462.5 305.3h.6M464.4 305.5h.6M467.7 304.0h.6M469.4 304.1h.6M466.1 308.1h.6M464.3 305.5h.6M462.7 308.8h.6M464.8 307.0h.6M463.9 307.0h.6M461.2 309.6h.6M472.3 302.7h.6M469.0 304.7h.6M461.9 305.7h.6M467.3 303.5h.6M470.5 300.7h.6M467.5 309.1h.6M466.3 302.2h.6M465.3 308.8h.6M459.2 310.4h.6M457.1 312.6h.6M468.8 304.4h.6M462.3 309.5h.6M472.0 303.1h.6M462.3 307.9h.6M462.2 306.5h.6M464.3 309.7h.6M460.7 310.7h.6M469.3 303.0h.6M465.1 309.6h.6M467.1 306.3h.6M474.6 301.0h.6M462.2 311.6h.6M465.6 305.0h.6M465.2 304.2h.6M468.5 304.9h.6M472.0 302.3h.6M466.2 305.6h.6M469.5 303.0h.6M468.6 307.5h.6M465.1 306.3h.6M472.4 303.9h.6M460.7 308.7h.6M473.3 299.4h.6M460.1 314.3h.6M465.1 308.3h.6M466.2 303.6h.6M469.1 305.1h.6M463.4 308.4h.6M466.4 304.4h.6M463.2 306.1h.6M468.3 304.5h.6M464.7 303.8h.6M468.1 304.7h.6M463.5 306.0h.6M466.7 305.0h.6M463.3 308.6h.6M464.4 303.7h.6M461.0 309.8h.6M463.7 310.5h.6M474.6 301.2h.6M468.7 301.5h.6M467.1 304.8h.6M464.9 305.8h.6M466.3 304.4h.6M469.3 306.3h.6M461.3 309.9h.6M466.7 307.9h.6M468.3 302.9h.6M465.6 304.1h.6M467.8 304.6h.6M462.4 306.6h.6M464.6 308.4h.6M461.7 308.1h.6M466.6 305.6h.6M469.6 304.4h.6M468.9 304.4h.6M465.2 306.9h.6M465.0 304.0h.6M462.5 306.7h.6M469.9 302.9h.6M464.5 309.4h.6M462.5 303.1h.6M464.8 306.6h.6M461.9 308.4h.6M465.5 304.3h.6M471.7 299.1h.6M462.9 308.7h.6M461.6 310.4h.6M459.7 308.9h.6M457.6 311.7h.6M467.5 307.6h.6M467.0 302.5h.6M471.9 301.4h.6M467.9 303.8h.6M470.5 302.1h.6M470.3 304.2h.6M464.4 309.4h.6M466.2 308.2h.6M466.6 306.4h.6M460.6 309.9h.6M468.9 302.4h.6M467.0 305.5h.6M466.5 308.6h.6M473.9 302.5h.6M463.5 310.0h.6M461.8 309.1h.6M463.6 309.0h.6M467.9 306.6h.6M461.3 308.9h.6M465.6 309.8h.6M469.0 306.2h.6M465.5 306.3h.6M466.2 305.1h.6M464.2 307.5h.6M459.6 310.7h.6M458.4 310.8h.6M462.2 307.3h.6M464.8 305.8h.6M464.2 307.9h.6M466.5 304.1h.6M466.9 310.5h.6M465.3 305.0h.6M470.1 302.9h.6M472.6 307.4h.6M464.7 308.2h.6M472.8 300.6h.6M474.3 298.8h.6M464.6 308.2h.6M462.6 308.5h.6M467.0 307.0h.6M470.5 300.0h.6M464.0 306.5h.6M465.4 307.3h.6M463.3 309.5h.6M469.9 299.2h.6M465.4 307.0h.6M470.2 304.0h.6M469.5 305.9h.6M466.2 304.2h.6M466.8 302.0h.6M470.1 303.3h.6M463.1 312.9h.6M462.0 309.5h.6M460.8 304.6h.6M466.6 304.5h.6M466.1 306.1h.6M465.7 303.9h.6M464.8 304.9h.6M470.2 301.9h.6M467.6 303.8h.6M468.8 301.7h.6M465.2 304.1h.6M469.5 302.4h.6M459.7 307.6h.6M465.7 304.6h.6M466.6 305.9h.6M461.6 309.5h.6M464.4 306.1h.6M464.7 307.0h.6M468.2 303.9h.6M463.1 307.3h.6M465.6 308.2h.6M462.8 310.2h.6M465.8 310.5h.6M461.2 311.0h.6M464.4 307.5h.6M468.6 305.8h.6M470.5 301.3h.6M457.3 313.2h.6M461.7 308.4h.6M473.0 302.8h.6M467.0 307.1h.6M459.8 309.7h.6M469.1 304.6h.6M465.4 308.8h.6M463.5 308.4h.6M464.3 305.9h.6M466.3 305.7h.6M465.3 305.2h.6M468.8 306.2h.6M464.5 306.3h.6M464.3 310.2h.6M463.3 310.5h.6M465.0 307.0h.6M469.3 306.9h.6M466.3 303.9h.6M475.0 298.9h.6M469.8 306.1h.6M467.6 301.2h.6M467.1 306.2h.6M471.7 303.0h.6M472.8 302.3h.6M466.9 304.5h.6M466.8 306.4h.6M460.7 307.5h.6M468.0 305.9h.6M460.3 309.1h.6M470.3 302.4h.6M463.5 306.8h.6M466.1 303.3h.6M465.7 307.5h.6M466.6 308.0h.6M462.3 310.0h.6M464.9 306.6h.6M461.0 310.7h.6M474.1 302.5h.6M464.8 307.8h.6M468.5 305.4h.6M473.9 300.3h.6M466.3 305.3h.6M469.9 301.7h.6M460.7 310.2h.6M462.3 306.6h.6M467.0 304.3h.6M465.9 307.3h.6M468.3 302.1h.6M473.6 300.0h.6M470.5 304.2h.6M467.4 304.6h.6M462.5 310.0h.6M466.1 306.2h.6M464.8 307.4h.6M466.0 306.8h.6M459.6 311.0h.6M471.7 301.5h.6M466.9 306.8h.6M463.7 309.7h.6M460.9 310.1h.6M462.1 308.5h.6M467.3 307.6h.6M473.5 300.3h.6M466.5 306.4h.6M461.6 309.6h.6M469.4 307.2h.6M465.5 306.0h.6M473.7 303.3h.6M462.0 307.0h.6M462.4 307.6h.6M463.3 310.5h.6M468.6 304.7h.6M461.8 309.3h.6M469.7 303.0h.6M474.5 301.3h.6M470.9 301.2h.6M467.8 302.9h.6M464.9 307.4h.6M461.6 311.0h.6M462.1 307.2h.6M463.6 307.2h.6M462.9 303.8h.6M463.7 309.7h.6M469.4 306.5h.6M466.6 307.4h.6M462.8 309.0h.6M471.7 299.4h.6M467.9 303.4h.6M467.9 305.6h.6M466.2 305.9h.6M466.8 303.5h.6M462.9 311.1h.6M471.5 303.4h.6M466.9 299.6h.6M468.8 302.9h.6M464.9 306.5h.6M465.7 300.2h.6M468.7 303.9h.6M471.0 301.7h.6M469.7 302.2h.6M465.5 304.8h.6M465.7 307.5h.6M465.2 306.4h.6M463.5 306.5h.6M466.4 305.0h.6M464.1 307.0h.6M468.2 304.6h.6M464.4 306.7h.6M466.9 306.3h.6M468.0 303.4h.6M473.1 302.3h.6M460.9 309.6h.6M471.1 299.7h.6M466.3 307.1h.6M467.0 306.0h.6M462.7 308.5h.6M463.5 308.6h.6M463.2 308.6h.6M467.1 304.9h.6M467.4 306.8h.6M460.7 310.6h.6M464.8 305.6h.6M459.9 309.2h.6M466.1 307.9h.6M463.9 308.5h.6M470.5 303.0h.6M467.4 306.4h.6M461.6 311.1h.6M460.2 311.4h.6M463.0 305.0h.6M462.8 306.5h.6M466.9 303.6h.6M466.3 306.0h.6M466.0 303.6h.6M463.9 310.1h.6M464.8 309.7h.6M464.3 308.0h.6M463.1 308.8h.6M469.5 302.9h.6M469.4 303.4h.6M467.1 307.6h.6M469.4 302.5h.6M470.5 302.3h.6M461.3 305.7h.6M463.7 311.8h.6M469.1 305.4h.6M461.2 309.4h.6M461.0 306.6h.6M470.5 297.9h.6M462.7 306.9h.6M463.8 308.8h.6M464.8 307.3h.6M466.9 305.8h.6M471.5 304.0h.6M468.4 307.1h.6M466.0 303.5h.6M470.1 301.2h.6M466.7 306.6h.6M464.0 307.3h.6M464.2 310.0h.6M469.3 302.1h.6M467.4 305.5h.6M468.2 304.9h.6M466.9 305.1h.6M466.2 307.0h.6M468.6 305.3h.6M470.0 300.7h.6M464.2 306.5h.6M468.3 303.9h.6M461.4 309.2h.6M464.5 307.5h.6M472.5 300.4h.6M460.0 309.5h.6M469.9 304.2h.6M466.0 307.2h.6M465.3 304.2h.6M474.7 299.1h.6M464.7 304.2h.6M463.8 305.9h.6M460.2 304.4h.6M462.0 307.8h.6M470.1 300.4h.6M470.0 300.6h.6M465.0 305.3h.6M468.3 303.5h.6M468.8 304.0h.6M461.4 306.9h.6M464.6 303.8h.6M472.4 301.3h.6M470.8 301.0h.6M468.6 307.1h.6M464.3 307.7h.6M464.7 309.3h.6M459.6 310.9h.6M466.0 304.2h.6M462.2 312.2h.6M472.6 300.6h.6M464.2 305.3h.6M462.0 309.6h.6M467.9 303.4h.6M468.9 304.3h.6M472.1 303.6h.6M458.2 312.8h.6M466.0 305.9h.6M459.7 313.7h.6M463.5 306.3h.6M467.9 301.0h.6M461.8 310.4h.6M460.8 312.7h.6M461.4 310.0h.6M462.3 308.4h.6M470.5 302.6h.6M464.0 307.5h.6M465.1 307.1h.6M463.1 308.1h.6M463.2 307.3h.6M465.1 304.6h.6M466.9 304.1h.6M465.6 307.1h.6M468.3 305.6h.6M465.3 303.2h.6M462.6 307.5h.6M467.6 304.5h.6M469.6 303.8h.6M460.9 309.2h.6M466.8 304.6h.6M469.6 304.9h.6M460.9 306.6h.6M463.5 305.9h.6M468.8 307.3h.6M461.0 304.6h.6M465.4 304.9h.6M461.3 310.1h.6M462.1 309.7h.6M466.7 306.8h.6M460.3 309.5h.6M468.0 305.2h.6M462.3 307.2h.6M463.9 305.3h.6M468.0 304.7h.6M470.7 305.5h.6M462.3 308.9h.6M467.8 302.7h.6M468.1 305.7h.6M463.5 304.3h.6M466.8 303.1h.6M467.1 307.3h.6M463.0 305.8h.6M461.7 307.0h.6M468.9 306.8h.6M466.2 306.7h.6M463.5 305.1h.6M462.4 312.1h.6M464.3 307.1h.6M466.3 305.3h.6M462.8 309.0h.6M472.2 299.7h.6M468.0 303.5h.6M467.7 307.4h.6M464.8 302.0h.6M459.0 310.6h.6M460.6 309.1h.6M466.7 305.5h.6M461.9 310.4h.6M470.2 302.9h.6M464.8 305.8h.6M463.8 308.1h.6M458.5 308.2h.6M465.8 304.8h.6M464.6 309.1h.6M468.5 304.7h.6M466.7 307.3h.6M473.1 300.1h.6M465.8 304.3h.6M461.6 309.2h.6M462.0 310.9h.6M467.3 302.5h.6M467.9 306.1h.6M464.5 305.7h.6M464.5 307.8h.6M465.4 304.8h.6M464.9 309.8h.6M463.8 308.0h.6M464.5 306.6h.6M469.3 303.2h.6M467.4 305.9h.6M464.7 305.9h.6M460.6 308.4h.6M463.0 309.0h.6M466.8 304.1h.6M466.4 306.8h.6M472.0 301.0h.6M465.6 306.1h.6M466.2 306.2h.6M464.6 309.1h.6M461.0 308.7h.6M470.9 301.4h.6M466.2 306.1h.6M462.4 305.2h.6M465.6 305.2h.6M471.7 306.7h.6M467.8 304.5h.6M465.7 305.9h.6M467.1 303.7h.6M471.4 302.2h.6M466.0 304.1h.6M463.8 308.1h.6M467.3 304.3h.6M465.0 306.2h.6M474.9 299.3h.6M461.8 309.1h.6M460.1 312.1h.6M457.9 310.3h.6M468.3 304.4h.6M459.2 313.9h.6M459.2 305.9h.6M460.5 310.5h.6M466.9 303.5h.6M461.7 311.3h.6M469.0 304.1h.6M455.0 317.4h.6M457.4 308.7h.6M464.6 312.6h.6M459.6 308.8h.6M458.4 314.0h.6M455.3 314.2h.6M464.0 309.4h.6M462.9 307.0h.6M459.2 311.9h.6M467.0 306.1h.6M452.9 315.3h.6M461.9 308.2h.6M461.7 304.8h.6M451.9 311.7h.6M464.7 304.9h.6M457.8 312.8h.6M461.5 308.3h.6M453.5 316.6h.6M448.5 314.1h.6M460.1 313.0h.6M459.0 310.0h.6M467.4 302.8h.6M453.6 317.6h.6M464.1 307.2h.6M468.3 305.6h.6M464.3 313.8h.6M461.4 307.9h.6M465.2 309.3h.6M462.7 308.7h.6M458.5 314.0h.6M463.0 306.5h.6M475.5 301.0h.6M459.9 308.6h.6M459.0 309.4h.6M449.5 314.5h.6M468.3 303.8h.6M456.1 315.6h.6M456.3 309.8h.6M459.7 310.5h.6M466.9 306.4h.6M462.7 315.7h.6M465.4 301.9h.6M465.3 309.4h.6M466.1 306.7h.6M447.7 322.4h.6M451.9 318.8h.6M454.9 312.6h.6M453.8 315.8h.6M464.6 312.2h.6M464.3 309.6h.6M459.4 316.1h.6M463.9 309.7h.6M462.1 309.4h.6M471.6 302.1h.6M461.1 305.8h.6M458.4 308.7h.6M468.6 309.9h.6M471.6 301.8h.6M456.7 314.7h.6M463.5 307.4h.6M477.6 301.7h.6M465.7 308.0h.6M461.1 311.6h.6M456.1 309.3h.6M463.9 307.9h.6M467.0 310.0h.6M462.8 310.4h.6M455.3 310.8h.6M463.1 306.6h.6M459.4 311.3h.6M461.8 307.7h.6M462.9 307.1h.6M457.8 311.4h.6M464.6 305.7h.6M460.9 309.6h.6M462.1 308.4h.6M463.6 309.6h.6M459.8 310.9h.6M460.4 318.4h.6M462.9 309.8h.6M463.3 306.5h.6M465.2 307.5h.6M466.4 311.0h.6M467.4 307.6h.6M457.6 311.6h.6M460.7 313.4h.6M462.9 311.8h.6M469.0 307.0h.6M460.6 307.2h.6M461.0 303.2h.6M468.1 303.3h.6M455.0 313.4h.6M468.4 301.1h.6M465.2 304.8h.6M461.6 308.6h.6M465.0 306.8h.6M471.5 304.1h.6M470.8 303.7h.6M457.5 314.1h.6M458.5 313.1h.6M464.6 303.5h.6M471.4 309.8h.6M470.7 304.4h.6M463.2 304.5h.6M466.3 300.4h.6M464.7 310.1h.6M454.8 309.5h.6M460.6 310.0h.6M461.4 312.7h.6M469.3 299.0h.6M463.0 306.6h.6M458.9 312.3h.6M458.4 309.4h.6M470.8 303.7h.6M451.9 315.3h.6M476.0 300.7h.6M472.8 299.4h.6M466.9 310.1h.6M464.0 312.2h.6M463.1 301.4h.6M465.3 308.8h.6M459.6 311.8h.6M461.6 305.3h.6M463.3 307.9h.6M458.6 315.1h.6M464.3 307.8h.6M461.2 308.5h.6M473.4 302.7h.6M465.3 303.7h.6M462.0 313.4h.6M455.7 314.2h.6M463.0 307.4h.6M465.2 303.5h.6M467.9 299.3h.6M462.5 308.4h.6M459.7 315.0h.6M464.4 310.7h.6M471.6 303.7h.6M473.5 302.0h.6M460.5 307.3h.6M463.1 304.2h.6M457.0 311.3h.6M459.9 309.7h.6M456.5 316.6h.6M460.6 309.2h.6M458.4 315.3h.6M453.6 318.2h.6M473.0 302.0h.6M454.1 320.3h.6M457.3 314.7h.6M463.1 305.8h.6M459.1 309.9h.6M461.5 307.8h.6M467.6 302.2h.6M452.4 315.2h.6M464.4 314.4h.6M465.7 307.0h.6M458.8 318.0h.6M465.3 305.7h.6M466.4 305.4h.6M475.2 300.4h.6M463.2 308.1h.6M470.1 298.7h.6M457.9 309.1h.6M457.9 310.2h.6M456.7 319.3h.6M467.9 303.1h.6M463.4 313.6h.6M460.6 312.3h.6M466.9 304.8h.6M452.9 319.4h.6M457.5 315.3h.6M454.2 312.4h.6M469.7 303.5h.6M460.1 314.0h.6M459.3 304.8h.6M467.6 303.1h.6M470.6 304.0h.6M459.3 310.2h.6M454.5 311.9h.6M461.6 313.6h.6M468.7 304.6h.6M459.2 307.4h.6M472.2 302.9h.6M472.0 305.5h.6M470.8 301.3h.6M460.9 305.5h.6M468.1 309.7h.6M463.6 305.2h.6M466.5 300.6h.6M462.8 312.5h.6M454.8 316.9h.6M459.3 311.1h.6M473.3 301.4h.6M455.6 314.6h.6M463.0 306.3h.6M470.2 300.9h.6M465.8 308.4h.6M463.5 304.9h.6M458.4 307.2h.6M461.9 307.0h.6M451.9 314.4h.6M463.1 310.0h.6M463.8 307.0h.6M460.9 314.3h.6M464.3 305.2h.6M464.5 308.1h.6M464.6 313.0h.6M461.3 312.2h.6M465.6 313.3h.6M456.3 315.7h.6M454.4 319.9h.6M471.7 301.9h.6M460.0 310.9h.6M456.9 313.4h.6M461.8 312.8h.6M462.2 307.1h.6M465.0 310.9h.6M464.5 309.3h.6M460.0 310.5h.6M464.2 304.9h.6M457.0 305.8h.6M467.3 302.6h.6M471.2 298.0h.6M470.2 298.7h.6M459.5 308.7h.6M468.3 301.5h.6M469.7 300.9h.6M458.7 312.6h.6M459.6 315.3h.6M473.3 297.1h.6M472.2 304.7h.6M468.3 305.4h.6M466.0 303.6h.6M471.7 303.6h.6M468.8 300.3h.6M466.9 308.5h.6" stroke="#000" stroke-width="0.6" fill="none" stroke-opacity="0.9"/>
<ellipse cx="466.7" cy="305.4" rx="12.8" ry="12.8" fill="none" stroke="#222" stroke-width="0.7"/>
<rect x="351.30" y="352.50" width="73.00" height="65.80" fill="#fff" stroke="#666" stroke-width="0.8"/>
<text x="350.9" y="423.5" font-size="3.5" text-anchor="middle" fill="#000">10<tspan font-size="2.6" dy="-1.3">0</tspan></text>
<text x="348.6" y="419.3" font-size="3.5" text-anchor="middle" fill="#000" transform="rotate(-90 348.6 419.3)">10<tspan font-size="2.6" dy="-1.3">0</tspan></text>
<text x="369.2" y="423.5" font-size="3.5" text-anchor="middle" fill="#000">10<tspan font-size="2.6" dy="-1.3">1</tspan></text>
<text x="348.6" y="402.9" font-size="3.5" text-anchor="middle" fill="#000" transform="rotate(-90 348.6 402.9)">10<tspan font-size="2.6" dy="-1.3">1</tspan></text>
<text x="387.4" y="423.5" font-size="3.5" text-anchor="middle" fill="#000">10<tspan font-size="2.6" dy="-1.3">2</tspan></text>
<text x="348.6" y="386.4" font-size="3.5" text-anchor="middle" fill="#000" transform="rotate(-90 348.6 386.4)">10<tspan font-size="2.6" dy="-1.3">2</tspan></text>
<text x="405.7" y="423.5" font-size="3.5" text-anchor="middle" fill="#000">10<tspan font-size="2.6" dy="-1.3">3</tspan></text>
<text x="348.6" y="369.9" font-size="3.5" text-anchor="middle" fill="#000" transform="rotate(-90 348.6 369.9)">10<tspan font-size="2.6" dy="-1.3">3</tspan></text>
<text x="423.9" y="423.5" font-size="3.5" text-anchor="middle" fill="#000">10<tspan font-size="2.6" dy="-1.3">4</tspan></text>
<text x="348.6" y="353.5" font-size="3.5" text-anchor="middle" fill="#000" transform="rotate(-90 348.6 353.5)">10<tspan font-size="2.6" dy="-1.3">4</tspan></text>
<path d="M351.3 418.3v1.7M351.3 418.3h-1.7M369.6 418.3v1.7M351.3 401.9h-1.7M387.8 418.3v1.7M351.3 385.4h-1.7M406.1 418.3v1.7M351.3 368.9h-1.7M424.3 418.3v1.7M351.3 352.5h-1.7M356.8 418.3v1M351.3 413.4h-1M360.1 418.3v1M351.3 410.4h-1M362.2 418.3v1M351.3 408.4h-1M364.1 418.3v1M351.3 406.8h-1M365.5 418.3v1M351.3 405.5h-1M366.8 418.3v1M351.3 404.3h-1M367.7 418.3v1M351.3 403.5h-1M368.6 418.3v1M351.3 402.7h-1M375.0 418.3v1M351.3 396.9h-1M378.3 418.3v1M351.3 394.0h-1M380.5 418.3v1M351.3 392.0h-1M382.3 418.3v1M351.3 390.3h-1M383.8 418.3v1M351.3 389.0h-1M385.1 418.3v1M351.3 387.9h-1M386.0 418.3v1M351.3 387.0h-1M386.9 418.3v1M351.3 386.2h-1M393.3 418.3v1M351.3 380.5h-1M396.6 418.3v1M351.3 377.5h-1M398.8 418.3v1M351.3 375.5h-1M400.6 418.3v1M351.3 373.9h-1M402.0 418.3v1M351.3 372.6h-1M403.3 418.3v1M351.3 371.4h-1M404.2 418.3v1M351.3 370.6h-1M405.1 418.3v1M351.3 369.8h-1M411.5 418.3v1M351.3 364.0h-1M414.8 418.3v1M351.3 361.1h-1M417.0 418.3v1M351.3 359.1h-1M418.8 418.3v1M351.3 357.4h-1M420.3 418.3v1M351.3 356.1h-1M421.6 418.3v1M351.3 355.0h-1M422.5 418.3v1M351.3 354.1h-1M423.4 418.3v1M351.3 353.3h-1" stroke="#111" stroke-width="0.5" fill="none"/>
<path d="M377.6 405.6h.6M372.1 401.4h.6M366.5 409.8h.6M374.9 405.4h.6M369.6 405.9h.6M372.3 405.6h.6M366.3 406.5h.6M382.4 400.8h.6M375.7 405.7h.6M378.2 401.4h.6M374.3 405.3h.6M368.4 408.1h.6M377.1 408.5h.6M376.0 409.3h.6M380.0 401.1h.6M376.4 406.0h.6M381.0 399.7h.6M373.8 405.8h.6M369.7 409.0h.6M373.2 409.2h.6M380.2 405.9h.6M373.4 402.0h.6M373.8 404.3h.6M372.5 409.1h.6M383.1 403.8h.6M376.5 406.9h.6M374.8 402.9h.6M378.5 402.4h.6M373.7 406.3h.6M373.3 405.8h.6M377.2 403.8h.6M369.3 401.6h.6M367.6 408.9h.6M386.2 401.3h.6M379.4 401.2h.6M377.1 401.3h.6M365.2 408.0h.6M373.6 409.8h.6M376.7 406.5h.6M371.9 405.7h.6M365.3 408.4h.6M376.5 403.3h.6M377.5 403.3h.6M380.7 402.3h.6M373.2 403.7h.6M377.3 407.6h.6M370.2 404.3h.6M372.7 410.3h.6M376.4 406.5h.6M379.8 403.5h.6M362.4 404.4h.6M376.7 400.2h.6M391.6 394.2h.6M398.2 401.1h.6M383.0 391.8h.6M393.6 388.2h.6M372.2 393.3h.6M392.9 390.7h.6M385.0 392.8h.6M369.8 402.7h.6M400.6 401.6h.6M391.8 377.6h.6M370.7 402.7h.6M389.7 392.5h.6M389.8 393.6h.6M375.2 397.3h.6M398.9 403.2h.6M386.1 395.0h.6M398.0 400.1h.6M402.6 392.5h.6M391.2 396.6h.6M381.3 404.2h.6M396.4 395.0h.6M397.2 388.9h.6M378.8 393.9h.6M381.1 409.4h.6M398.8 394.0h.6M389.3 385.3h.6M376.0 385.8h.6M382.9 392.1h.6" stroke="#444" stroke-width="0.5" fill="none" stroke-opacity="0.7"/>
<path d="M387.6 395.3h.6M385.7 393.7h.6M382.0 396.8h.6M377.9 397.7h.6M387.4 390.8h.6M394.2 390.1h.6M389.4 392.6h.6M378.8 398.3h.6M389.6 391.7h.6M389.2 395.5h.6M387.6 401.1h.6M388.7 395.1h.6M384.1 394.8h.6M389.5 398.4h.6M392.2 394.2h.6M383.2 399.0h.6M393.1 393.4h.6M388.0 393.2h.6M377.7 398.2h.6M383.1 394.4h.6M384.3 393.9h.6M397.1 392.5h.6M382.9 398.5h.6M389.6 390.3h.6M387.3 393.9h.6M391.0 394.1h.6M384.6 396.1h.6M393.0 392.4h.6M390.4 394.2h.6M382.5 397.5h.6M387.8 394.3h.6M384.6 397.4h.6M391.9 394.3h.6M385.6 397.8h.6M386.4 392.9h.6M386.2 396.6h.6M385.7 395.6h.6M386.0 397.2h.6M387.2 392.1h.6M388.6 395.1h.6M392.3 391.5h.6M388.9 394.0h.6M390.0 395.4h.6M387.1 395.1h.6M386.1 395.1h.6M398.9 389.2h.6M387.0 397.2h.6M387.9 395.3h.6M391.1 392.5h.6M386.6 395.1h.6M394.1 388.5h.6M387.9 392.4h.6M387.5 397.4h.6M381.2 397.6h.6M389.0 394.7h.6M382.7 396.1h.6M386.4 397.5h.6M389.9 392.8h.6M381.1 395.9h.6M385.3 396.9h.6M384.5 397.1h.6M393.3 391.5h.6M390.6 393.9h.6M390.8 390.2h.6M389.0 390.5h.6M389.7 396.8h.6M382.7 398.7h.6M390.2 392.7h.6M388.0 393.8h.6M385.9 395.7h.6M384.9 396.2h.6M388.5 391.0h.6M392.8 391.5h.6M385.7 396.5h.6M379.1 398.1h.6M390.3 392.1h.6M386.8 393.8h.6M389.9 390.8h.6M379.2 395.4h.6M383.4 394.7h.6M381.8 395.9h.6M396.8 387.0h.6M386.0 392.7h.6M386.7 394.8h.6M385.3 396.2h.6M388.3 395.3h.6M391.5 391.4h.6M383.0 398.7h.6M387.2 395.4h.6M393.9 392.4h.6M387.3 394.9h.6M386.0 394.4h.6M389.9 394.1h.6M384.7 395.6h.6M387.4 395.6h.6M380.5 398.3h.6M385.0 395.2h.6M384.7 396.4h.6M387.6 397.7h.6M387.1 394.3h.6M386.7 394.9h.6M394.4 393.8h.6M383.8 398.1h.6M384.5 397.4h.6M382.3 398.5h.6M389.6 394.5h.6M389.1 392.1h.6M390.2 392.5h.6M379.6 399.7h.6M378.7 402.9h.6M391.9 396.9h.6M390.2 394.0h.6M388.7 391.4h.6M387.7 396.3h.6M390.6 394.9h.6M387.3 394.8h.6M392.9 394.3h.6M386.4 391.9h.6M385.0 392.7h.6M392.2 394.6h.6M389.0 393.0h.6M384.6 396.8h.6M378.6 397.1h.6M389.4 394.0h.6M389.3 390.8h.6M386.8 395.2h.6M389.7 393.5h.6M393.3 389.1h.6M388.4 394.8h.6M379.8 401.4h.6M395.8 389.5h.6M393.7 394.3h.6M381.5 396.7h.6M392.8 393.9h.6M382.0 400.0h.6M389.4 397.4h.6M394.7 392.1h.6M387.9 392.9h.6M386.9 395.0h.6M384.0 393.3h.6M391.8 392.2h.6M385.4 396.0h.6M378.8 401.0h.6M384.1 394.3h.6M389.7 395.0h.6M381.1 397.5h.6M388.1 392.8h.6M387.1 394.2h.6M386.0 392.2h.6M388.0 396.1h.6M390.1 391.6h.6M384.9 393.8h.6M390.1 394.3h.6M382.5 394.8h.6M391.9 394.0h.6M381.1 395.1h.6M397.0 386.6h.6M387.2 395.4h.6M389.3 390.7h.6M389.0 394.0h.6M382.6 400.0h.6M384.3 400.1h.6M389.3 394.3h.6M393.4 389.0h.6M385.8 392.1h.6M391.1 392.8h.6M388.0 395.5h.6M385.2 396.1h.6M386.0 396.2h.6M386.3 395.2h.6M392.7 391.7h.6M385.3 394.9h.6M389.1 395.7h.6M386.3 395.6h.6M383.6 395.5h.6M389.1 394.6h.6M391.5 391.4h.6M387.2 394.3h.6M390.1 391.7h.6M384.2 396.1h.6M387.1 395.4h.6M385.1 394.1h.6M385.5 391.3h.6M384.2 395.0h.6M392.0 392.5h.6M386.8 393.1h.6M394.6 390.3h.6M386.3 394.7h.6M390.4 393.5h.6M390.4 391.9h.6M388.3 395.8h.6M392.0 395.8h.6M384.9 399.5h.6M386.0 396.0h.6M386.4 396.5h.6M391.8 395.5h.6M381.0 398.1h.6M391.8 391.3h.6M384.0 400.1h.6M389.3 393.0h.6M388.7 396.3h.6M376.7 399.9h.6M393.6 389.2h.6M389.0 392.8h.6M386.7 395.6h.6M388.2 395.7h.6M389.7 395.5h.6M385.5 392.7h.6M393.9 392.2h.6M390.2 391.8h.6M390.7 391.8h.6M385.3 393.9h.6M392.5 393.6h.6M387.8 395.0h.6M383.1 397.2h.6M387.6 398.2h.6M394.9 389.8h.6M386.5 394.8h.6M384.3 398.1h.6M394.4 391.1h.6M380.3 398.5h.6M391.4 393.5h.6M383.8 394.6h.6M391.9 394.1h.6M385.8 396.4h.6M387.6 396.9h.6M387.3 396.6h.6M390.0 392.8h.6M385.6 396.4h.6M384.6 394.8h.6M388.7 392.8h.6M378.5 399.0h.6M387.2 395.6h.6M380.8 396.8h.6M393.3 391.0h.6M387.2 396.1h.6M390.5 392.6h.6M383.4 394.8h.6M389.1 393.1h.6M387.2 395.3h.6M384.5 397.4h.6M384.5 395.0h.6M382.3 395.2h.6M392.1 392.9h.6M385.6 398.9h.6M390.0 391.8h.6M393.4 390.4h.6M389.1 394.2h.6M381.9 397.0h.6M386.0 395.7h.6M383.8 396.0h.6M381.6 400.5h.6M391.0 391.4h.6M383.3 396.8h.6M387.9 392.6h.6M390.7 390.8h.6M383.5 393.7h.6M386.8 393.9h.6M388.4 391.4h.6M392.8 394.3h.6M381.8 398.4h.6M383.4 395.4h.6M392.2 389.4h.6M382.8 396.6h.6M390.4 391.5h.6M388.8 389.0h.6M390.1 392.2h.6M389.3 393.0h.6M385.7 395.7h.6M384.5 398.3h.6M388.3 395.7h.6M385.4 397.1h.6M385.0 401.0h.6M388.7 391.5h.6M388.6 395.2h.6M391.4 391.6h.6M381.9 398.3h.6M388.2 395.8h.6M390.5 395.4h.6M386.7 393.8h.6M379.4 398.7h.6M391.3 393.8h.6M382.9 397.9h.6M387.4 395.1h.6M386.9 397.0h.6M380.7 400.2h.6M390.2 391.6h.6M390.2 393.3h.6M385.3 396.9h.6M389.0 396.2h.6M388.2 393.4h.6M384.1 395.2h.6M391.8 396.0h.6M385.7 396.0h.6M377.6 399.7h.6M390.5 391.8h.6M385.5 393.3h.6M387.2 394.2h.6M388.2 392.2h.6M379.9 397.8h.6M387.4 392.2h.6M388.1 394.4h.6M384.5 396.4h.6M384.5 395.6h.6M388.0 395.7h.6M389.9 393.2h.6M384.6 394.0h.6M388.6 393.2h.6M383.3 395.0h.6M390.4 394.9h.6M385.1 393.9h.6M391.0 392.6h.6M387.9 394.1h.6M377.5 399.6h.6M393.2 392.0h.6M386.9 393.3h.6M387.3 392.9h.6M387.5 395.0h.6M384.6 396.6h.6M383.1 399.5h.6M388.3 395.7h.6M387.8 394.6h.6M386.2 394.5h.6M386.2 397.3h.6M386.3 395.7h.6M391.6 390.3h.6M383.4 400.4h.6M382.0 397.1h.6M379.3 398.2h.6M385.0 394.2h.6M388.8 395.4h.6M385.4 395.6h.6M391.9 392.4h.6M384.8 396.1h.6M383.7 396.1h.6M387.9 392.8h.6M382.9 395.5h.6M397.1 386.2h.6M387.6 394.8h.6M380.7 398.0h.6M394.7 389.2h.6M388.7 394.0h.6M380.8 394.6h.6M384.6 393.6h.6M387.4 394.8h.6M383.6 396.8h.6M388.2 394.8h.6M386.9 395.3h.6M384.3 397.9h.6M398.5 390.0h.6M391.0 394.9h.6M382.7 395.9h.6M380.9 397.4h.6M393.0 391.5h.6M389.4 391.7h.6M379.4 400.4h.6M384.8 394.7h.6M386.4 397.6h.6M381.9 398.0h.6M387.1 394.1h.6M382.4 396.9h.6M387.5 396.4h.6M380.4 395.2h.6M389.7 393.9h.6M390.0 394.4h.6M393.3 390.0h.6M378.6 400.9h.6M386.1 395.3h.6M381.7 396.5h.6M386.6 392.6h.6M386.8 392.4h.6M393.2 390.8h.6M387.5 392.9h.6M389.1 393.8h.6M395.4 387.5h.6M390.1 395.1h.6M383.1 397.7h.6M383.9 399.4h.6M389.0 392.4h.6M384.9 396.2h.6M390.8 390.9h.6M394.5 390.6h.6M385.1 394.7h.6M394.5 390.5h.6M386.1 395.9h.6M390.6 390.5h.6M382.5 395.8h.6M389.2 391.2h.6M385.4 396.0h.6M388.8 392.8h.6M382.8 396.2h.6M389.8 393.6h.6M387.9 392.3h.6M387.2 394.6h.6M383.2 397.4h.6M385.3 397.7h.6M390.6 391.8h.6M388.3 393.7h.6M393.9 393.6h.6M393.7 391.5h.6M384.3 398.0h.6M383.9 397.1h.6M390.9 393.9h.6M390.7 393.4h.6M386.1 393.0h.6M386.8 397.0h.6M387.2 394.1h.6M386.1 396.2h.6M390.4 394.4h.6M387.3 396.1h.6M389.9 393.8h.6M388.6 393.9h.6M387.6 396.0h.6M392.5 392.4h.6M387.7 396.7h.6M388.2 395.6h.6M382.2 396.1h.6M389.9 392.5h.6M387.5 393.6h.6M387.0 394.5h.6M383.7 397.7h.6M388.6 398.4h.6M383.2 398.8h.6M396.4 391.9h.6M379.3 398.5h.6M382.9 396.6h.6M385.7 392.8h.6M386.5 393.7h.6M386.5 395.1h.6M387.3 394.8h.6M391.5 389.3h.6M387.5 395.0h.6M387.1 393.0h.6M390.0 392.9h.6M379.2 395.7h.6M392.5 390.6h.6M387.4 392.3h.6M393.6 390.6h.6M388.6 394.2h.6M395.1 390.5h.6M384.7 394.4h.6M389.7 393.2h.6M390.3 392.3h.6M386.9 394.3h.6M389.3 393.0h.6M389.0 393.3h.6M390.1 394.6h.6M393.0 389.3h.6M388.0 393.2h.6M393.9 389.7h.6M382.0 397.3h.6M379.7 399.7h.6M393.7 392.5h.6M381.5 398.9h.6M387.3 391.3h.6M386.3 395.4h.6M380.9 395.0h.6M386.3 394.5h.6M391.4 392.4h.6M384.2 397.4h.6M386.3 393.8h.6M391.7 392.8h.6M387.0 397.3h.6M385.7 391.9h.6M389.3 394.0h.6M392.8 390.4h.6M390.5 389.9h.6M382.4 397.6h.6M385.4 393.7h.6M386.8 394.8h.6M379.8 400.2h.6M385.8 397.4h.6M388.1 394.7h.6M387.3 393.1h.6M388.8 393.7h.6M389.4 395.3h.6M386.2 396.3h.6M395.6 391.7h.6M385.4 394.9h.6M384.9 395.1h.6M382.0 396.3h.6M389.8 397.0h.6M382.7 399.8h.6M386.5 395.8h.6M388.0 393.1h.6M389.2 392.7h.6M385.2 398.6h.6M382.2 397.2h.6M384.4 398.6h.6M383.5 396.4h.6M382.2 398.2h.6M389.4 392.0h.6M380.6 398.9h.6M383.1 393.0h.6M387.4 397.1h.6M384.8 396.3h.6M384.8 395.0h.6M385.7 395.7h.6M400.1 385.9h.6M390.5 392.7h.6M376.4 398.6h.6M384.9 395.0h.6M381.6 398.0h.6M392.3 393.5h.6M393.9 388.9h.6M388.9 394.2h.6M392.5 395.1h.6M393.6 394.2h.6M384.2 394.3h.6M390.0 396.3h.6M381.7 400.4h.6M385.8 397.1h.6M391.3 392.9h.6M393.0 388.8h.6M381.4 396.2h.6M393.3 393.0h.6M386.6 396.7h.6M383.3 397.3h.6M389.1 395.1h.6M380.4 397.9h.6M391.5 390.1h.6M382.1 398.9h.6M386.5 396.4h.6M392.1 393.3h.6M385.8 395.0h.6M387.3 394.3h.6M386.2 394.5h.6M388.4 393.9h.6M389.1 392.9h.6M389.6 392.5h.6M388.7 393.2h.6M384.3 397.5h.6M386.6 396.4h.6M385.9 396.8h.6M384.3 396.1h.6M397.3 385.1h.6M387.1 394.7h.6M386.4 395.7h.6M389.1 392.9h.6M387.6 392.9h.6M384.9 394.9h.6M388.6 395.6h.6M392.8 392.9h.6M390.9 393.8h.6M383.6 395.0h.6M388.8 393.8h.6M385.5 398.9h.6M385.4 396.2h.6M390.7 392.6h.6M391.5 393.0h.6M390.1 391.5h.6M385.6 394.3h.6M394.8 392.5h.6M382.7 398.8h.6M385.8 397.4h.6M388.9 396.2h.6M394.3 390.5h.6M388.2 394.5h.6M384.9 396.0h.6M386.4 394.7h.6M390.8 394.0h.6M380.9 399.9h.6M389.7 396.7h.6M388.9 393.6h.6M381.9 397.7h.6M390.9 392.7h.6M388.6 392.9h.6M390.8 390.5h.6M384.5 396.8h.6M388.1 396.0h.6M387.4 394.0h.6M389.9 396.4h.6M386.7 399.4h.6M387.6 394.6h.6M389.6 391.8h.6M383.7 397.2h.6M387.2 393.4h.6M391.8 392.2h.6M380.9 397.3h.6M387.8 397.6h.6M388.6 395.4h.6M386.4 393.2h.6M387.6 395.9h.6M389.1 394.1h.6M386.8 393.3h.6M387.7 393.6h.6M386.9 394.8h.6M383.8 398.2h.6M390.2 390.7h.6M382.5 396.6h.6M391.3 393.6h.6M389.5 392.4h.6M390.5 389.7h.6M387.0 394.2h.6M383.6 396.6h.6M387.5 395.0h.6M387.1 393.4h.6M390.2 391.6h.6M395.3 392.2h.6M386.8 395.2h.6M386.1 396.3h.6M382.2 398.5h.6M392.3 392.4h.6M386.8 394.3h.6M388.0 396.0h.6M384.4 394.5h.6M385.6 397.9h.6M394.5 390.0h.6M384.4 399.6h.6M385.4 398.2h.6M386.0 393.9h.6M390.6 393.3h.6M390.1 393.7h.6M376.9 400.0h.6M384.9 397.9h.6M391.1 392.3h.6M389.9 391.5h.6M390.3 393.1h.6M396.0 391.0h.6M389.5 390.1h.6M387.1 395.9h.6M389.7 391.3h.6M390.0 394.2h.6M389.0 396.2h.6M390.6 390.7h.6M386.1 394.4h.6M386.1 395.3h.6M388.1 394.6h.6M398.8 388.0h.6M391.9 393.4h.6M388.4 394.1h.6M383.5 395.7h.6M389.3 391.2h.6M389.7 395.0h.6M390.2 392.4h.6M396.2 393.2h.6M386.6 395.0h.6M392.3 393.7h.6M391.4 391.6h.6M377.6 396.7h.6M379.9 401.1h.6M383.7 396.2h.6M385.6 395.9h.6M384.0 395.9h.6M389.1 390.6h.6M382.2 399.2h.6M385.4 396.7h.6M386.3 394.3h.6M385.4 397.0h.6M391.1 390.0h.6M392.9 387.7h.6M383.4 394.8h.6M390.2 393.1h.6M390.2 394.0h.6M383.2 397.7h.6M381.8 398.9h.6M388.4 395.8h.6M386.0 398.9h.6M382.9 397.6h.6M384.7 396.1h.6M385.2 396.9h.6M379.6 396.6h.6M385.7 394.2h.6M385.2 398.1h.6M388.7 394.6h.6M386.5 394.1h.6M389.0 392.3h.6M389.6 396.6h.6M388.0 391.7h.6M388.0 392.5h.6M388.8 392.9h.6M390.8 395.1h.6M379.0 399.8h.6M389.3 392.5h.6M386.6 396.0h.6M383.0 396.8h.6M388.0 393.0h.6M385.9 393.4h.6M383.6 395.1h.6M383.1 394.9h.6M391.8 393.6h.6M390.2 394.6h.6M393.5 388.9h.6M387.4 394.0h.6M387.5 395.4h.6M383.1 397.5h.6M391.0 391.8h.6M391.0 390.7h.6M390.1 394.5h.6M383.9 397.5h.6M380.0 402.0h.6M386.6 392.8h.6M395.7 389.1h.6M390.8 391.9h.6M383.2 395.7h.6M386.7 394.0h.6M380.4 399.6h.6M391.3 392.6h.6M386.6 393.6h.6M392.0 389.4h.6M389.8 395.0h.6M394.8 392.4h.6M381.9 400.4h.6M388.9 396.1h.6M382.0 395.0h.6M382.9 401.0h.6M387.8 392.7h.6M386.3 398.3h.6M403.5 386.7h.6M405.4 386.6h.6M397.7 392.4h.6M397.5 387.3h.6M390.7 394.5h.6M396.2 385.6h.6M388.5 393.4h.6M383.6 394.9h.6M385.9 393.9h.6M376.1 399.8h.6M394.4 390.0h.6M399.1 390.1h.6M395.5 389.5h.6M388.5 392.6h.6M399.1 393.1h.6M389.1 393.9h.6M393.4 391.1h.6M385.5 394.9h.6M394.6 392.4h.6M389.9 393.5h.6M385.1 395.9h.6M401.2 388.0h.6M391.4 390.7h.6M396.3 390.4h.6M380.2 396.6h.6M376.0 400.3h.6M393.8 389.1h.6M389.4 394.1h.6M384.4 393.7h.6M380.1 402.4h.6M385.7 396.2h.6M392.0 392.8h.6M389.6 394.9h.6M393.9 388.4h.6M377.0 397.4h.6M390.4 392.6h.6M393.0 390.0h.6M389.1 392.3h.6M377.3 399.2h.6M390.8 395.8h.6M384.5 394.6h.6M387.1 397.7h.6M387.8 396.1h.6M387.7 391.0h.6M400.8 386.9h.6M392.7 394.5h.6M392.0 390.5h.6M383.8 394.6h.6M384.6 395.8h.6M390.0 392.9h.6M389.8 391.9h.6M384.7 395.6h.6M391.5 389.3h.6M383.9 397.8h.6M387.5 398.4h.6M388.7 388.3h.6M385.3 396.8h.6M386.1 395.6h.6M381.0 392.7h.6M381.5 396.0h.6M394.1 390.3h.6M399.3 392.7h.6M370.0 402.7h.6M391.0 393.0h.6M390.9 394.9h.6M383.4 399.2h.6M387.9 392.6h.6M400.4 387.9h.6M377.2 397.8h.6M387.3 397.7h.6M395.0 395.8h.6M378.3 394.4h.6M384.6 394.8h.6M397.8 392.2h.6M387.8 391.0h.6M391.8 388.0h.6M400.9 380.9h.6M393.5 393.0h.6M394.4 392.5h.6M379.4 403.5h.6M388.7 394.1h.6M383.6 393.6h.6M388.5 396.2h.6M388.3 394.2h.6M392.1 392.1h.6M394.4 391.9h.6M386.8 393.3h.6M383.4 396.3h.6M388.2 391.2h.6M372.0 399.8h.6M386.2 395.1h.6M396.2 388.0h.6M380.3 399.6h.6M393.2 392.2h.6M389.5 390.9h.6M401.1 388.8h.6M379.7 401.3h.6M384.3 393.5h.6M388.3 390.4h.6M391.3 396.4h.6M391.6 394.2h.6M392.3 396.6h.6M394.3 393.7h.6M384.8 393.6h.6M388.1 396.9h.6M397.6 389.7h.6M394.3 390.9h.6M377.8 400.8h.6M390.9 393.1h.6M400.5 392.0h.6M383.1 395.2h.6M394.0 388.3h.6M382.2 396.7h.6M389.1 388.3h.6M400.7 385.5h.6M391.2 390.2h.6M387.3 393.8h.6M390.4 392.5h.6M392.4 391.7h.6M383.5 393.6h.6M394.9 392.5h.6M393.1 393.9h.6M391.2 394.5h.6M384.2 395.3h.6M381.9 395.6h.6M398.3 389.1h.6M383.3 395.8h.6M388.9 398.2h.6M402.0 387.7h.6M398.3 385.7h.6M391.9 390.9h.6M385.6 393.8h.6M384.3 395.3h.6M383.1 397.0h.6M371.8 405.3h.6M390.5 392.6h.6M389.5 391.9h.6M399.4 389.2h.6M366.0 405.5h.6M389.6 393.3h.6M390.6 388.1h.6M391.3 395.1h.6M393.7 393.1h.6M380.6 401.7h.6M390.1 397.1h.6M385.4 394.4h.6M373.0 399.3h.6M400.5 387.5h.6M388.1 395.0h.6M370.2 404.0h.6M379.4 399.7h.6M383.0 399.8h.6M385.2 399.0h.6M373.5 399.2h.6M380.6 396.0h.6M393.1 392.3h.6M388.5 393.9h.6M390.8 391.5h.6M386.6 395.2h.6M395.4 392.4h.6M380.9 404.6h.6M384.9 393.3h.6M401.5 388.3h.6M390.3 395.5h.6M389.1 394.2h.6M392.6 389.3h.6M390.7 392.5h.6M393.7 391.6h.6M394.1 386.5h.6M391.1 387.5h.6M383.9 395.2h.6M390.8 394.9h.6M390.4 393.4h.6M390.9 392.2h.6M392.9 392.4h.6M387.1 392.2h.6M395.8 389.3h.6M376.6 398.2h.6M393.4 394.3h.6M378.4 404.5h.6M376.4 395.8h.6M385.8 396.0h.6M390.8 388.4h.6M389.3 393.8h.6M392.8 387.7h.6M390.5 394.5h.6M380.8 396.0h.6M383.2 398.8h.6M376.9 404.3h.6M392.6 393.3h.6M393.0 391.9h.6M383.8 394.0h.6M389.4 394.5h.6M398.5 391.1h.6M381.4 398.1h.6M390.4 398.4h.6M386.7 395.8h.6M382.7 396.8h.6M374.9 400.6h.6M391.5 385.7h.6M379.2 396.6h.6M385.4 400.6h.6M389.1 396.1h.6M385.7 398.2h.6M391.2 393.0h.6M390.4 392.3h.6M390.7 392.6h.6M380.1 396.9h.6M385.8 395.4h.6M388.8 393.5h.6M384.9 397.9h.6M383.0 398.1h.6" stroke="#000" stroke-width="0.6" fill="none" stroke-opacity="0.9"/>
<ellipse cx="387.5" cy="393" rx="14.5" ry="14.8" fill="none" stroke="#222" stroke-width="0.7"/>
<rect x="436.40" y="351.50" width="76.20" height="66.40" fill="#fff" stroke="#666" stroke-width="0.8"/>
<text x="436.0" y="423.1" font-size="3.5" text-anchor="middle" fill="#000">10<tspan font-size="2.6" dy="-1.3">0</tspan></text>
<text x="433.7" y="418.9" font-size="3.5" text-anchor="middle" fill="#000" transform="rotate(-90 433.7 418.9)">10<tspan font-size="2.6" dy="-1.3">0</tspan></text>
<text x="455.1" y="423.1" font-size="3.5" text-anchor="middle" fill="#000">10<tspan font-size="2.6" dy="-1.3">1</tspan></text>
<text x="433.7" y="402.3" font-size="3.5" text-anchor="middle" fill="#000" transform="rotate(-90 433.7 402.3)">10<tspan font-size="2.6" dy="-1.3">1</tspan></text>
<text x="474.1" y="423.1" font-size="3.5" text-anchor="middle" fill="#000">10<tspan font-size="2.6" dy="-1.3">2</tspan></text>
<text x="433.7" y="385.7" font-size="3.5" text-anchor="middle" fill="#000" transform="rotate(-90 433.7 385.7)">10<tspan font-size="2.6" dy="-1.3">2</tspan></text>
<text x="493.2" y="423.1" font-size="3.5" text-anchor="middle" fill="#000">10<tspan font-size="2.6" dy="-1.3">3</tspan></text>
<text x="433.7" y="369.1" font-size="3.5" text-anchor="middle" fill="#000" transform="rotate(-90 433.7 369.1)">10<tspan font-size="2.6" dy="-1.3">3</tspan></text>
<text x="512.2" y="423.1" font-size="3.5" text-anchor="middle" fill="#000">10<tspan font-size="2.6" dy="-1.3">4</tspan></text>
<text x="433.7" y="352.5" font-size="3.5" text-anchor="middle" fill="#000" transform="rotate(-90 433.7 352.5)">10<tspan font-size="2.6" dy="-1.3">4</tspan></text>
<path d="M436.4 417.9v1.7M436.4 417.9h-1.7M455.4 417.9v1.7M436.4 401.3h-1.7M474.5 417.9v1.7M436.4 384.7h-1.7M493.6 417.9v1.7M436.4 368.1h-1.7M512.6 417.9v1.7M436.4 351.5h-1.7M442.1 417.9v1M436.4 412.9h-1M445.5 417.9v1M436.4 409.9h-1M447.8 417.9v1M436.4 407.9h-1M449.7 417.9v1M436.4 406.3h-1M451.3 417.9v1M436.4 405.0h-1M452.6 417.9v1M436.4 403.8h-1M453.5 417.9v1M436.4 403.0h-1M454.5 417.9v1M436.4 402.1h-1M461.2 417.9v1M436.4 396.3h-1M464.6 417.9v1M436.4 393.3h-1M466.9 417.9v1M436.4 391.3h-1M468.8 417.9v1M436.4 389.7h-1M470.3 417.9v1M436.4 388.4h-1M471.6 417.9v1M436.4 387.2h-1M472.6 417.9v1M436.4 386.4h-1M473.5 417.9v1M436.4 385.5h-1M480.2 417.9v1M436.4 379.7h-1M483.6 417.9v1M436.4 376.7h-1M485.9 417.9v1M436.4 374.7h-1M487.8 417.9v1M436.4 373.1h-1M489.4 417.9v1M436.4 371.8h-1M490.7 417.9v1M436.4 370.6h-1M491.6 417.9v1M436.4 369.8h-1M492.6 417.9v1M436.4 368.9h-1M499.3 417.9v1M436.4 363.1h-1M502.7 417.9v1M436.4 360.1h-1M505.0 417.9v1M436.4 358.1h-1M506.9 417.9v1M436.4 356.5h-1M508.4 417.9v1M436.4 355.2h-1M509.7 417.9v1M436.4 354.0h-1M510.7 417.9v1M436.4 353.2h-1M511.6 417.9v1M436.4 352.3h-1" stroke="#111" stroke-width="0.5" fill="none"/>
<path d="M445.7 409.4h.6M455.9 394.8h.6M456.2 406.1h.6M440.9 410.7h.6M443.4 409.6h.6M446.5 403.8h.6M463.1 403.0h.6M450.0 410.3h.6M456.5 397.7h.6M452.4 406.2h.6M448.2 403.3h.6M453.8 406.6h.6M457.0 403.5h.6M451.3 399.9h.6M454.7 407.1h.6M450.5 401.2h.6M448.0 409.0h.6M449.1 401.4h.6M455.7 396.0h.6M454.2 409.4h.6M449.6 405.5h.6M456.4 398.5h.6M444.1 411.5h.6M451.7 407.4h.6M441.7 413.7h.6M456.5 399.9h.6M443.2 407.1h.6M447.4 408.2h.6M453.7 397.4h.6M456.1 403.2h.6M458.5 406.6h.6M439.8 410.4h.6M445.5 402.2h.6M443.2 406.0h.6M450.6 402.1h.6M447.0 406.6h.6M444.6 406.4h.6M444.3 403.9h.6M451.0 404.0h.6M450.0 403.4h.6M452.7 398.4h.6M437.2 403.4h.6M450.4 400.2h.6M456.2 403.3h.6M443.3 402.4h.6M460.3 402.2h.6M438.9 404.2h.6M454.8 402.7h.6M440.6 399.9h.6M447.4 403.9h.6M444.0 400.0h.6M449.7 398.9h.6M453.5 399.9h.6M448.8 405.6h.6M446.3 406.5h.6M440.9 404.8h.6M455.5 401.5h.6M438.5 409.4h.6M459.7 405.8h.6M446.4 405.4h.6M448.5 402.6h.6M454.4 400.4h.6M449.5 410.2h.6M450.9 406.2h.6M450.2 403.0h.6M444.8 405.7h.6M451.4 410.1h.6M446.6 402.3h.6M438.4 408.2h.6M457.9 405.2h.6M449.3 409.9h.6M457.8 400.0h.6M450.6 403.5h.6M448.9 400.8h.6M452.4 409.2h.6M449.0 393.4h.6M456.1 400.9h.6M451.3 405.1h.6M447.4 407.3h.6M448.4 404.7h.6M450.9 408.9h.6M446.2 404.2h.6M452.4 400.1h.6M444.9 403.1h.6M448.2 400.0h.6M444.6 400.2h.6M448.4 403.8h.6M449.8 403.5h.6M443.5 403.6h.6M445.5 400.6h.6M450.2 408.2h.6M440.3 411.9h.6M453.8 402.4h.6M454.2 399.2h.6M454.5 407.1h.6M451.5 407.3h.6M458.2 403.1h.6M451.9 405.0h.6M449.6 397.8h.6M449.3 397.8h.6M442.5 405.7h.6M440.8 400.1h.6M449.9 402.1h.6M464.3 401.8h.6M447.3 402.6h.6M445.7 403.6h.6M441.2 405.5h.6M442.1 404.8h.6M442.1 402.1h.6M445.2 403.7h.6M442.8 404.3h.6M443.7 402.2h.6M452.0 396.9h.6M452.1 407.7h.6M449.0 402.1h.6M445.5 403.8h.6M454.4 405.5h.6M460.1 403.8h.6M447.2 405.3h.6M449.9 407.6h.6M457.5 401.1h.6M447.9 408.5h.6M451.9 402.3h.6M445.6 404.2h.6M460.3 400.0h.6M440.8 404.9h.6M458.7 401.2h.6M444.8 403.4h.6M446.7 401.3h.6M451.4 402.4h.6M446.2 401.9h.6M451.3 405.6h.6M452.6 405.1h.6M456.7 400.9h.6M448.1 401.7h.6M446.6 406.7h.6M452.0 396.9h.6M455.7 409.5h.6M447.8 400.6h.6M444.8 404.9h.6M446.5 400.4h.6M453.5 399.3h.6M448.5 403.8h.6M443.4 408.8h.6M456.9 405.0h.6M449.5 400.6h.6M445.9 398.9h.6M444.3 407.2h.6M454.5 408.6h.6M446.3 403.8h.6M450.4 400.1h.6M446.8 402.5h.6M456.2 400.3h.6M442.2 405.2h.6M463.3 401.5h.6M444.8 403.2h.6M449.5 407.4h.6M448.9 398.8h.6M449.6 399.2h.6M450.5 406.9h.6M455.3 401.8h.6M455.0 398.2h.6M451.6 402.6h.6M451.0 413.3h.6M448.7 405.5h.6M446.6 401.8h.6M448.7 407.8h.6M455.1 406.3h.6M454.1 400.9h.6M452.4 396.7h.6M456.8 399.0h.6M446.7 396.5h.6M450.5 402.7h.6M448.5 406.4h.6M454.8 396.5h.6M457.7 406.8h.6M455.6 407.7h.6M439.1 401.9h.6M448.4 396.3h.6M460.9 405.9h.6M438.0 401.1h.6M444.7 406.8h.6M451.0 398.5h.6M455.3 406.9h.6M449.8 403.6h.6M458.3 402.9h.6M455.1 397.1h.6M449.8 404.9h.6M454.6 395.1h.6M445.4 412.8h.6M448.3 402.0h.6M449.7 410.2h.6M444.5 403.0h.6M442.3 402.3h.6M451.1 403.9h.6M452.1 406.2h.6M458.6 401.8h.6M452.4 408.4h.6M456.0 402.2h.6M449.6 402.2h.6M457.3 400.7h.6M452.8 402.8h.6M452.5 406.1h.6M450.2 407.4h.6M439.5 412.6h.6M443.5 403.4h.6M461.6 406.6h.6M459.0 412.2h.6M447.6 405.5h.6M442.9 414.9h.6M451.5 407.7h.6M454.9 402.0h.6M440.1 411.7h.6M448.2 399.4h.6M439.3 413.5h.6M451.8 410.3h.6M462.6 407.1h.6M451.4 401.9h.6M462.0 413.8h.6M447.5 409.7h.6M468.9 406.8h.6M455.4 403.9h.6M443.8 403.6h.6M442.5 412.7h.6M458.1 406.2h.6M464.5 405.0h.6M437.0 415.2h.6M443.1 407.9h.6M453.2 412.8h.6M452.2 407.6h.6M461.0 408.9h.6M454.2 407.4h.6M456.0 415.0h.6M451.5 411.6h.6M446.9 413.9h.6M448.6 413.2h.6M465.9 411.0h.6M442.6 405.2h.6M462.9 409.5h.6M456.2 408.2h.6M449.8 407.4h.6M458.4 407.1h.6M452.0 409.7h.6M463.6 402.9h.6M443.6 407.4h.6M460.0 408.7h.6M452.4 400.7h.6M454.7 412.6h.6M447.6 411.3h.6M449.9 407.2h.6M454.4 409.2h.6M439.7 411.4h.6M458.2 408.1h.6M451.3 408.8h.6M467.1 408.6h.6M456.3 409.7h.6M458.9 412.0h.6M455.9 405.6h.6M452.0 415.9h.6M463.5 413.4h.6M475.1 415.7h.6M476.3 416.7h.6M458.8 414.3h.6M452.5 415.0h.6M469.4 415.9h.6M455.0 415.3h.6M446.9 416.6h.6M453.2 415.5h.6M456.1 415.5h.6M463.1 415.2h.6M467.0 414.6h.6M483.0 415.7h.6M506.6 414.9h.6M456.0 416.8h.6M455.6 414.4h.6M479.8 415.1h.6M446.0 414.8h.6M442.2 417.0h.6M477.7 416.2h.6M475.5 416.4h.6M459.7 416.7h.6M468.5 414.1h.6M456.8 415.9h.6M441.8 417.0h.6M473.0 416.1h.6M442.7 414.8h.6M453.3 415.3h.6M441.4 415.2h.6M455.2 414.9h.6M442.2 415.5h.6M507.1 414.5h.6M471.2 416.0h.6M454.7 415.3h.6M455.7 414.9h.6M442.4 414.9h.6M475.3 416.7h.6M444.4 416.4h.6M479.5 417.1h.6M451.4 416.9h.6M459.3 414.9h.6M471.0 416.6h.6M444.3 414.2h.6M458.8 415.4h.6M460.0 415.1h.6M454.7 414.6h.6M471.6 415.7h.6M465.7 414.1h.6M483.1 417.1h.6M466.5 414.2h.6M468.1 416.6h.6M460.0 415.6h.6M458.3 415.6h.6M439.9 415.8h.6M460.0 414.8h.6M471.2 415.5h.6M460.7 416.2h.6M455.8 415.5h.6M438.6 414.5h.6M445.0 413.8h.6M475.2 415.6h.6M462.4 415.5h.6M454.3 416.8h.6M464.5 415.6h.6M443.5 415.0h.6M472.0 415.6h.6M471.9 415.1h.6M486.0 416.4h.6M442.6 415.1h.6M442.3 415.3h.6M455.8 414.8h.6M463.7 415.6h.6M446.6 416.3h.6M464.9 415.3h.6M455.3 415.7h.6M448.4 414.6h.6M449.3 414.7h.6M477.1 415.4h.6M453.7 415.2h.6M441.3 417.0h.6M474.2 415.3h.6M465.3 387.5h.6M471.2 409.0h.6M465.1 401.7h.6M478.3 403.4h.6M465.0 391.0h.6M458.4 400.0h.6M478.6 394.7h.6M472.5 399.6h.6M451.7 397.1h.6M481.5 408.5h.6M465.3 393.4h.6M469.3 397.3h.6M474.4 386.2h.6M457.9 401.9h.6M477.1 404.7h.6M458.0 379.7h.6M480.4 407.3h.6M467.6 391.4h.6M481.9 391.2h.6M455.8 402.6h.6M478.0 397.3h.6M456.9 393.6h.6M470.6 405.4h.6M458.9 396.0h.6M475.7 396.3h.6" stroke="#444" stroke-width="0.5" fill="none" stroke-opacity="0.7"/>
<path d="M464.6 395.4h.6M458.0 396.9h.6M461.8 395.1h.6M461.8 395.4h.6M463.0 395.1h.6M463.9 390.2h.6M461.2 397.9h.6M465.0 394.0h.6M462.3 393.7h.6M464.6 395.9h.6M465.8 392.0h.6M464.6 393.1h.6M456.6 397.7h.6M459.9 395.0h.6M459.8 397.6h.6M465.0 394.5h.6M464.1 392.6h.6M461.1 395.1h.6M462.9 393.4h.6M461.8 397.4h.6M462.7 396.4h.6M461.7 394.8h.6M465.4 394.5h.6M462.3 394.4h.6M461.6 397.0h.6M463.2 396.9h.6M461.3 398.2h.6M465.8 393.3h.6M465.2 394.3h.6M459.8 399.1h.6M465.8 392.2h.6M461.6 395.5h.6M464.0 395.2h.6M461.3 395.7h.6M464.0 397.7h.6M465.7 395.4h.6M459.9 401.0h.6M455.7 398.6h.6M461.4 394.0h.6M464.7 394.1h.6M458.3 397.9h.6M463.0 395.3h.6M457.8 396.4h.6M460.5 396.4h.6M461.4 392.4h.6M467.6 389.6h.6M461.3 393.7h.6M467.9 394.4h.6M464.4 395.2h.6M465.4 389.1h.6M461.5 397.0h.6M460.3 396.0h.6M467.8 394.1h.6M458.1 397.8h.6M465.1 394.9h.6M463.3 391.9h.6M467.2 389.8h.6M460.6 395.0h.6M465.6 393.8h.6M466.1 388.7h.6M469.8 388.5h.6M462.7 395.6h.6M464.7 395.3h.6M457.4 395.8h.6M465.2 391.9h.6M467.1 392.5h.6M462.8 395.5h.6M467.7 390.9h.6M464.8 394.2h.6M464.1 392.5h.6M464.0 394.9h.6M470.1 390.7h.6M460.5 395.4h.6M461.7 398.3h.6M463.7 392.0h.6M467.9 385.9h.6M462.6 390.7h.6M460.1 397.8h.6M457.4 396.5h.6M461.6 395.7h.6M462.1 395.1h.6M461.7 394.4h.6M466.9 392.1h.6M463.7 394.9h.6M459.3 394.4h.6M459.9 402.0h.6M457.1 397.2h.6M464.0 391.5h.6M460.3 397.6h.6M471.0 390.7h.6M459.2 401.6h.6M461.6 394.1h.6M466.1 392.5h.6M464.5 393.6h.6M460.7 393.8h.6M464.0 394.4h.6M463.3 394.1h.6M463.6 391.8h.6M462.9 393.8h.6M463.2 395.9h.6M469.6 389.9h.6M470.3 391.7h.6M469.9 391.3h.6M463.2 394.5h.6M463.6 394.3h.6M460.5 395.2h.6M463.9 396.6h.6M465.4 391.6h.6M463.1 397.8h.6M466.3 391.6h.6M463.8 395.7h.6M458.5 395.6h.6M465.6 394.3h.6M464.9 392.4h.6M466.0 396.3h.6M464.2 392.2h.6M459.7 396.6h.6M462.6 394.7h.6M459.6 396.1h.6M463.6 394.5h.6M465.6 395.0h.6M462.8 391.0h.6M465.4 392.7h.6M460.6 396.5h.6M463.7 394.9h.6M462.1 395.9h.6M465.3 392.6h.6M464.2 393.1h.6M453.5 397.7h.6M465.8 392.7h.6M462.4 393.1h.6M463.3 391.0h.6M459.1 398.0h.6M461.2 395.9h.6M464.0 393.0h.6M459.9 396.0h.6M466.2 391.6h.6M462.1 392.1h.6M466.8 392.5h.6M466.4 390.7h.6M461.5 397.7h.6M459.1 400.3h.6M462.5 393.1h.6M463.8 395.1h.6M463.4 396.0h.6M460.1 393.2h.6M465.1 395.6h.6M464.0 395.5h.6M461.4 398.4h.6M469.8 390.8h.6M461.3 396.7h.6M464.1 388.7h.6M464.7 392.3h.6M462.7 395.6h.6M468.3 391.7h.6M466.5 393.9h.6M463.3 394.9h.6M468.2 394.5h.6M459.0 398.4h.6M462.9 393.1h.6M458.1 396.9h.6M465.4 393.2h.6M468.2 391.5h.6M465.1 389.8h.6M462.9 394.4h.6M461.9 395.3h.6M465.4 393.7h.6M463.0 394.0h.6M459.7 397.6h.6M462.1 392.0h.6M465.3 393.5h.6M462.5 393.8h.6M460.0 396.4h.6M459.9 395.3h.6M467.5 392.6h.6M464.9 391.2h.6M460.3 398.0h.6M462.1 393.4h.6M460.2 394.7h.6M466.7 391.8h.6M462.4 394.8h.6M464.1 392.5h.6M460.0 398.8h.6M457.7 396.8h.6M466.3 392.2h.6M466.7 394.1h.6M462.9 393.7h.6M458.8 398.4h.6M459.0 396.2h.6M463.6 395.1h.6M459.2 395.8h.6M464.5 394.8h.6M462.8 396.9h.6M467.4 391.9h.6M469.0 390.3h.6M461.1 397.1h.6M462.2 393.8h.6M468.4 385.6h.6M467.0 394.5h.6M465.8 388.0h.6M459.5 398.5h.6M462.1 390.5h.6M466.1 391.6h.6M455.6 399.0h.6M460.5 398.4h.6M458.7 397.4h.6M469.0 388.9h.6M466.9 392.9h.6M459.5 397.2h.6M459.5 400.0h.6M464.9 395.5h.6M462.2 390.1h.6M464.3 390.3h.6M461.3 396.8h.6M462.7 393.8h.6M461.0 398.3h.6M465.7 390.9h.6M466.7 387.6h.6M465.4 394.2h.6M462.6 397.4h.6M464.9 390.7h.6M468.4 391.1h.6M467.8 391.8h.6M464.2 395.0h.6M464.6 393.0h.6M466.3 397.1h.6M463.6 392.0h.6M467.7 393.5h.6M455.9 398.1h.6M464.0 394.9h.6M461.2 398.2h.6M461.0 398.4h.6M466.8 395.6h.6M467.0 388.3h.6M458.0 398.9h.6M462.9 392.8h.6M452.7 401.1h.6M468.5 391.3h.6M461.1 394.3h.6M462.3 391.3h.6M461.4 399.4h.6M462.8 394.9h.6M461.2 395.0h.6M460.8 395.6h.6M458.1 395.4h.6M465.8 391.9h.6M461.4 397.1h.6M462.4 398.9h.6M459.1 395.6h.6M461.2 394.1h.6M464.5 394.7h.6M460.4 398.1h.6M464.4 395.4h.6M462.6 397.8h.6M469.4 392.8h.6M466.2 394.8h.6M460.1 393.1h.6M460.6 396.0h.6M458.0 395.1h.6M465.4 389.1h.6M463.0 398.7h.6M461.5 399.9h.6M466.5 391.1h.6M463.8 396.2h.6M465.0 393.8h.6M461.5 395.7h.6M462.0 399.3h.6M464.4 389.4h.6M457.0 399.1h.6M459.6 399.5h.6M461.1 394.4h.6M456.5 397.3h.6M461.3 392.4h.6M463.4 399.8h.6M466.9 394.0h.6M470.3 387.5h.6M467.7 393.2h.6M462.7 394.7h.6M459.5 401.4h.6M463.2 393.5h.6M459.5 393.3h.6M470.0 393.3h.6M462.9 397.9h.6M460.6 398.3h.6M457.0 399.5h.6M465.5 389.4h.6M457.9 398.9h.6M465.4 393.9h.6M467.8 389.0h.6M467.1 391.0h.6M464.3 391.9h.6M462.4 399.6h.6M464.7 395.9h.6M467.5 393.5h.6M466.4 395.1h.6M469.0 388.9h.6M459.7 397.9h.6M466.7 397.6h.6M459.5 397.3h.6M461.2 397.5h.6M466.2 389.1h.6M463.3 393.6h.6M467.7 389.8h.6M458.6 398.4h.6M460.5 399.1h.6M463.5 394.6h.6M462.1 393.9h.6M462.3 395.0h.6M466.1 393.4h.6M462.9 395.8h.6M460.9 398.9h.6M464.6 393.3h.6M458.0 397.7h.6M464.4 391.4h.6M466.9 391.1h.6M465.3 393.3h.6M460.3 397.6h.6M464.4 393.1h.6M462.3 397.3h.6M462.0 396.9h.6M461.8 394.8h.6M465.6 398.0h.6M466.1 393.3h.6M467.0 386.9h.6M466.6 392.3h.6M464.8 396.8h.6M468.2 391.4h.6M465.9 391.4h.6M468.8 389.3h.6M464.0 395.2h.6M457.8 398.6h.6M460.0 395.2h.6M466.6 391.0h.6M469.8 387.9h.6M466.7 393.4h.6M465.5 392.9h.6M467.8 390.8h.6M455.7 399.3h.6M468.2 393.1h.6M462.8 394.2h.6M466.9 393.7h.6M461.5 397.5h.6M462.6 396.7h.6M465.6 395.9h.6M465.7 394.8h.6M462.5 397.0h.6M465.5 392.3h.6M461.3 395.6h.6M460.0 397.1h.6M463.8 394.1h.6M459.1 397.6h.6M464.6 392.6h.6M460.7 394.5h.6M467.3 388.1h.6M462.2 391.6h.6M463.2 399.0h.6M461.6 397.8h.6M461.7 396.5h.6M464.7 394.2h.6M460.7 397.8h.6M466.0 394.7h.6M459.6 399.1h.6M458.3 391.2h.6M464.9 394.7h.6M463.1 396.4h.6M462.9 389.8h.6M465.4 394.2h.6M460.8 390.5h.6M461.4 397.9h.6M462.4 396.5h.6M457.6 402.3h.6M461.5 394.4h.6M461.7 398.9h.6M464.0 397.3h.6M457.6 399.8h.6M464.9 394.3h.6M464.0 392.8h.6M466.0 392.9h.6M465.6 394.0h.6M462.9 393.0h.6M468.0 389.5h.6M462.6 396.6h.6M459.0 396.7h.6M467.9 392.3h.6M462.2 396.0h.6M460.4 400.2h.6M465.7 394.1h.6M464.6 392.6h.6M468.3 391.8h.6M468.1 391.4h.6M461.9 392.9h.6M463.2 397.5h.6M465.8 393.2h.6M457.1 397.1h.6M460.4 395.4h.6M464.1 395.9h.6M465.3 396.2h.6M467.9 393.0h.6M460.6 391.3h.6M462.6 395.3h.6M457.5 396.2h.6M463.8 393.7h.6M459.5 399.1h.6M463.4 395.6h.6M464.0 399.4h.6M457.5 394.7h.6M463.4 392.6h.6M458.2 396.2h.6M462.3 396.5h.6M464.0 394.4h.6M466.6 394.3h.6M465.1 395.9h.6M472.2 390.4h.6M466.0 389.3h.6M462.9 395.5h.6M462.3 394.4h.6M464.5 392.5h.6M465.2 392.1h.6M460.0 396.2h.6M462.9 397.6h.6M464.7 394.0h.6M454.6 400.6h.6M462.8 394.0h.6M459.8 398.4h.6M461.6 396.4h.6M467.8 392.9h.6M462.7 396.2h.6M466.3 395.8h.6M466.0 393.7h.6M466.1 389.3h.6M463.2 396.3h.6M462.9 396.8h.6M463.9 389.5h.6M460.6 399.1h.6M463.5 394.0h.6M466.2 395.2h.6M466.1 393.0h.6M465.4 393.3h.6M458.1 397.2h.6M463.4 396.0h.6M459.8 398.9h.6M465.5 389.8h.6M466.1 393.5h.6M463.5 393.9h.6M462.0 396.7h.6M465.1 395.3h.6M463.9 396.8h.6M462.1 397.0h.6M463.8 392.9h.6M461.1 396.4h.6M470.3 393.6h.6M464.7 397.0h.6M466.4 390.7h.6M464.4 392.9h.6M457.0 397.5h.6M462.7 395.6h.6M458.9 398.5h.6M460.3 401.2h.6M470.7 388.7h.6M468.4 386.6h.6M469.6 393.8h.6M468.2 390.1h.6M459.1 393.4h.6M464.9 391.2h.6M460.5 397.9h.6M465.4 393.0h.6M457.4 399.6h.6M463.6 395.2h.6M464.9 394.5h.6M469.4 393.3h.6M460.5 395.9h.6M464.4 389.9h.6M467.9 393.5h.6M466.5 392.7h.6M466.4 389.6h.6M461.1 397.3h.6M465.3 395.8h.6M459.3 399.2h.6M463.9 390.8h.6M464.5 393.1h.6M460.5 393.9h.6M458.6 397.6h.6M464.9 389.9h.6M462.1 398.1h.6M461.3 394.6h.6M464.8 393.4h.6M466.1 392.2h.6M460.8 392.8h.6M461.9 395.2h.6M460.6 395.9h.6M460.7 395.3h.6M462.7 395.3h.6M469.5 387.5h.6M466.7 392.6h.6M461.4 394.4h.6M465.4 391.8h.6M469.3 394.5h.6M462.3 392.9h.6M463.9 391.3h.6M459.9 396.4h.6M462.9 398.9h.6M467.7 389.0h.6M468.8 391.4h.6M464.0 395.7h.6M467.8 392.0h.6M462.1 396.7h.6M462.7 396.8h.6M470.2 391.2h.6M462.4 398.8h.6M467.9 392.7h.6M463.9 390.7h.6M462.4 391.1h.6M458.6 392.9h.6M467.7 394.2h.6M465.7 393.4h.6M469.3 392.4h.6M468.1 394.0h.6M467.1 395.4h.6M455.4 400.7h.6M458.3 396.3h.6M464.4 395.2h.6M464.3 389.3h.6M462.9 396.7h.6M464.9 396.0h.6M463.5 397.1h.6M469.3 392.0h.6M466.1 389.5h.6M462.6 395.6h.6M458.6 395.1h.6M461.5 395.8h.6M462.0 395.8h.6M464.6 392.3h.6M466.6 391.6h.6M467.0 395.2h.6M464.4 398.1h.6M466.1 392.2h.6M460.2 399.0h.6M462.8 391.6h.6M461.3 395.6h.6M456.8 394.8h.6M458.9 396.8h.6M464.0 396.1h.6M464.7 388.6h.6M466.2 391.9h.6M467.2 392.7h.6M463.6 397.2h.6M462.4 396.2h.6M464.8 395.2h.6M465.0 399.6h.6M467.0 389.2h.6M464.7 393.0h.6M461.1 399.8h.6M462.9 396.4h.6M465.3 394.4h.6M455.4 400.1h.6M461.1 395.6h.6M462.0 394.2h.6M466.0 393.5h.6M464.1 393.9h.6M465.1 396.3h.6M458.5 398.8h.6M463.9 401.9h.6M466.0 393.0h.6M462.1 399.2h.6M457.9 399.2h.6M466.9 387.9h.6M461.9 395.8h.6M461.7 393.5h.6M465.9 389.9h.6M460.0 394.0h.6M453.9 406.3h.6M462.9 392.5h.6M456.3 397.1h.6M461.0 397.4h.6M462.3 397.4h.6M468.0 392.9h.6M457.0 397.3h.6M456.1 400.8h.6M458.0 399.6h.6M454.7 403.3h.6M452.9 402.3h.6M464.5 397.7h.6M456.0 403.8h.6M454.8 396.5h.6M467.0 394.8h.6M465.3 392.4h.6M458.5 404.6h.6M460.4 402.0h.6M458.9 400.6h.6M466.7 398.9h.6M472.8 389.5h.6M458.1 402.1h.6M454.7 397.8h.6M461.5 405.3h.6M456.9 398.2h.6M456.1 401.0h.6M467.3 389.0h.6M454.5 399.2h.6M462.5 397.0h.6M473.4 389.8h.6M466.2 394.4h.6M460.6 402.3h.6M464.0 393.7h.6M472.1 391.3h.6M469.4 392.1h.6M454.8 400.8h.6M466.9 393.3h.6M465.2 387.5h.6M469.6 389.4h.6M454.7 395.8h.6M464.2 395.8h.6M455.1 399.7h.6M470.4 387.5h.6M456.8 399.4h.6M459.2 396.7h.6M474.0 392.7h.6M464.1 395.8h.6M464.0 395.7h.6M454.6 396.9h.6M461.1 398.3h.6M466.2 390.1h.6M468.5 393.5h.6M459.2 395.8h.6M460.4 401.1h.6M458.0 401.5h.6M455.5 403.4h.6M457.8 396.3h.6M456.8 400.9h.6M461.0 400.0h.6M456.3 400.9h.6M465.2 393.6h.6M452.9 399.4h.6M462.4 396.2h.6M455.1 402.9h.6M470.8 388.2h.6M458.0 392.0h.6M468.6 392.0h.6M458.8 402.0h.6M462.2 398.3h.6M466.5 395.5h.6M469.2 394.8h.6M451.5 400.2h.6M456.5 399.6h.6M464.7 393.5h.6M466.9 389.8h.6M462.1 396.1h.6M468.9 390.7h.6M465.4 390.8h.6M457.9 397.4h.6M478.4 386.6h.6M470.0 397.0h.6M461.3 398.1h.6M464.3 393.7h.6M457.3 404.1h.6M462.6 398.0h.6M460.5 396.8h.6M459.4 393.1h.6M463.0 394.0h.6M455.5 396.3h.6M467.5 391.2h.6M460.3 395.9h.6M466.1 389.4h.6M457.2 396.7h.6M463.2 397.6h.6M459.0 395.6h.6M472.0 389.5h.6M459.2 397.9h.6M462.1 400.6h.6M470.0 393.3h.6M460.2 397.3h.6M459.6 395.3h.6M458.7 403.3h.6M463.5 395.3h.6M454.8 399.1h.6M466.0 398.7h.6M462.3 394.0h.6M466.9 394.9h.6M461.2 397.1h.6M465.9 395.7h.6M462.0 397.3h.6M462.6 398.4h.6M462.2 392.5h.6M469.1 390.9h.6M463.7 394.6h.6M465.7 397.0h.6M450.7 399.8h.6M476.5 387.3h.6M466.2 391.8h.6M470.5 393.1h.6M459.4 390.8h.6M475.3 389.6h.6M462.8 396.5h.6M470.7 386.3h.6M457.2 398.0h.6M463.7 399.4h.6M458.0 396.0h.6M448.8 401.0h.6M464.1 391.3h.6M451.1 402.5h.6M460.2 402.9h.6M457.5 398.5h.6M457.3 390.4h.6M465.4 388.2h.6M465.2 392.7h.6M458.1 390.0h.6M462.3 399.9h.6M464.5 394.2h.6M464.5 398.7h.6M458.2 399.5h.6M459.5 396.9h.6M468.7 389.4h.6M464.9 395.1h.6M454.4 400.8h.6M463.3 397.5h.6M456.8 397.4h.6M465.2 393.9h.6M468.8 396.2h.6M459.2 393.4h.6M459.8 396.8h.6M460.1 396.2h.6M459.4 403.2h.6M465.8 391.4h.6M468.6 394.2h.6M463.5 395.5h.6M453.6 407.5h.6M461.6 390.5h.6M456.6 394.4h.6M455.6 398.9h.6M462.3 399.9h.6M467.5 394.1h.6M462.9 392.2h.6M459.7 400.3h.6M461.6 396.7h.6M470.1 387.5h.6M458.5 398.3h.6M461.2 397.1h.6M465.9 391.1h.6M459.1 395.6h.6M466.1 390.8h.6M456.5 395.0h.6M471.1 391.9h.6M465.2 390.8h.6M463.5 392.3h.6M461.3 397.4h.6M473.0 377.1h.6M451.2 396.6h.6M465.7 392.8h.6M464.5 389.3h.6M461.9 394.4h.6M470.8 392.4h.6M453.7 400.7h.6M470.6 390.7h.6M465.0 395.2h.6M462.1 396.3h.6M475.9 391.0h.6M461.1 401.4h.6M460.1 390.1h.6M456.3 410.5h.6M465.4 393.8h.6M461.4 396.3h.6M462.5 396.8h.6M459.7 397.5h.6M459.9 399.2h.6M464.2 391.8h.6M465.2 389.5h.6M460.4 390.6h.6M464.3 393.4h.6M449.3 402.0h.6M464.5 394.5h.6M454.4 403.0h.6M457.1 400.3h.6M463.7 395.1h.6M461.5 397.0h.6M474.3 389.9h.6M466.6 395.5h.6M458.4 394.7h.6M456.9 400.2h.6M453.7 397.4h.6M462.5 393.0h.6M459.8 394.0h.6M443.9 404.1h.6M439.3 403.5h.6M447.9 405.9h.6M455.9 401.6h.6M453.0 404.1h.6M447.2 401.5h.6M447.7 406.2h.6M452.9 403.6h.6M443.7 406.6h.6M457.9 403.1h.6M442.6 403.5h.6M448.5 406.0h.6M459.0 399.9h.6M444.6 403.7h.6M445.4 396.5h.6M452.0 403.9h.6M448.0 404.7h.6M446.1 402.7h.6M460.6 405.8h.6M449.4 402.0h.6M448.9 400.7h.6M454.2 401.7h.6M446.3 401.7h.6M447.7 406.5h.6M448.8 403.4h.6M447.9 405.2h.6M449.8 400.1h.6M447.9 407.2h.6M444.5 406.5h.6M450.2 401.7h.6M449.4 407.8h.6M443.6 402.9h.6M452.1 400.4h.6M454.0 401.9h.6M449.0 407.4h.6M450.5 404.3h.6M445.8 407.1h.6M443.8 404.2h.6M449.2 399.6h.6M450.6 404.2h.6M452.9 401.6h.6M440.9 407.0h.6M445.3 409.6h.6M444.2 402.0h.6M457.9 402.1h.6M451.6 400.5h.6M449.4 397.7h.6M449.9 405.4h.6M445.1 408.2h.6M451.7 409.3h.6M456.3 406.8h.6M444.7 407.4h.6M448.4 405.5h.6M446.7 399.2h.6M447.4 402.4h.6M444.0 400.8h.6M449.0 403.3h.6M445.7 408.0h.6M451.4 407.6h.6M451.6 402.3h.6M454.9 404.8h.6M449.8 398.4h.6M449.8 404.1h.6M456.5 400.1h.6M457.0 404.1h.6M448.8 402.4h.6M451.5 400.1h.6M454.2 403.1h.6M448.9 405.1h.6M452.3 400.1h.6M446.4 403.5h.6M449.2 405.8h.6M449.4 400.7h.6M449.4 406.7h.6M455.6 393.9h.6M446.8 406.0h.6M449.8 403.5h.6M448.9 404.6h.6M453.0 407.1h.6M445.4 400.6h.6M447.5 401.0h.6M449.2 405.6h.6M444.3 404.4h.6M454.1 411.3h.6M446.0 400.4h.6M453.3 400.4h.6M445.9 404.1h.6M446.5 405.2h.6M452.1 399.1h.6M441.8 403.2h.6M458.7 403.2h.6M449.2 400.9h.6M448.9 401.2h.6M449.6 401.4h.6M461.2 395.6h.6M450.0 405.9h.6M452.8 405.8h.6M444.8 407.4h.6M451.2 404.5h.6M451.8 406.1h.6M454.3 401.3h.6M450.2 406.4h.6M449.8 405.0h.6M450.4 407.9h.6M452.7 402.4h.6M456.2 398.1h.6M444.9 407.9h.6M451.7 401.9h.6M450.8 403.7h.6M451.4 399.2h.6M444.6 405.7h.6M446.4 409.3h.6M445.1 402.5h.6M454.6 396.9h.6M451.4 403.9h.6M449.3 402.4h.6M448.0 404.6h.6M446.8 406.2h.6M450.3 403.2h.6M450.8 399.3h.6M452.5 400.7h.6M445.9 402.1h.6M459.6 401.2h.6M442.6 412.3h.6M454.2 399.5h.6M450.5 404.0h.6M456.7 402.7h.6M453.3 403.2h.6M452.1 398.7h.6M451.9 399.4h.6M448.4 402.5h.6M451.0 397.0h.6M450.7 402.2h.6M447.1 403.3h.6M443.3 406.9h.6M456.5 403.2h.6M448.0 402.0h.6M446.4 403.9h.6M446.0 406.2h.6M456.5 405.3h.6M443.5 411.2h.6M453.2 404.0h.6M457.7 406.1h.6M453.6 409.3h.6M459.0 398.0h.6M449.0 405.7h.6M452.0 409.6h.6M442.4 410.5h.6M448.8 407.9h.6M458.3 407.7h.6M453.7 405.8h.6M449.5 406.0h.6M450.3 402.0h.6M443.5 402.0h.6M447.5 409.4h.6M448.3 401.5h.6M451.9 404.0h.6M457.5 404.5h.6M444.7 400.3h.6M455.8 403.0h.6M450.9 405.0h.6M451.3 403.4h.6M446.6 408.9h.6M450.3 405.9h.6M448.2 405.6h.6M447.6 399.1h.6M452.0 404.9h.6M453.0 406.5h.6M445.7 404.6h.6" stroke="#000" stroke-width="0.6" fill="none" stroke-opacity="0.9"/>
<ellipse cx="464.4" cy="392.5" rx="12.8" ry="12.8" fill="none" stroke="#222" stroke-width="0.7"/>
<path d="M338.1 334V175.7" stroke="#000" stroke-width="1.5"/><path d="M338.1 172.7l-2.2 4.2h4.4z" fill="#000"/>
<path d="M350 249.7H504.5" stroke="#000" stroke-width="1.4"/><path d="M507.5 249.7l-4.2 -2.2v4.4z" fill="#000"/>
<path d="M350 338.3H504.8" stroke="#000" stroke-width="1.4"/><path d="M507.8 338.3l-4.2 -2.2v4.4z" fill="#000"/>
<path d="M338.2 434.6V354.6" stroke="#000" stroke-width="1.5"/><path d="M338.2 351.6l-2.2 4.2h4.4z" fill="#000"/>
<path d="M350 434.5H504.5" stroke="#000" stroke-width="1.4"/><path d="M507.5 434.5l-4.2 -2.2v4.4z" fill="#000"/>
<text x="350.60" y="258.80" font-size="6.45" text-anchor="start" font-weight="bold" fill="#000" stroke="#000" stroke-width="0.14" >CD15</text>
<text x="354.60" y="347.40" font-size="6.45" text-anchor="start" font-weight="bold" fill="#000" stroke="#000" stroke-width="0.14" >CD36</text>
<text x="354.60" y="445.00" font-size="6.45" text-anchor="start" font-weight="bold" fill="#000" stroke="#000" stroke-width="0.14" >CD11b</text>
<text x="331.00" y="250.00" font-size="6.4" text-anchor="middle" font-weight="bold" fill="#000" stroke="#000" stroke-width="0.14" transform="rotate(-90 331 250)">CD11b</text>
<text x="331.00" y="386.10" font-size="6.2" text-anchor="middle" font-weight="bold" fill="#000" stroke="#000" stroke-width="0.14" transform="rotate(-90 331 386.1)">CD14</text></g>
</svg>
</body></html>
